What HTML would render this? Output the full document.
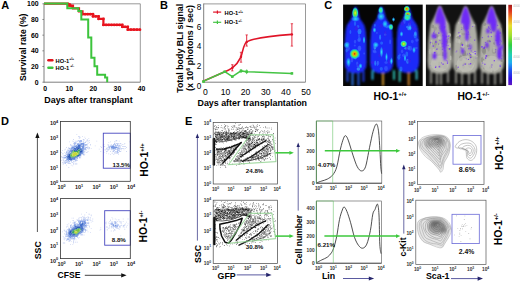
<!DOCTYPE html>
<html><head><meta charset="utf-8"><style>
html,body{margin:0;padding:0;background:#fff;width:520px;height:282px;overflow:hidden}
svg{display:block}
text{font-family:"Liberation Sans", sans-serif}
</style></head><body>
<svg width="520" height="282" viewBox="0 0 520 282" font-family="Liberation Sans, sans-serif">
<rect width="520" height="282" fill="#fff"/>
<text x="1.2" y="9.1" font-size="11" font-weight="bold" text-anchor="start" fill="#000">A</text>
<text x="160.0" y="8.8" font-size="11" font-weight="bold" text-anchor="start" fill="#000">B</text>
<text x="324.3" y="9.0" font-size="11" font-weight="bold" text-anchor="start" fill="#000">C</text>
<text x="1.0" y="125.2" font-size="11" font-weight="bold" text-anchor="start" fill="#000">D</text>
<text x="185.0" y="125.2" font-size="11" font-weight="bold" text-anchor="start" fill="#000">E</text>
<line x1="44.0" y1="3.8" x2="140.3" y2="3.8" stroke="#808080" stroke-width="0.8"/>
<line x1="140.3" y1="3.8" x2="140.3" y2="82.2" stroke="#808080" stroke-width="0.8"/>
<line x1="44.0" y1="3.4" x2="44.0" y2="82.60000000000001" stroke="#707070" stroke-width="0.9"/>
<line x1="44.0" y1="82.2" x2="140.3" y2="82.2" stroke="#707070" stroke-width="0.9"/>
<line x1="42.4" y1="82.2" x2="44.0" y2="82.2" stroke="#707070" stroke-width="0.8"/>
<text x="38.6" y="84.60000000000001" font-size="6.9" font-weight="bold" text-anchor="end" fill="#000">0</text>
<line x1="42.4" y1="66.52000000000001" x2="44.0" y2="66.52000000000001" stroke="#707070" stroke-width="0.8"/>
<text x="38.6" y="68.92000000000002" font-size="6.9" font-weight="bold" text-anchor="end" fill="#000">20</text>
<line x1="42.4" y1="50.84" x2="44.0" y2="50.84" stroke="#707070" stroke-width="0.8"/>
<text x="38.6" y="53.24" font-size="6.9" font-weight="bold" text-anchor="end" fill="#000">40</text>
<line x1="42.4" y1="35.160000000000004" x2="44.0" y2="35.160000000000004" stroke="#707070" stroke-width="0.8"/>
<text x="38.6" y="37.56" font-size="6.9" font-weight="bold" text-anchor="end" fill="#000">60</text>
<line x1="42.4" y1="19.480000000000004" x2="44.0" y2="19.480000000000004" stroke="#707070" stroke-width="0.8"/>
<text x="38.6" y="21.880000000000003" font-size="6.9" font-weight="bold" text-anchor="end" fill="#000">80</text>
<line x1="42.4" y1="3.799999999999997" x2="44.0" y2="3.799999999999997" stroke="#707070" stroke-width="0.8"/>
<text x="38.6" y="6.1999999999999975" font-size="6.9" font-weight="bold" text-anchor="end" fill="#000">100</text>
<text x="45.2" y="90.8" font-size="6.9" font-weight="bold" text-anchor="middle" fill="#000">0</text>
<text x="69.275" y="90.8" font-size="6.9" font-weight="bold" text-anchor="middle" fill="#000">10</text>
<text x="93.35000000000001" y="90.8" font-size="6.9" font-weight="bold" text-anchor="middle" fill="#000">20</text>
<text x="117.42500000000001" y="90.8" font-size="6.9" font-weight="bold" text-anchor="middle" fill="#000">30</text>
<text x="141.5" y="90.8" font-size="6.9" font-weight="bold" text-anchor="middle" fill="#000">40</text>
<text x="44.3" y="102.9" font-size="8.9" font-weight="bold" text-anchor="start" fill="#000">Days after transplant</text>
<text x="25.8" y="47.2" font-size="8.6" font-weight="bold" text-anchor="middle" fill="#000" transform="rotate(-90 25.8 47.2)">Survival rate (%)</text>
<polyline points="44.00,3.70 68.00,3.70 68.00,5.60 73.00,5.60 73.00,8.40 79.00,8.40 79.00,11.40 82.50,11.40 82.50,14.20 93.00,14.20 93.00,16.30 98.60,16.30 98.60,18.90 103.40,18.90 103.40,24.90 122.30,24.90 122.30,26.80 127.80,26.80 127.80,29.70 140.00,29.70" stroke="#e8141e" stroke-width="2.2" fill="none"/>
<circle cx="82.50" cy="14.2" r="1.35" fill="#e8141e"/>
<circle cx="85.12" cy="14.2" r="1.35" fill="#e8141e"/>
<circle cx="87.75" cy="14.2" r="1.35" fill="#e8141e"/>
<circle cx="90.38" cy="14.2" r="1.35" fill="#e8141e"/>
<circle cx="93.00" cy="14.2" r="1.35" fill="#e8141e"/>
<circle cx="93.00" cy="16.3" r="1.35" fill="#e8141e"/>
<circle cx="95.80" cy="16.3" r="1.35" fill="#e8141e"/>
<circle cx="98.60" cy="16.3" r="1.35" fill="#e8141e"/>
<circle cx="98.60" cy="18.9" r="1.35" fill="#e8141e"/>
<circle cx="103.40" cy="18.9" r="1.35" fill="#e8141e"/>
<circle cx="103.40" cy="24.9" r="1.35" fill="#e8141e"/>
<circle cx="106.10" cy="24.9" r="1.35" fill="#e8141e"/>
<circle cx="108.80" cy="24.9" r="1.35" fill="#e8141e"/>
<circle cx="111.50" cy="24.9" r="1.35" fill="#e8141e"/>
<circle cx="114.20" cy="24.9" r="1.35" fill="#e8141e"/>
<circle cx="116.90" cy="24.9" r="1.35" fill="#e8141e"/>
<circle cx="119.60" cy="24.9" r="1.35" fill="#e8141e"/>
<circle cx="122.30" cy="24.9" r="1.35" fill="#e8141e"/>
<circle cx="122.30" cy="26.8" r="1.35" fill="#e8141e"/>
<circle cx="125.05" cy="26.8" r="1.35" fill="#e8141e"/>
<circle cx="127.80" cy="26.8" r="1.35" fill="#e8141e"/>
<circle cx="127.80" cy="29.7" r="1.35" fill="#e8141e"/>
<circle cx="130.85" cy="29.7" r="1.35" fill="#e8141e"/>
<circle cx="133.90" cy="29.7" r="1.35" fill="#e8141e"/>
<circle cx="136.95" cy="29.7" r="1.35" fill="#e8141e"/>
<circle cx="140.00" cy="29.7" r="1.35" fill="#e8141e"/>
<circle cx="69.5" cy="4.8" r="1.9" fill="#e8141e"/><circle cx="71.8" cy="6.2" r="1.5" fill="#e8141e"/>
<polyline points="44.00,3.60 67.30,3.60 67.30,8.20 78.30,8.20 78.30,11.00 81.30,11.00 81.30,19.60 88.20,19.60 88.20,37.60 91.30,37.60 91.30,57.70 94.50,57.70 94.50,66.20 97.20,66.20 97.20,74.70 105.10,74.70 105.10,77.40 107.20,77.40 107.20,82.20" stroke="#3cc43c" stroke-width="2.0" fill="none"/>
<rect x="47.2" y="59.0" width="6.4" height="2.5" rx="1.2" fill="#e0141e"/>
<rect x="47.2" y="66.4" width="6.4" height="2.5" rx="1.2" fill="#3cc43c"/>
<text x="55.6" y="62.6" font-size="5.7" font-weight="bold" text-anchor="start" fill="#000">HO-1<tspan font-size="3.4" dy="-2.2">+/+</tspan></text>
<text x="55.6" y="69.6" font-size="5.7" font-weight="bold" text-anchor="start" fill="#000">HO-1<tspan font-size="3.4" dy="-2.2"> +/-</tspan></text>
<line x1="203.7" y1="3.9" x2="305.5" y2="3.9" stroke="#808080" stroke-width="0.8"/>
<line x1="305.5" y1="3.9" x2="305.5" y2="82.2" stroke="#808080" stroke-width="0.8"/>
<line x1="203.7" y1="3.5" x2="203.7" y2="82.60000000000001" stroke="#707070" stroke-width="0.9"/>
<line x1="203.7" y1="82.2" x2="305.5" y2="82.2" stroke="#707070" stroke-width="0.9"/>
<text x="199.0" y="88.60000000000001" font-size="8.2" font-weight="normal" text-anchor="middle" fill="#000">0</text>
<text x="199.0" y="69.0" font-size="8.2" font-weight="normal" text-anchor="middle" fill="#000">2</text>
<text x="199.0" y="49.4" font-size="8.2" font-weight="normal" text-anchor="middle" fill="#000">4</text>
<text x="199.0" y="29.799999999999997" font-size="8.2" font-weight="normal" text-anchor="middle" fill="#000">6</text>
<text x="199.0" y="10.199999999999998" font-size="8.2" font-weight="normal" text-anchor="middle" fill="#000">8</text>
<text x="205.29999999999998" y="94.9" font-size="8.6" font-weight="normal" text-anchor="middle" fill="#000">0</text>
<text x="225.45" y="94.9" font-size="8.6" font-weight="normal" text-anchor="middle" fill="#000">10</text>
<text x="245.6" y="94.9" font-size="8.6" font-weight="normal" text-anchor="middle" fill="#000">20</text>
<text x="265.75" y="94.9" font-size="8.6" font-weight="normal" text-anchor="middle" fill="#000">30</text>
<text x="285.9" y="94.9" font-size="8.6" font-weight="normal" text-anchor="middle" fill="#000">40</text>
<text x="306.04999999999995" y="94.9" font-size="8.6" font-weight="normal" text-anchor="middle" fill="#000">50</text>
<text x="197.5" y="105.6" font-size="8.9" font-weight="bold" text-anchor="start" fill="#000">Days after transplantation</text>
<text x="183.2" y="48.3" font-size="8.9" font-weight="bold" text-anchor="middle" fill="#000" transform="rotate(-90 183.2 48.3)">Total body BLI signal</text>
<text x="193.3" y="48.0" font-size="8.9" font-weight="bold" text-anchor="middle" fill="#000" transform="rotate(-90 193.3 48.0)">(x 10<tspan font-size="5.5" dy="-3.3">6</tspan><tspan dy="3.3"> photons / sec)</tspan></text>
<path d="M202.5,81.6 L224.8,71.7 C228,70.5 230,69.5 232.3,67.9 C236,65 239,61 241,56.8 C243,51 243.5,44 246.7,41.9 C252,38.5 270,36 291.9,34.4" stroke="#e01428" stroke-width="1.6" fill="none"/>
<line x1="232.3" y1="64.7" x2="232.3" y2="70.9" stroke="#e01428" stroke-width="0.9"/>
<line x1="231.10000000000002" y1="64.7" x2="233.5" y2="64.7" stroke="#e01428" stroke-width="0.7"/>
<line x1="231.10000000000002" y1="70.9" x2="233.5" y2="70.9" stroke="#e01428" stroke-width="0.7"/>
<circle cx="232.3" cy="67.9" r="1.2" fill="#e01428"/>
<line x1="241" y1="52.3" x2="241" y2="62.2" stroke="#e01428" stroke-width="0.9"/>
<line x1="239.8" y1="52.3" x2="242.2" y2="52.3" stroke="#e01428" stroke-width="0.7"/>
<line x1="239.8" y1="62.2" x2="242.2" y2="62.2" stroke="#e01428" stroke-width="0.7"/>
<circle cx="241" cy="56.8" r="1.2" fill="#e01428"/>
<line x1="246.7" y1="34.9" x2="246.7" y2="46.1" stroke="#e01428" stroke-width="0.9"/>
<line x1="245.5" y1="34.9" x2="247.89999999999998" y2="34.9" stroke="#e01428" stroke-width="0.7"/>
<line x1="245.5" y1="46.1" x2="247.89999999999998" y2="46.1" stroke="#e01428" stroke-width="0.7"/>
<circle cx="246.7" cy="41.9" r="1.2" fill="#e01428"/>
<line x1="291.9" y1="23.7" x2="291.9" y2="46.1" stroke="#e01428" stroke-width="0.9"/>
<line x1="290.7" y1="23.7" x2="293.09999999999997" y2="23.7" stroke="#e01428" stroke-width="0.7"/>
<line x1="290.7" y1="46.1" x2="293.09999999999997" y2="46.1" stroke="#e01428" stroke-width="0.7"/>
<circle cx="291.9" cy="34.4" r="1.2" fill="#e01428"/>
<polyline points="202.50,81.60 224.80,71.70 232.30,76.60 241.00,70.90 246.70,71.70 291.90,73.40" stroke="#44c444" stroke-width="1.5" fill="none"/>
<rect x="223.5" y="70.4" width="2.6" height="2.6" fill="#44c444"/>
<rect x="231.0" y="75.3" width="2.6" height="2.6" fill="#44c444"/>
<rect x="239.7" y="69.60000000000001" width="2.6" height="2.6" fill="#44c444"/>
<rect x="245.39999999999998" y="70.4" width="2.6" height="2.6" fill="#44c444"/>
<rect x="290.59999999999997" y="72.10000000000001" width="2.6" height="2.6" fill="#44c444"/>
<rect x="202.2" y="80.3" width="2.6" height="2.6" fill="#44c444"/>
<line x1="241" y1="69" x2="241" y2="73" stroke="#44c444" stroke-width="0.9"/>
<line x1="246.7" y1="69.5" x2="246.7" y2="74.1" stroke="#44c444" stroke-width="0.9"/>
<line x1="213.1" y1="12.1" x2="221.2" y2="12.1" stroke="#e01428" stroke-width="1.2"/>
<line x1="217.4" y1="10.4" x2="217.4" y2="13.8" stroke="#e01428" stroke-width="1.2"/>
<line x1="213.1" y1="22.3" x2="221.2" y2="22.3" stroke="#44c444" stroke-width="1.2"/>
<line x1="217.4" y1="20.6" x2="217.4" y2="24.0" stroke="#44c444" stroke-width="1.2"/>
<text x="224.6" y="15.1" font-size="5.7" font-weight="bold" text-anchor="start" fill="#000">HO-1<tspan font-size="3.4" dy="-2.2">+/+</tspan></text>
<text x="224.6" y="24.2" font-size="5.7" font-weight="bold" text-anchor="start" fill="#000">HO-1<tspan font-size="3.4" dy="-2.2">+/-</tspan></text>
<defs>
<filter id="bl1" x="-20%" y="-20%" width="140%" height="140%"><feGaussianBlur stdDeviation="0.8"/></filter>
<filter id="bl2" x="-50%" y="-50%" width="200%" height="200%"><feGaussianBlur stdDeviation="1.4"/></filter>
<filter id="bl05" x="-30%" y="-30%" width="160%" height="160%"><feGaussianBlur stdDeviation="0.55"/></filter>
<radialGradient id="hotR"><stop offset="0" stop-color="#c01010"/><stop offset="0.22" stop-color="#f0a000"/><stop offset="0.45" stop-color="#a0e020"/><stop offset="0.7" stop-color="#20e0a0"/><stop offset="1" stop-color="#20c0ff" stop-opacity="0"/></radialGradient>
<radialGradient id="hotY"><stop offset="0" stop-color="#f0f020"/><stop offset="0.35" stop-color="#80e030"/><stop offset="0.7" stop-color="#20e0c0"/><stop offset="1" stop-color="#20b0ff" stop-opacity="0"/></radialGradient>
<radialGradient id="hotG"><stop offset="0" stop-color="#60f060"/><stop offset="0.5" stop-color="#20e0d0"/><stop offset="1" stop-color="#20a0ff" stop-opacity="0"/></radialGradient>
<radialGradient id="hotC"><stop offset="0" stop-color="#30e8f0"/><stop offset="0.6" stop-color="#20a0ff" stop-opacity="0.7"/><stop offset="1" stop-color="#2060ff" stop-opacity="0"/></radialGradient>
<radialGradient id="hotO"><stop offset="0" stop-color="#f0a020"/><stop offset="0.5" stop-color="#c0d030"/><stop offset="1" stop-color="#40c0a0" stop-opacity="0"/></radialGradient>
<linearGradient id="cbar" x1="0" y1="0" x2="0" y2="1">
<stop offset="0" stop-color="#a01818"/><stop offset="0.08" stop-color="#e03820"/><stop offset="0.17" stop-color="#f09020"/><stop offset="0.26" stop-color="#e8e030"/><stop offset="0.38" stop-color="#a0e030"/><stop offset="0.5" stop-color="#30d040"/><stop offset="0.62" stop-color="#20d0b0"/><stop offset="0.72" stop-color="#20b0f0"/><stop offset="0.82" stop-color="#2050f0"/><stop offset="0.92" stop-color="#3010e0"/><stop offset="1" stop-color="#6018c0"/></linearGradient>
<clipPath id="clipL"><rect x="343.1" y="4.6" width="79.6" height="81.4"/></clipPath>
<clipPath id="clipR"><rect x="425.9" y="4.6" width="80.2" height="81.4"/></clipPath>
</defs>
<rect x="343.1" y="4.6" width="79.6" height="81.4" fill="#050505"/>
<g clip-path="url(#clipL)">
<g filter="url(#bl1)">
<rect x="346.6" y="70" width="1.8" height="12" rx="0.9" fill="#2050f0"/>
<rect x="351.6" y="72" width="1.8" height="14" rx="0.9" fill="#3080ff"/>
<rect x="357.6" y="72" width="1.8" height="14" rx="0.9" fill="#2060f0"/>
<rect x="362.6" y="70" width="1.8" height="12" rx="0.9" fill="#2040f0"/>
<rect x="371.6" y="70" width="1.8" height="10" rx="0.9" fill="#30c0f0"/>
<rect x="382.1" y="72" width="1.8" height="14" rx="0.9" fill="#e0a030"/>
<rect x="393.1" y="70" width="1.8" height="10" rx="0.9" fill="#30d0c0"/>
<rect x="398.8" y="70" width="1.8" height="12" rx="0.9" fill="#40d0c0"/>
<rect x="407.8" y="70" width="1.8" height="16" rx="0.9" fill="#e09030"/>
<rect x="415.70000000000005" y="70" width="1.8" height="10" rx="0.9" fill="#40d0e0"/>
<path d="M355.6,6.2 L356.4,7.3 L357.0,8.4 L357.5,9.6 L357.9,10.7 L358.3,11.8 L358.5,12.9 L358.8,14.0 L359.0,15.1 L359.3,16.2 L359.7,17.4 L360.0,18.5 L360.5,19.6 L361.3,20.7 L362.1,21.8 L362.9,22.9 L363.6,24.1 L364.3,25.2 L364.7,26.3 L364.9,27.4 L365.2,28.5 L365.4,29.6 L365.6,30.8 L365.8,31.9 L365.8,33.0 L365.9,34.1 L366.0,35.2 L366.1,36.4 L366.2,37.5 L366.3,38.6 L366.3,39.7 L366.4,40.8 L366.5,41.9 L366.5,43.1 L366.5,44.2 L366.5,45.3 L366.5,46.4 L366.5,47.5 L366.5,48.6 L366.5,49.8 L366.6,50.9 L366.6,52.0 L366.6,53.1 L366.6,54.2 L366.6,55.3 L366.6,56.5 L366.6,57.6 L366.6,58.7 L366.6,59.8 L366.6,60.9 L366.7,62.0 L366.5,63.2 L366.4,64.3 L366.3,65.4 L366.2,66.5 L365.9,67.6 L365.3,68.7 L364.7,69.8 L363.5,71.0 L362.1,72.1 L358.5,73.2 L352.7,73.2 L349.1,72.1 L347.7,71.0 L346.5,69.8 L345.9,68.7 L345.3,67.6 L345.0,66.5 L344.9,65.4 L344.8,64.3 L344.7,63.2 L344.5,62.0 L344.6,60.9 L344.6,59.8 L344.6,58.7 L344.6,57.6 L344.6,56.5 L344.6,55.3 L344.6,54.2 L344.6,53.1 L344.6,52.0 L344.6,50.9 L344.7,49.8 L344.7,48.6 L344.7,47.5 L344.7,46.4 L344.7,45.3 L344.7,44.2 L344.7,43.1 L344.7,41.9 L344.8,40.8 L344.9,39.7 L344.9,38.6 L345.0,37.5 L345.1,36.4 L345.2,35.2 L345.3,34.1 L345.4,33.0 L345.4,31.9 L345.6,30.8 L345.8,29.6 L346.0,28.5 L346.3,27.4 L346.5,26.3 L346.9,25.2 L347.6,24.1 L348.3,22.9 L349.1,21.8 L349.9,20.7 L350.7,19.6 L351.2,18.5 L351.5,17.4 L351.9,16.2 L352.2,15.1 L352.4,14.0 L352.7,12.9 L352.9,11.8 L353.3,10.7 L353.7,9.6 L354.2,8.4 L354.8,7.3 L355.6,6.2 Z" fill="#1a2cf8"/>
<path d="M381.6,6.2 L382.4,7.3 L383.1,8.4 L383.6,9.6 L384.0,10.7 L384.4,11.8 L384.7,12.9 L385.0,14.0 L385.2,15.1 L385.5,16.2 L385.9,17.4 L386.3,18.5 L386.8,19.6 L387.6,20.7 L388.5,21.8 L389.2,22.9 L390.0,24.1 L390.7,25.2 L391.1,26.3 L391.4,27.4 L391.6,28.5 L391.9,29.6 L392.2,30.8 L392.3,31.9 L392.4,33.0 L392.5,34.1 L392.5,35.2 L392.6,36.4 L392.7,37.5 L392.8,38.6 L392.9,39.7 L393.0,40.8 L393.0,41.9 L393.0,43.1 L393.1,44.2 L393.1,45.3 L393.1,46.4 L393.1,47.5 L393.1,48.6 L393.1,49.8 L393.1,50.9 L393.1,52.0 L393.1,53.1 L393.2,54.2 L393.2,55.3 L393.2,56.5 L393.2,57.6 L393.2,58.7 L393.2,59.8 L393.2,60.9 L393.2,62.0 L393.1,63.2 L393.0,64.3 L392.8,65.4 L392.7,66.5 L392.4,67.6 L391.8,68.7 L391.2,69.8 L389.9,71.0 L388.4,72.1 L384.7,73.2 L378.5,73.2 L374.8,72.1 L373.3,71.0 L372.0,69.8 L371.4,68.7 L370.8,67.6 L370.5,66.5 L370.4,65.4 L370.2,64.3 L370.1,63.2 L370.0,62.0 L370.0,60.9 L370.0,59.8 L370.0,58.7 L370.0,57.6 L370.0,56.5 L370.0,55.3 L370.0,54.2 L370.1,53.1 L370.1,52.0 L370.1,50.9 L370.1,49.8 L370.1,48.6 L370.1,47.5 L370.1,46.4 L370.1,45.3 L370.1,44.2 L370.2,43.1 L370.2,41.9 L370.2,40.8 L370.3,39.7 L370.4,38.6 L370.5,37.5 L370.6,36.4 L370.7,35.2 L370.7,34.1 L370.8,33.0 L370.9,31.9 L371.0,30.8 L371.3,29.6 L371.6,28.5 L371.8,27.4 L372.1,26.3 L372.5,25.2 L373.2,24.1 L374.0,22.9 L374.7,21.8 L375.6,20.7 L376.4,19.6 L376.9,18.5 L377.3,17.4 L377.7,16.2 L378.0,15.1 L378.2,14.0 L378.5,12.9 L378.8,11.8 L379.2,10.7 L379.6,9.6 L380.1,8.4 L380.8,7.3 L381.6,6.2 Z" fill="#1a2cf8"/>
<path d="M407.8,5.7 L408.6,6.8 L409.3,7.9 L409.7,9.1 L410.2,10.2 L410.6,11.3 L410.8,12.4 L411.1,13.5 L411.4,14.6 L411.6,15.8 L412.0,16.9 L412.4,18.0 L412.9,19.1 L413.7,20.2 L414.5,21.3 L415.3,22.4 L416.0,23.6 L416.7,24.7 L417.2,25.8 L417.4,26.9 L417.7,28.0 L417.9,29.1 L418.1,30.3 L418.3,31.4 L418.4,32.5 L418.4,33.6 L418.5,34.7 L418.6,35.9 L418.7,37.0 L418.8,38.1 L418.9,39.2 L419.0,40.3 L419.0,41.4 L419.0,42.6 L419.0,43.7 L419.0,44.8 L419.0,45.9 L419.1,47.0 L419.1,48.1 L419.1,49.2 L419.1,50.4 L419.1,51.5 L419.1,52.6 L419.1,53.7 L419.1,54.8 L419.1,56.0 L419.2,57.1 L419.2,58.2 L419.2,59.3 L419.2,60.4 L419.2,61.5 L419.1,62.7 L419.0,63.8 L418.8,64.9 L418.7,66.0 L418.4,67.1 L417.8,68.2 L417.2,69.3 L416.0,70.5 L414.5,71.6 L410.8,72.7 L404.8,72.7 L401.1,71.6 L399.6,70.5 L398.4,69.3 L397.8,68.2 L397.2,67.1 L396.9,66.0 L396.8,64.9 L396.6,63.8 L396.5,62.7 L396.4,61.5 L396.4,60.4 L396.4,59.3 L396.4,58.2 L396.4,57.1 L396.5,56.0 L396.5,54.8 L396.5,53.7 L396.5,52.6 L396.5,51.5 L396.5,50.4 L396.5,49.2 L396.5,48.1 L396.5,47.0 L396.6,45.9 L396.6,44.8 L396.6,43.7 L396.6,42.6 L396.6,41.4 L396.6,40.3 L396.7,39.2 L396.8,38.1 L396.9,37.0 L397.0,35.9 L397.1,34.7 L397.2,33.6 L397.2,32.5 L397.3,31.4 L397.5,30.3 L397.7,29.1 L397.9,28.0 L398.2,26.9 L398.4,25.8 L398.9,24.7 L399.6,23.6 L400.3,22.4 L401.1,21.3 L401.9,20.2 L402.7,19.1 L403.2,18.0 L403.6,16.9 L404.0,15.8 L404.2,14.6 L404.5,13.5 L404.8,12.4 L405.0,11.3 L405.4,10.2 L405.9,9.1 L406.3,7.9 L407.0,6.8 L407.8,5.7 Z" fill="#1a2cf8"/>
</g>
<g filter="url(#bl05)">
<ellipse cx="359.5" cy="48.6" rx="1.4" ry="2.8" fill="#3a60ff" opacity="0.6"/>
<ellipse cx="348.8" cy="65.2" rx="0.9" ry="1.9" fill="#3a60ff" opacity="0.6"/>
<ellipse cx="355.0" cy="23.6" rx="1.1" ry="2.4" fill="#2880ff" opacity="0.6"/>
<ellipse cx="346.7" cy="50.6" rx="1.1" ry="1.8" fill="#2880ff" opacity="0.6"/>
<ellipse cx="359.0" cy="35.8" rx="1.0" ry="2.1" fill="#3a60ff" opacity="0.6"/>
<ellipse cx="352.0" cy="59.7" rx="1.3" ry="2.9" fill="#3a60ff" opacity="0.6"/>
<ellipse cx="358.4" cy="69.0" rx="1.8" ry="1.8" fill="#40c8f0" opacity="0.6"/>
<ellipse cx="358.0" cy="26.6" rx="1.2" ry="1.5" fill="#2880ff" opacity="0.6"/>
<ellipse cx="355.0" cy="41.7" rx="1.2" ry="1.9" fill="#3a60ff" opacity="0.6"/>
<ellipse cx="357.2" cy="63.5" rx="1.1" ry="1.9" fill="#3a60ff" opacity="0.6"/>
<ellipse cx="350.4" cy="32.1" rx="0.9" ry="2.0" fill="#2880ff" opacity="0.6"/>
<ellipse cx="359.4" cy="39.6" rx="1.6" ry="2.4" fill="#2880ff" opacity="0.6"/>
<ellipse cx="358.7" cy="40.1" rx="1.5" ry="1.7" fill="#3a60ff" opacity="0.6"/>
<ellipse cx="347.5" cy="43.6" rx="2.0" ry="1.5" fill="#3a60ff" opacity="0.6"/>
<ellipse cx="358.4" cy="55.4" rx="1.4" ry="2.2" fill="#2880ff" opacity="0.6"/>
<ellipse cx="349.2" cy="25.4" rx="1.0" ry="1.2" fill="#3a20e8" opacity="0.6"/>
<ellipse cx="356.5" cy="28.4" rx="1.9" ry="2.4" fill="#3a20e8" opacity="0.6"/>
<ellipse cx="359.4" cy="48.2" rx="1.9" ry="2.7" fill="#3a60ff" opacity="0.6"/>
<ellipse cx="355.2" cy="57.1" rx="1.7" ry="2.3" fill="#30a8ff" opacity="0.6"/>
<ellipse cx="358.0" cy="66.1" rx="1.5" ry="1.4" fill="#3a60ff" opacity="0.6"/>
<ellipse cx="359.5" cy="31.4" rx="2.0" ry="2.7" fill="#30a8ff" opacity="0.6"/>
<ellipse cx="348.0" cy="48.3" rx="1.9" ry="2.6" fill="#3a60ff" opacity="0.6"/>
<ellipse cx="354.8" cy="45.5" rx="1.0" ry="1.1" fill="#3a60ff" opacity="0.6"/>
<ellipse cx="358.2" cy="65.0" rx="1.3" ry="1.1" fill="#3a20e8" opacity="0.6"/>
<ellipse cx="359.6" cy="32.2" rx="1.4" ry="1.5" fill="#2880ff" opacity="0.6"/>
<ellipse cx="364.1" cy="53.5" rx="0.9" ry="1.1" fill="#3a60ff" opacity="0.6"/>
<ellipse cx="389.0" cy="26.2" rx="1.8" ry="1.3" fill="#2880ff" opacity="0.6"/>
<ellipse cx="385.2" cy="34.7" rx="1.2" ry="1.1" fill="#30a8ff" opacity="0.6"/>
<ellipse cx="377.5" cy="63.7" rx="1.0" ry="2.4" fill="#2880ff" opacity="0.6"/>
<ellipse cx="386.1" cy="62.6" rx="1.7" ry="1.3" fill="#3a60ff" opacity="0.6"/>
<ellipse cx="380.1" cy="37.3" rx="1.0" ry="2.8" fill="#30a8ff" opacity="0.6"/>
<ellipse cx="390.9" cy="60.6" rx="1.0" ry="1.5" fill="#3a60ff" opacity="0.6"/>
<ellipse cx="390.8" cy="61.9" rx="1.4" ry="1.6" fill="#2880ff" opacity="0.6"/>
<ellipse cx="389.0" cy="62.2" rx="1.1" ry="2.7" fill="#3a20e8" opacity="0.6"/>
<ellipse cx="378.0" cy="62.9" rx="1.3" ry="2.1" fill="#3a60ff" opacity="0.6"/>
<ellipse cx="387.1" cy="26.8" rx="1.7" ry="1.5" fill="#2880ff" opacity="0.6"/>
<ellipse cx="386.0" cy="68.5" rx="1.9" ry="2.4" fill="#3a60ff" opacity="0.6"/>
<ellipse cx="372.6" cy="62.5" rx="1.7" ry="1.6" fill="#3a20e8" opacity="0.6"/>
<ellipse cx="374.9" cy="47.0" rx="1.4" ry="2.7" fill="#40c8f0" opacity="0.6"/>
<ellipse cx="381.3" cy="25.8" rx="1.9" ry="1.9" fill="#3a20e8" opacity="0.6"/>
<ellipse cx="374.9" cy="25.5" rx="0.9" ry="1.4" fill="#2880ff" opacity="0.6"/>
<ellipse cx="381.6" cy="43.1" rx="1.5" ry="1.7" fill="#2880ff" opacity="0.6"/>
<ellipse cx="374.9" cy="51.9" rx="1.8" ry="1.3" fill="#3a60ff" opacity="0.6"/>
<ellipse cx="376.9" cy="32.9" rx="0.8" ry="1.1" fill="#3a60ff" opacity="0.6"/>
<ellipse cx="375.0" cy="44.4" rx="1.8" ry="2.2" fill="#2880ff" opacity="0.6"/>
<ellipse cx="379.5" cy="55.5" rx="1.3" ry="1.7" fill="#3a20e8" opacity="0.6"/>
<ellipse cx="374.4" cy="50.9" rx="1.8" ry="1.5" fill="#3a60ff" opacity="0.6"/>
<ellipse cx="390.1" cy="41.9" rx="1.0" ry="2.4" fill="#3a60ff" opacity="0.6"/>
<ellipse cx="383.8" cy="49.4" rx="1.3" ry="1.0" fill="#3a20e8" opacity="0.6"/>
<ellipse cx="385.4" cy="34.0" rx="1.2" ry="3.0" fill="#3a20e8" opacity="0.6"/>
<ellipse cx="381.3" cy="68.8" rx="1.6" ry="1.9" fill="#2880ff" opacity="0.6"/>
<ellipse cx="375.2" cy="63.3" rx="0.9" ry="2.7" fill="#30a8ff" opacity="0.6"/>
<ellipse cx="406.8" cy="54.1" rx="1.4" ry="2.6" fill="#2880ff" opacity="0.6"/>
<ellipse cx="407.9" cy="27.1" rx="1.9" ry="1.4" fill="#30a8ff" opacity="0.6"/>
<ellipse cx="415.1" cy="33.8" rx="0.9" ry="2.4" fill="#3a60ff" opacity="0.6"/>
<ellipse cx="412.3" cy="41.6" rx="1.4" ry="1.8" fill="#3a60ff" opacity="0.6"/>
<ellipse cx="415.2" cy="35.6" rx="1.7" ry="2.8" fill="#2880ff" opacity="0.6"/>
<ellipse cx="415.4" cy="33.7" rx="1.4" ry="2.1" fill="#30a8ff" opacity="0.6"/>
<ellipse cx="412.1" cy="27.2" rx="1.4" ry="1.3" fill="#3a20e8" opacity="0.6"/>
<ellipse cx="409.5" cy="25.2" rx="1.6" ry="2.6" fill="#3a60ff" opacity="0.6"/>
<ellipse cx="401.0" cy="68.9" rx="1.5" ry="2.3" fill="#2880ff" opacity="0.6"/>
<ellipse cx="408.9" cy="47.8" rx="1.3" ry="2.1" fill="#30a8ff" opacity="0.6"/>
<ellipse cx="399.9" cy="54.9" rx="0.9" ry="1.3" fill="#3a60ff" opacity="0.6"/>
<ellipse cx="404.3" cy="21.8" rx="1.4" ry="2.1" fill="#3a60ff" opacity="0.6"/>
<ellipse cx="407.5" cy="61.3" rx="1.3" ry="2.5" fill="#30a8ff" opacity="0.6"/>
<ellipse cx="410.2" cy="48.2" rx="1.9" ry="2.5" fill="#3a60ff" opacity="0.6"/>
<ellipse cx="408.4" cy="28.7" rx="0.9" ry="1.6" fill="#40c8f0" opacity="0.6"/>
<ellipse cx="398.9" cy="57.3" rx="1.5" ry="2.5" fill="#2880ff" opacity="0.6"/>
<ellipse cx="416.2" cy="48.1" rx="1.5" ry="1.1" fill="#3a60ff" opacity="0.6"/>
<ellipse cx="406.3" cy="48.3" rx="1.9" ry="1.3" fill="#40c8f0" opacity="0.6"/>
<ellipse cx="402.5" cy="23.7" rx="1.7" ry="2.1" fill="#3a20e8" opacity="0.6"/>
<ellipse cx="407.1" cy="47.4" rx="1.3" ry="3.0" fill="#3a20e8" opacity="0.6"/>
<ellipse cx="409.2" cy="61.1" rx="1.9" ry="1.8" fill="#3a20e8" opacity="0.6"/>
<ellipse cx="402.1" cy="51.4" rx="1.2" ry="1.8" fill="#3a60ff" opacity="0.6"/>
<ellipse cx="409.9" cy="22.8" rx="1.5" ry="2.2" fill="#3a20e8" opacity="0.6"/>
<ellipse cx="403.8" cy="55.2" rx="1.7" ry="1.8" fill="#3a60ff" opacity="0.6"/>
<ellipse cx="414.7" cy="29.0" rx="1.9" ry="1.6" fill="#3a20e8" opacity="0.6"/>
<ellipse cx="416.9" cy="40.0" rx="1.7" ry="1.8" fill="#3a60ff" opacity="0.6"/>
</g>
<g filter="url(#bl05)">
<ellipse cx="355.2" cy="13.0" rx="3.3" ry="6.0" fill="url(#hotY)"/>
<ellipse cx="355.5" cy="19.0" rx="4.5" ry="3.0" fill="url(#hotC)"/>
<ellipse cx="354.6" cy="53.9" rx="5.4" ry="5.4" fill="url(#hotR)"/>
<ellipse cx="346.8" cy="45.1" rx="3.2" ry="3.6" fill="url(#hotC)"/>
<ellipse cx="348.5" cy="62.0" rx="2.6" ry="5.0" fill="url(#hotC)"/>
<ellipse cx="364.0" cy="40.0" rx="1.5" ry="4.0" fill="url(#hotC)"/>
<ellipse cx="360.5" cy="66.0" rx="2.0" ry="3.0" fill="url(#hotC)"/>
<ellipse cx="380.8" cy="10.3" rx="2.8" ry="4.2" fill="url(#hotG)"/>
<ellipse cx="381.0" cy="16.5" rx="4.2" ry="4.5" fill="url(#hotC)"/>
<ellipse cx="385.0" cy="24.0" rx="3.0" ry="4.0" fill="url(#hotC)"/>
<ellipse cx="390.9" cy="27.0" rx="2.8" ry="3.6" fill="url(#hotG)"/>
<ellipse cx="393.5" cy="19.5" rx="1.6" ry="2.5" fill="url(#hotC)"/>
<ellipse cx="375.9" cy="44.9" rx="3.2" ry="3.2" fill="url(#hotC)"/>
<ellipse cx="381.5" cy="52.0" rx="1.8" ry="6.0" fill="url(#hotC)"/>
<ellipse cx="386.5" cy="57.0" rx="1.5" ry="5.0" fill="url(#hotC)"/>
<ellipse cx="391.5" cy="61.0" rx="1.5" ry="4.0" fill="url(#hotC)"/>
<ellipse cx="374.5" cy="30.0" rx="1.8" ry="3.0" fill="url(#hotC)"/>
<ellipse cx="406.8" cy="8.9" rx="3.2" ry="3.2" fill="url(#hotR)"/>
<ellipse cx="407.8" cy="14.5" rx="3.6" ry="3.4" fill="url(#hotR)"/>
<ellipse cx="407.3" cy="17.5" rx="4.2" ry="4.0" fill="url(#hotG)"/>
<ellipse cx="403.7" cy="43.9" rx="3.6" ry="3.6" fill="url(#hotY)"/>
<ellipse cx="401.5" cy="34.0" rx="1.8" ry="3.0" fill="url(#hotC)"/>
<ellipse cx="414.0" cy="50.0" rx="2.0" ry="3.5" fill="url(#hotC)"/>
<ellipse cx="405.0" cy="58.0" rx="1.5" ry="4.0" fill="url(#hotC)"/>
<ellipse cx="410.0" cy="28.0" rx="2.0" ry="3.0" fill="url(#hotC)"/>
</g>
</g>
<rect x="425.9" y="4.6" width="80.2" height="81.4" fill="#121212"/>
<g clip-path="url(#clipR)">
<g filter="url(#bl1)">
<rect x="430.1" y="70" width="1.8" height="14" rx="0.9" fill="#9a9a94"/>
<rect x="436.1" y="72" width="1.8" height="13" rx="0.9" fill="#9a9a94"/>
<rect x="440.1" y="72" width="1.8" height="13" rx="0.9" fill="#9a9a94"/>
<rect x="447.1" y="70" width="1.8" height="13" rx="0.9" fill="#9a9a94"/>
<rect x="455.1" y="70" width="1.8" height="14" rx="0.9" fill="#9a9a94"/>
<rect x="461.1" y="72" width="1.8" height="13" rx="0.9" fill="#9a9a94"/>
<rect x="468.1" y="72" width="1.8" height="13" rx="0.9" fill="#9a9a94"/>
<rect x="474.1" y="70" width="1.8" height="14" rx="0.9" fill="#9a9a94"/>
<rect x="481.1" y="70" width="1.8" height="14" rx="0.9" fill="#9a9a94"/>
<rect x="487.1" y="72" width="1.8" height="13" rx="0.9" fill="#9a9a94"/>
<rect x="494.1" y="72" width="1.8" height="13" rx="0.9" fill="#9a9a94"/>
<rect x="500.1" y="70" width="1.8" height="14" rx="0.9" fill="#9a9a94"/>
<path d="M439.8,5.5 L440.8,6.6 L441.7,7.8 L442.0,8.9 L442.4,10.0 L442.7,11.2 L443.2,12.3 L443.7,13.4 L444.2,14.6 L444.8,15.7 L445.3,16.8 L445.8,18.0 L446.4,19.1 L447.0,20.2 L447.6,21.4 L448.2,22.5 L448.8,23.6 L449.2,24.8 L449.4,25.9 L449.5,27.0 L449.7,28.2 L449.8,29.3 L450.0,30.4 L450.1,31.6 L450.3,32.7 L450.4,33.8 L450.5,35.0 L450.7,36.1 L450.8,37.2 L450.9,38.4 L451.0,39.5 L451.1,40.6 L451.2,41.8 L451.3,42.9 L451.4,44.0 L451.4,45.2 L451.4,46.3 L451.5,47.4 L451.5,48.6 L451.6,49.7 L451.6,50.8 L451.7,52.0 L451.7,53.1 L451.8,54.2 L451.8,55.4 L451.8,56.5 L451.9,57.6 L451.9,58.8 L452.0,59.9 L452.0,61.0 L451.9,62.2 L451.8,63.3 L451.7,64.4 L451.6,65.6 L451.5,66.7 L451.2,67.8 L450.6,69.0 L450.0,70.1 L448.7,71.2 L447.0,72.4 L442.8,73.5 L436.8,73.5 L432.6,72.4 L430.9,71.2 L429.6,70.1 L429.0,69.0 L428.4,67.8 L428.1,66.7 L428.0,65.6 L427.9,64.4 L427.8,63.3 L427.7,62.2 L427.6,61.0 L427.6,59.9 L427.7,58.8 L427.7,57.6 L427.8,56.5 L427.8,55.4 L427.8,54.2 L427.9,53.1 L427.9,52.0 L428.0,50.8 L428.0,49.7 L428.1,48.6 L428.1,47.4 L428.2,46.3 L428.2,45.2 L428.2,44.0 L428.3,42.9 L428.4,41.8 L428.5,40.6 L428.6,39.5 L428.7,38.4 L428.8,37.2 L428.9,36.1 L429.1,35.0 L429.2,33.8 L429.3,32.7 L429.5,31.6 L429.6,30.4 L429.8,29.3 L429.9,28.2 L430.1,27.0 L430.2,25.9 L430.4,24.8 L430.8,23.6 L431.4,22.5 L432.0,21.4 L432.6,20.2 L433.2,19.1 L433.8,18.0 L434.3,16.8 L434.8,15.7 L435.4,14.6 L435.9,13.4 L436.4,12.3 L436.9,11.2 L437.2,10.0 L437.6,8.9 L437.9,7.8 L438.8,6.6 L439.8,5.5 Z" fill="#aeaea6"/>
<path d="M465.6,5.8 L466.7,6.9 L467.6,8.1 L468.0,9.2 L468.3,10.3 L468.7,11.5 L469.2,12.6 L469.7,13.7 L470.3,14.9 L470.9,16.0 L471.4,17.1 L472.0,18.3 L472.6,19.4 L473.2,20.5 L473.8,21.7 L474.5,22.8 L475.1,23.9 L475.6,25.1 L475.8,26.2 L475.9,27.3 L476.1,28.5 L476.2,29.6 L476.4,30.7 L476.6,31.9 L476.7,33.0 L476.9,34.1 L477.0,35.3 L477.1,36.4 L477.2,37.5 L477.4,38.7 L477.5,39.8 L477.6,40.9 L477.7,42.1 L477.8,43.2 L477.9,44.3 L477.9,45.5 L477.9,46.6 L478.0,47.7 L478.0,48.9 L478.1,50.0 L478.1,51.1 L478.2,52.3 L478.2,53.4 L478.3,54.5 L478.3,55.7 L478.4,56.8 L478.4,57.9 L478.5,59.1 L478.5,60.2 L478.5,61.3 L478.4,62.5 L478.3,63.6 L478.2,64.7 L478.1,65.9 L478.0,67.0 L477.7,68.1 L477.1,69.3 L476.4,70.4 L475.0,71.5 L473.2,72.7 L468.8,73.8 L462.4,73.8 L458.0,72.7 L456.2,71.5 L454.8,70.4 L454.1,69.3 L453.5,68.1 L453.2,67.0 L453.1,65.9 L453.0,64.7 L452.9,63.6 L452.8,62.5 L452.7,61.3 L452.7,60.2 L452.7,59.1 L452.8,57.9 L452.8,56.8 L452.9,55.7 L452.9,54.5 L453.0,53.4 L453.0,52.3 L453.1,51.1 L453.1,50.0 L453.2,48.9 L453.2,47.7 L453.3,46.6 L453.3,45.5 L453.3,44.3 L453.4,43.2 L453.5,42.1 L453.6,40.9 L453.7,39.8 L453.8,38.7 L454.0,37.5 L454.1,36.4 L454.2,35.3 L454.3,34.1 L454.5,33.0 L454.6,31.9 L454.8,30.7 L455.0,29.6 L455.1,28.5 L455.3,27.3 L455.4,26.2 L455.6,25.1 L456.1,23.9 L456.7,22.8 L457.4,21.7 L458.0,20.5 L458.6,19.4 L459.2,18.3 L459.8,17.1 L460.3,16.0 L460.9,14.9 L461.5,13.7 L462.0,12.6 L462.5,11.5 L462.9,10.3 L463.2,9.2 L463.6,8.1 L464.5,6.9 L465.6,5.8 Z" fill="#aeaea6"/>
<path d="M491.5,5.8 L492.5,6.9 L493.4,8.1 L493.8,9.2 L494.1,10.3 L494.5,11.5 L494.9,12.6 L495.5,13.7 L496.0,14.9 L496.6,16.0 L497.1,17.1 L497.7,18.3 L498.2,19.4 L498.8,20.5 L499.4,21.7 L500.0,22.8 L500.6,23.9 L501.1,25.1 L501.3,26.2 L501.4,27.3 L501.6,28.5 L501.7,29.6 L501.9,30.7 L502.0,31.9 L502.2,33.0 L502.3,34.1 L502.5,35.3 L502.6,36.4 L502.7,37.5 L502.8,38.7 L502.9,39.8 L503.0,40.9 L503.2,42.1 L503.2,43.2 L503.3,44.3 L503.3,45.5 L503.4,46.6 L503.4,47.7 L503.5,48.9 L503.5,50.0 L503.6,51.1 L503.6,52.3 L503.7,53.4 L503.7,54.5 L503.7,55.7 L503.8,56.8 L503.8,57.9 L503.9,59.1 L503.9,60.2 L503.9,61.3 L503.8,62.5 L503.7,63.6 L503.6,64.7 L503.5,65.9 L503.4,67.0 L503.2,68.1 L502.5,69.3 L501.9,70.4 L500.6,71.5 L498.8,72.7 L494.6,73.8 L488.4,73.8 L484.2,72.7 L482.4,71.5 L481.1,70.4 L480.5,69.3 L479.8,68.1 L479.6,67.0 L479.5,65.9 L479.4,64.7 L479.3,63.6 L479.2,62.5 L479.1,61.3 L479.1,60.2 L479.1,59.1 L479.2,57.9 L479.2,56.8 L479.3,55.7 L479.3,54.5 L479.3,53.4 L479.4,52.3 L479.4,51.1 L479.5,50.0 L479.5,48.9 L479.6,47.7 L479.6,46.6 L479.7,45.5 L479.7,44.3 L479.8,43.2 L479.8,42.1 L480.0,40.9 L480.1,39.8 L480.2,38.7 L480.3,37.5 L480.4,36.4 L480.5,35.3 L480.7,34.1 L480.8,33.0 L481.0,31.9 L481.1,30.7 L481.3,29.6 L481.4,28.5 L481.6,27.3 L481.7,26.2 L481.9,25.1 L482.4,23.9 L483.0,22.8 L483.6,21.7 L484.2,20.5 L484.8,19.4 L485.3,18.3 L485.9,17.1 L486.4,16.0 L487.0,14.9 L487.5,13.7 L488.1,12.6 L488.5,11.5 L488.9,10.3 L489.2,9.2 L489.6,8.1 L490.5,6.9 L491.5,5.8 Z" fill="#aeaea6"/>
</g>
<g filter="url(#bl05)">
<ellipse cx="444.4" cy="67.0" rx="1.8" ry="1.9" fill="#9a9890" opacity="0.7"/>
<ellipse cx="448.9" cy="48.8" rx="1.5" ry="1.5" fill="#9a9890" opacity="0.7"/>
<ellipse cx="440.4" cy="45.2" rx="0.9" ry="1.6" fill="#c4c4bc" opacity="0.7"/>
<ellipse cx="440.6" cy="27.5" rx="2.0" ry="1.9" fill="#9a9890" opacity="0.7"/>
<ellipse cx="450.6" cy="57.9" rx="0.9" ry="2.3" fill="#c4c4bc" opacity="0.7"/>
<ellipse cx="432.7" cy="26.4" rx="1.5" ry="1.9" fill="#8a8a84" opacity="0.7"/>
<ellipse cx="431.1" cy="43.2" rx="1.9" ry="1.6" fill="#8a8a84" opacity="0.7"/>
<ellipse cx="431.5" cy="42.7" rx="0.8" ry="2.9" fill="#c4c4bc" opacity="0.7"/>
<ellipse cx="439.9" cy="37.9" rx="2.1" ry="1.7" fill="#c4c4bc" opacity="0.7"/>
<ellipse cx="436.4" cy="35.8" rx="2.1" ry="1.9" fill="#8a8a84" opacity="0.7"/>
<ellipse cx="438.7" cy="51.8" rx="1.7" ry="2.4" fill="#b8b8b0" opacity="0.7"/>
<ellipse cx="449.3" cy="45.6" rx="1.8" ry="3.4" fill="#9a9890" opacity="0.7"/>
<ellipse cx="441.0" cy="66.0" rx="2.0" ry="2.1" fill="#9a9890" opacity="0.7"/>
<ellipse cx="439.4" cy="64.5" rx="1.3" ry="2.9" fill="#9a9890" opacity="0.7"/>
<ellipse cx="444.7" cy="25.1" rx="1.0" ry="2.6" fill="#c4c4bc" opacity="0.7"/>
<ellipse cx="443.0" cy="54.9" rx="1.0" ry="3.1" fill="#8a8a84" opacity="0.7"/>
<ellipse cx="444.9" cy="28.5" rx="0.8" ry="3.3" fill="#b8b8b0" opacity="0.7"/>
<ellipse cx="449.2" cy="35.0" rx="2.0" ry="1.9" fill="#c4c4bc" opacity="0.7"/>
<ellipse cx="433.7" cy="52.2" rx="1.2" ry="3.4" fill="#c4c4bc" opacity="0.7"/>
<ellipse cx="434.3" cy="61.6" rx="1.6" ry="1.3" fill="#b8b8b0" opacity="0.7"/>
<ellipse cx="435.5" cy="46.0" rx="1.7" ry="1.3" fill="#b8b8b0" opacity="0.7"/>
<ellipse cx="438.8" cy="56.7" rx="1.0" ry="1.0" fill="#b8b8b0" opacity="0.7"/>
<ellipse cx="446.9" cy="41.6" rx="1.2" ry="3.1" fill="#8a8a84" opacity="0.7"/>
<ellipse cx="435.0" cy="45.1" rx="1.6" ry="2.6" fill="#9a9890" opacity="0.7"/>
<ellipse cx="445.3" cy="23.6" rx="2.0" ry="2.4" fill="#b8b8b0" opacity="0.7"/>
<ellipse cx="445.6" cy="65.8" rx="1.8" ry="3.3" fill="#9a9890" opacity="0.7"/>
<ellipse cx="430.3" cy="51.5" rx="1.4" ry="2.7" fill="#b8b8b0" opacity="0.7"/>
<ellipse cx="436.0" cy="42.3" rx="1.5" ry="2.8" fill="#9a9890" opacity="0.7"/>
<ellipse cx="435.2" cy="28.6" rx="1.7" ry="2.1" fill="#9a9890" opacity="0.7"/>
<ellipse cx="449.0" cy="45.3" rx="1.8" ry="2.9" fill="#c4c4bc" opacity="0.7"/>
<ellipse cx="439.8" cy="63.5" rx="9" ry="8" fill="#c4c4bc" opacity="0.6"/>
<ellipse cx="472.3" cy="54.1" rx="1.9" ry="1.4" fill="#c4c4bc" opacity="0.7"/>
<ellipse cx="460.0" cy="34.4" rx="1.5" ry="1.7" fill="#c4c4bc" opacity="0.7"/>
<ellipse cx="463.4" cy="34.1" rx="2.0" ry="1.3" fill="#9a9890" opacity="0.7"/>
<ellipse cx="463.5" cy="66.6" rx="1.2" ry="2.1" fill="#9a9890" opacity="0.7"/>
<ellipse cx="470.4" cy="57.4" rx="1.5" ry="2.7" fill="#8a8a84" opacity="0.7"/>
<ellipse cx="473.1" cy="25.2" rx="2.2" ry="1.3" fill="#b8b8b0" opacity="0.7"/>
<ellipse cx="463.2" cy="70.8" rx="1.5" ry="1.3" fill="#b8b8b0" opacity="0.7"/>
<ellipse cx="458.1" cy="36.4" rx="1.7" ry="2.2" fill="#c4c4bc" opacity="0.7"/>
<ellipse cx="476.6" cy="56.5" rx="1.1" ry="1.0" fill="#b8b8b0" opacity="0.7"/>
<ellipse cx="458.5" cy="37.6" rx="2.0" ry="1.6" fill="#8a8a84" opacity="0.7"/>
<ellipse cx="464.9" cy="63.7" rx="2.2" ry="1.3" fill="#8a8a84" opacity="0.7"/>
<ellipse cx="472.1" cy="62.6" rx="2.0" ry="3.0" fill="#8a8a84" opacity="0.7"/>
<ellipse cx="457.7" cy="40.7" rx="2.1" ry="2.4" fill="#b8b8b0" opacity="0.7"/>
<ellipse cx="459.4" cy="41.5" rx="1.1" ry="2.0" fill="#c4c4bc" opacity="0.7"/>
<ellipse cx="464.3" cy="55.5" rx="1.9" ry="3.0" fill="#8a8a84" opacity="0.7"/>
<ellipse cx="466.2" cy="42.5" rx="0.8" ry="2.5" fill="#c4c4bc" opacity="0.7"/>
<ellipse cx="465.7" cy="56.1" rx="0.9" ry="3.1" fill="#9a9890" opacity="0.7"/>
<ellipse cx="474.0" cy="53.4" rx="2.2" ry="3.0" fill="#c4c4bc" opacity="0.7"/>
<ellipse cx="470.4" cy="66.1" rx="2.1" ry="2.1" fill="#9a9890" opacity="0.7"/>
<ellipse cx="461.6" cy="45.3" rx="1.2" ry="3.1" fill="#8a8a84" opacity="0.7"/>
<ellipse cx="460.8" cy="58.3" rx="1.8" ry="3.0" fill="#8a8a84" opacity="0.7"/>
<ellipse cx="456.2" cy="67.4" rx="1.3" ry="2.7" fill="#8a8a84" opacity="0.7"/>
<ellipse cx="470.4" cy="43.6" rx="2.1" ry="1.4" fill="#b8b8b0" opacity="0.7"/>
<ellipse cx="468.3" cy="45.9" rx="1.6" ry="1.3" fill="#8a8a84" opacity="0.7"/>
<ellipse cx="464.2" cy="27.4" rx="1.4" ry="2.1" fill="#9a9890" opacity="0.7"/>
<ellipse cx="462.6" cy="46.4" rx="1.8" ry="1.6" fill="#c4c4bc" opacity="0.7"/>
<ellipse cx="462.5" cy="25.0" rx="0.8" ry="2.3" fill="#c4c4bc" opacity="0.7"/>
<ellipse cx="459.2" cy="23.1" rx="1.4" ry="1.4" fill="#b8b8b0" opacity="0.7"/>
<ellipse cx="464.2" cy="53.2" rx="1.9" ry="3.0" fill="#8a8a84" opacity="0.7"/>
<ellipse cx="466.4" cy="24.6" rx="2.1" ry="1.5" fill="#b8b8b0" opacity="0.7"/>
<ellipse cx="465.6" cy="63.8" rx="9" ry="8" fill="#c4c4bc" opacity="0.6"/>
<ellipse cx="488.9" cy="41.0" rx="2.0" ry="1.3" fill="#8a8a84" opacity="0.7"/>
<ellipse cx="485.3" cy="56.6" rx="1.7" ry="3.0" fill="#b8b8b0" opacity="0.7"/>
<ellipse cx="482.1" cy="59.7" rx="1.3" ry="2.6" fill="#8a8a84" opacity="0.7"/>
<ellipse cx="486.3" cy="46.2" rx="1.8" ry="2.4" fill="#9a9890" opacity="0.7"/>
<ellipse cx="494.4" cy="43.3" rx="1.2" ry="1.5" fill="#8a8a84" opacity="0.7"/>
<ellipse cx="492.9" cy="70.0" rx="0.9" ry="2.8" fill="#8a8a84" opacity="0.7"/>
<ellipse cx="490.7" cy="67.1" rx="2.1" ry="1.8" fill="#9a9890" opacity="0.7"/>
<ellipse cx="500.0" cy="62.4" rx="1.6" ry="1.8" fill="#b8b8b0" opacity="0.7"/>
<ellipse cx="494.5" cy="23.2" rx="1.6" ry="2.6" fill="#b8b8b0" opacity="0.7"/>
<ellipse cx="488.5" cy="64.6" rx="1.4" ry="3.3" fill="#b8b8b0" opacity="0.7"/>
<ellipse cx="495.9" cy="20.8" rx="1.0" ry="2.2" fill="#9a9890" opacity="0.7"/>
<ellipse cx="488.6" cy="48.0" rx="1.2" ry="3.4" fill="#9a9890" opacity="0.7"/>
<ellipse cx="500.7" cy="49.9" rx="1.7" ry="2.8" fill="#c4c4bc" opacity="0.7"/>
<ellipse cx="490.8" cy="35.3" rx="1.8" ry="2.4" fill="#b8b8b0" opacity="0.7"/>
<ellipse cx="484.5" cy="24.2" rx="1.7" ry="1.7" fill="#8a8a84" opacity="0.7"/>
<ellipse cx="502.0" cy="60.7" rx="1.6" ry="1.4" fill="#8a8a84" opacity="0.7"/>
<ellipse cx="493.7" cy="28.4" rx="1.6" ry="3.4" fill="#9a9890" opacity="0.7"/>
<ellipse cx="492.6" cy="68.6" rx="1.7" ry="2.0" fill="#b8b8b0" opacity="0.7"/>
<ellipse cx="491.7" cy="21.4" rx="0.8" ry="1.1" fill="#b8b8b0" opacity="0.7"/>
<ellipse cx="484.0" cy="66.8" rx="1.2" ry="2.6" fill="#9a9890" opacity="0.7"/>
<ellipse cx="494.0" cy="51.1" rx="2.2" ry="3.0" fill="#9a9890" opacity="0.7"/>
<ellipse cx="500.1" cy="30.7" rx="1.8" ry="3.4" fill="#9a9890" opacity="0.7"/>
<ellipse cx="483.7" cy="50.3" rx="2.1" ry="2.8" fill="#8a8a84" opacity="0.7"/>
<ellipse cx="499.6" cy="48.6" rx="1.0" ry="2.4" fill="#c4c4bc" opacity="0.7"/>
<ellipse cx="500.8" cy="52.7" rx="2.0" ry="2.8" fill="#b8b8b0" opacity="0.7"/>
<ellipse cx="496.4" cy="42.5" rx="1.7" ry="2.6" fill="#c4c4bc" opacity="0.7"/>
<ellipse cx="484.2" cy="51.5" rx="1.8" ry="3.1" fill="#8a8a84" opacity="0.7"/>
<ellipse cx="484.4" cy="59.8" rx="1.7" ry="1.1" fill="#8a8a84" opacity="0.7"/>
<ellipse cx="487.9" cy="56.5" rx="1.9" ry="1.8" fill="#9a9890" opacity="0.7"/>
<ellipse cx="494.0" cy="49.4" rx="1.3" ry="2.7" fill="#b8b8b0" opacity="0.7"/>
<ellipse cx="491.5" cy="63.8" rx="9" ry="8" fill="#c4c4bc" opacity="0.6"/>
</g>
<g filter="url(#bl1)" opacity="1">
<path d="M439.8,6.0 C442.8,9.5 444.8,17.5 444.3,23.5 L435.3,23.5 C434.8,17.5 436.8,9.5 439.8,6.0 Z" fill="#6e2cf6"/>
<path d="M465.6,6.3 C468.6,9.8 470.6,17.8 470.1,23.8 L461.1,23.8 C460.6,17.8 462.6,9.8 465.6,6.3 Z" fill="#6e2cf6"/>
<path d="M491.5,6.3 C494.5,9.8 496.5,17.8 496.0,23.8 L487.0,23.8 C486.5,17.8 488.5,9.8 491.5,6.3 Z" fill="#6e2cf6"/>
<ellipse cx="442.5" cy="24" rx="3.2" ry="10" fill="#6e2cf6"/>
<ellipse cx="444.5" cy="40" rx="2.6" ry="12" fill="#6e2cf6"/>
<ellipse cx="445" cy="55" rx="1.8" ry="6" fill="#6e2cf6"/>
<ellipse cx="434" cy="36" rx="2.4" ry="2.8" fill="#6e2cf6"/>
<ellipse cx="434.5" cy="56" rx="2.0" ry="3.2" fill="#6e2cf6"/>
<ellipse cx="466.5" cy="24" rx="3.2" ry="8" fill="#6e2cf6"/>
<ellipse cx="467" cy="36" rx="1.8" ry="5" fill="#6e2cf6"/>
<ellipse cx="462.5" cy="51" rx="1.5" ry="3" fill="#6e2cf6"/>
<ellipse cx="470.5" cy="47" rx="1.0" ry="3" fill="#6e2cf6"/>
<ellipse cx="493.5" cy="24" rx="3.4" ry="8" fill="#6e2cf6"/>
<ellipse cx="498" cy="38" rx="2.8" ry="9" fill="#6e2cf6"/>
<ellipse cx="499.5" cy="53" rx="2.4" ry="7" fill="#6e2cf6"/>
<ellipse cx="488" cy="31" rx="1.8" ry="2.6" fill="#6e2cf6"/>
<ellipse cx="487" cy="45" rx="1.5" ry="3" fill="#6e2cf6"/>
<ellipse cx="502" cy="47" rx="1.0" ry="3" fill="#6e2cf6"/>
</g>
<g filter="url(#bl05)">
<circle cx="435.9" cy="42.0" r="0.9" fill="#6e2cf6" opacity="0.79"/>
<circle cx="435.9" cy="66.3" r="0.5" fill="#6e2cf6" opacity="0.89"/>
<circle cx="444.5" cy="27.0" r="0.9" fill="#6e2cf6" opacity="0.79"/>
<circle cx="437.2" cy="48.8" r="0.5" fill="#6e2cf6" opacity="0.53"/>
<circle cx="439.9" cy="40.2" r="0.5" fill="#6e2cf6" opacity="0.89"/>
<circle cx="435.6" cy="67.4" r="0.7" fill="#6e2cf6" opacity="0.85"/>
<circle cx="436.8" cy="49.2" r="0.8" fill="#6e2cf6" opacity="0.71"/>
<circle cx="445.0" cy="50.7" r="0.5" fill="#6e2cf6" opacity="0.77"/>
<circle cx="442.6" cy="35.2" r="0.5" fill="#6e2cf6" opacity="0.82"/>
<circle cx="448.5" cy="38.8" r="0.5" fill="#6e2cf6" opacity="0.79"/>
<circle cx="447.5" cy="61.1" r="0.7" fill="#6e2cf6" opacity="0.72"/>
<circle cx="446.4" cy="36.4" r="0.8" fill="#6e2cf6" opacity="0.71"/>
<circle cx="448.1" cy="45.6" r="0.7" fill="#6e2cf6" opacity="0.54"/>
<circle cx="444.3" cy="28.3" r="0.7" fill="#6e2cf6" opacity="0.72"/>
<circle cx="430.5" cy="42.5" r="0.8" fill="#6e2cf6" opacity="0.65"/>
<circle cx="438.6" cy="43.9" r="0.5" fill="#6e2cf6" opacity="0.89"/>
<circle cx="430.0" cy="65.7" r="0.4" fill="#6e2cf6" opacity="0.65"/>
<circle cx="439.4" cy="66.7" r="0.9" fill="#6e2cf6" opacity="0.64"/>
<circle cx="446.3" cy="45.3" r="0.7" fill="#6e2cf6" opacity="0.62"/>
<circle cx="442.2" cy="43.6" r="0.6" fill="#6e2cf6" opacity="0.58"/>
<circle cx="444.1" cy="33.4" r="0.5" fill="#6e2cf6" opacity="0.57"/>
<circle cx="448.8" cy="36.1" r="0.9" fill="#6e2cf6" opacity="0.69"/>
<circle cx="438.8" cy="33.1" r="0.8" fill="#6e2cf6" opacity="0.73"/>
<circle cx="447.5" cy="63.1" r="0.8" fill="#6e2cf6" opacity="0.85"/>
<circle cx="433.2" cy="46.1" r="0.8" fill="#6e2cf6" opacity="0.90"/>
<circle cx="434.7" cy="52.6" r="0.9" fill="#6e2cf6" opacity="0.87"/>
<circle cx="443.1" cy="64.2" r="0.9" fill="#6e2cf6" opacity="0.59"/>
<circle cx="449.7" cy="48.8" r="0.9" fill="#6e2cf6" opacity="0.82"/>
<circle cx="442.4" cy="49.3" r="0.6" fill="#6e2cf6" opacity="0.59"/>
<circle cx="441.5" cy="62.9" r="0.6" fill="#6e2cf6" opacity="0.63"/>
<circle cx="434.3" cy="31.1" r="0.7" fill="#6e2cf6" opacity="0.61"/>
<circle cx="446.2" cy="37.4" r="0.4" fill="#6e2cf6" opacity="0.88"/>
<circle cx="446.2" cy="41.8" r="0.8" fill="#6e2cf6" opacity="0.77"/>
<circle cx="442.3" cy="25.8" r="0.6" fill="#6e2cf6" opacity="0.62"/>
<circle cx="443.1" cy="46.3" r="0.6" fill="#6e2cf6" opacity="0.66"/>
<circle cx="433.8" cy="33.0" r="0.7" fill="#6e2cf6" opacity="0.89"/>
<circle cx="442.4" cy="27.8" r="0.7" fill="#6e2cf6" opacity="0.80"/>
<circle cx="435.3" cy="37.5" r="0.5" fill="#6e2cf6" opacity="0.84"/>
<circle cx="446.3" cy="60.8" r="0.5" fill="#6e2cf6" opacity="0.65"/>
<circle cx="443.2" cy="36.3" r="0.5" fill="#6e2cf6" opacity="0.80"/>
<circle cx="466.3" cy="58.7" r="0.5" fill="#6e2cf6" opacity="0.61"/>
<circle cx="470.6" cy="48.8" r="0.5" fill="#6e2cf6" opacity="0.76"/>
<circle cx="470.6" cy="63.8" r="0.8" fill="#6e2cf6" opacity="0.88"/>
<circle cx="459.9" cy="35.9" r="0.9" fill="#6e2cf6" opacity="0.66"/>
<circle cx="467.8" cy="28.5" r="0.6" fill="#6e2cf6" opacity="0.58"/>
<circle cx="465.2" cy="64.1" r="0.9" fill="#6e2cf6" opacity="0.61"/>
<circle cx="472.7" cy="26.4" r="0.5" fill="#6e2cf6" opacity="0.87"/>
<circle cx="469.6" cy="45.1" r="0.5" fill="#6e2cf6" opacity="0.61"/>
<circle cx="475.3" cy="53.7" r="0.8" fill="#6e2cf6" opacity="0.86"/>
<circle cx="475.9" cy="57.9" r="0.5" fill="#6e2cf6" opacity="0.55"/>
<circle cx="467.1" cy="34.4" r="0.6" fill="#6e2cf6" opacity="0.51"/>
<circle cx="461.7" cy="29.3" r="0.6" fill="#6e2cf6" opacity="0.63"/>
<circle cx="468.9" cy="48.7" r="0.8" fill="#6e2cf6" opacity="0.65"/>
<circle cx="463.1" cy="65.1" r="0.6" fill="#6e2cf6" opacity="0.67"/>
<circle cx="470.8" cy="57.4" r="0.6" fill="#6e2cf6" opacity="0.64"/>
<circle cx="461.3" cy="27.4" r="0.4" fill="#6e2cf6" opacity="0.63"/>
<circle cx="468.3" cy="32.1" r="0.8" fill="#6e2cf6" opacity="0.70"/>
<circle cx="462.4" cy="45.0" r="0.9" fill="#6e2cf6" opacity="0.90"/>
<circle cx="473.0" cy="52.1" r="0.6" fill="#6e2cf6" opacity="0.74"/>
<circle cx="474.7" cy="40.1" r="0.7" fill="#6e2cf6" opacity="0.86"/>
<circle cx="456.8" cy="51.0" r="0.6" fill="#6e2cf6" opacity="0.74"/>
<circle cx="469.0" cy="64.1" r="0.6" fill="#6e2cf6" opacity="0.76"/>
<circle cx="475.7" cy="51.6" r="0.7" fill="#6e2cf6" opacity="0.50"/>
<circle cx="458.2" cy="67.2" r="0.6" fill="#6e2cf6" opacity="0.89"/>
<circle cx="469.5" cy="53.4" r="0.6" fill="#6e2cf6" opacity="0.66"/>
<circle cx="470.7" cy="37.1" r="0.6" fill="#6e2cf6" opacity="0.55"/>
<circle cx="458.9" cy="32.7" r="0.8" fill="#6e2cf6" opacity="0.61"/>
<circle cx="468.6" cy="34.0" r="0.6" fill="#6e2cf6" opacity="0.82"/>
<circle cx="467.5" cy="54.0" r="0.6" fill="#6e2cf6" opacity="0.65"/>
<circle cx="469.9" cy="43.2" r="0.4" fill="#6e2cf6" opacity="0.59"/>
<circle cx="470.1" cy="54.6" r="0.7" fill="#6e2cf6" opacity="0.60"/>
<circle cx="466.2" cy="33.7" r="0.5" fill="#6e2cf6" opacity="0.80"/>
<circle cx="470.4" cy="57.6" r="0.7" fill="#6e2cf6" opacity="0.86"/>
<circle cx="461.0" cy="48.1" r="0.5" fill="#6e2cf6" opacity="0.54"/>
<circle cx="471.2" cy="51.0" r="0.7" fill="#6e2cf6" opacity="0.55"/>
<circle cx="470.8" cy="54.7" r="0.6" fill="#6e2cf6" opacity="0.72"/>
<circle cx="467.3" cy="27.2" r="0.4" fill="#6e2cf6" opacity="0.64"/>
<circle cx="468.4" cy="59.4" r="0.6" fill="#6e2cf6" opacity="0.87"/>
<circle cx="474.8" cy="51.4" r="0.6" fill="#6e2cf6" opacity="0.76"/>
<circle cx="456.0" cy="52.1" r="0.5" fill="#6e2cf6" opacity="0.55"/>
<circle cx="500.4" cy="33.0" r="0.7" fill="#6e2cf6" opacity="0.79"/>
<circle cx="484.9" cy="64.3" r="0.8" fill="#6e2cf6" opacity="0.71"/>
<circle cx="496.3" cy="40.5" r="0.8" fill="#6e2cf6" opacity="0.74"/>
<circle cx="498.8" cy="54.0" r="0.6" fill="#6e2cf6" opacity="0.83"/>
<circle cx="499.8" cy="44.8" r="0.8" fill="#6e2cf6" opacity="0.75"/>
<circle cx="491.7" cy="66.9" r="0.5" fill="#6e2cf6" opacity="0.71"/>
<circle cx="500.7" cy="40.2" r="0.5" fill="#6e2cf6" opacity="0.75"/>
<circle cx="483.9" cy="48.4" r="0.7" fill="#6e2cf6" opacity="0.73"/>
<circle cx="500.5" cy="42.9" r="0.5" fill="#6e2cf6" opacity="0.75"/>
<circle cx="491.4" cy="36.6" r="0.6" fill="#6e2cf6" opacity="0.77"/>
<circle cx="482.7" cy="63.0" r="0.6" fill="#6e2cf6" opacity="0.79"/>
<circle cx="488.4" cy="36.5" r="0.9" fill="#6e2cf6" opacity="0.54"/>
<circle cx="495.6" cy="49.6" r="0.7" fill="#6e2cf6" opacity="0.53"/>
<circle cx="481.8" cy="66.0" r="0.4" fill="#6e2cf6" opacity="0.72"/>
<circle cx="488.5" cy="27.1" r="0.8" fill="#6e2cf6" opacity="0.72"/>
<circle cx="500.0" cy="49.3" r="0.5" fill="#6e2cf6" opacity="0.90"/>
<circle cx="495.4" cy="52.0" r="0.4" fill="#6e2cf6" opacity="0.85"/>
<circle cx="489.5" cy="41.1" r="0.7" fill="#6e2cf6" opacity="0.66"/>
<circle cx="500.0" cy="65.2" r="0.6" fill="#6e2cf6" opacity="0.59"/>
<circle cx="501.2" cy="41.7" r="0.6" fill="#6e2cf6" opacity="0.70"/>
<circle cx="491.2" cy="32.5" r="0.9" fill="#6e2cf6" opacity="0.66"/>
<circle cx="493.4" cy="24.4" r="0.8" fill="#6e2cf6" opacity="0.64"/>
<circle cx="489.1" cy="28.3" r="0.8" fill="#6e2cf6" opacity="0.69"/>
<circle cx="494.7" cy="24.7" r="0.5" fill="#6e2cf6" opacity="0.72"/>
<circle cx="485.5" cy="42.5" r="0.6" fill="#6e2cf6" opacity="0.61"/>
<circle cx="484.4" cy="47.5" r="0.9" fill="#6e2cf6" opacity="0.83"/>
<circle cx="486.3" cy="55.9" r="0.9" fill="#6e2cf6" opacity="0.89"/>
<circle cx="487.2" cy="29.0" r="0.5" fill="#6e2cf6" opacity="0.62"/>
<circle cx="501.7" cy="58.6" r="0.7" fill="#6e2cf6" opacity="0.67"/>
<circle cx="499.1" cy="56.5" r="0.7" fill="#6e2cf6" opacity="0.70"/>
<circle cx="490.3" cy="41.6" r="0.6" fill="#6e2cf6" opacity="0.55"/>
<circle cx="491.9" cy="64.9" r="0.7" fill="#6e2cf6" opacity="0.68"/>
<circle cx="485.7" cy="58.1" r="0.8" fill="#6e2cf6" opacity="0.88"/>
<circle cx="490.4" cy="29.5" r="0.4" fill="#6e2cf6" opacity="0.81"/>
<circle cx="482.0" cy="46.8" r="0.9" fill="#6e2cf6" opacity="0.87"/>
<circle cx="496.0" cy="36.1" r="0.4" fill="#6e2cf6" opacity="0.76"/>
<circle cx="482.4" cy="37.6" r="0.6" fill="#6e2cf6" opacity="0.71"/>
<circle cx="497.7" cy="25.3" r="0.6" fill="#6e2cf6" opacity="0.70"/>
<circle cx="500.2" cy="66.3" r="0.8" fill="#6e2cf6" opacity="0.79"/>
<circle cx="494.3" cy="60.7" r="0.7" fill="#6e2cf6" opacity="0.85"/>
</g>
</g>
<rect x="508.3" y="4.8" width="3.7" height="80.3" fill="url(#cbar)"/>
<text x="513.3" y="6.6" font-size="3" fill="#b8b8b8" font-weight="normal">4000</text>
<text x="513.3" y="22.900000000000002" font-size="3" fill="#b8b8b8" font-weight="normal">4000</text>
<text x="513.3" y="39.7" font-size="3" fill="#b8b8b8" font-weight="normal">4000</text>
<text x="513.3" y="57.9" font-size="3" fill="#b8b8b8" font-weight="normal">4000</text>
<text x="513.3" y="73.8" font-size="3" fill="#b8b8b8" font-weight="normal">4000</text>
<text x="373.6" y="99.6" font-size="10.3" font-weight="bold">HO-1<tspan font-size="6" dy="-3.6">+/+</tspan></text>
<text x="457.4" y="99.6" font-size="10.3" font-weight="bold">HO-1<tspan font-size="6" dy="-3.6">+/-</tspan></text>
<path d="M61.2,151.9h0.8v0.8h-0.8zM61.2,155.9h0.8v0.8h-0.8zM61.2,156.7h0.8v0.8h-0.8zM61.2,159.9h0.8v0.8h-0.8zM62.0,150.3h0.8v0.8h-0.8zM62.0,153.5h0.8v0.8h-0.8zM62.0,156.7h0.8v0.8h-0.8zM62.0,157.5h0.8v0.8h-0.8zM62.0,162.3h0.8v0.8h-0.8zM62.8,153.5h0.8v0.8h-0.8zM62.8,159.1h0.8v0.8h-0.8zM62.8,159.9h0.8v0.8h-0.8zM62.8,162.3h0.8v0.8h-0.8zM62.8,163.1h0.8v0.8h-0.8zM62.8,163.9h0.8v0.8h-0.8zM63.6,155.1h0.8v0.8h-0.8zM63.6,159.9h0.8v0.8h-0.8zM63.6,160.7h0.8v0.8h-0.8zM63.6,161.5h0.8v0.8h-0.8zM64.4,149.5h0.8v0.8h-0.8zM64.4,151.9h0.8v0.8h-0.8zM64.4,163.1h0.8v0.8h-0.8zM65.2,148.7h0.8v0.8h-0.8zM66.0,147.1h0.8v0.8h-0.8zM66.0,151.1h0.8v0.8h-0.8zM66.0,164.7h0.8v0.8h-0.8zM66.8,150.3h0.8v0.8h-0.8zM67.6,148.7h0.8v0.8h-0.8zM67.6,163.1h0.8v0.8h-0.8zM68.4,147.1h0.8v0.8h-0.8zM68.4,163.1h0.8v0.8h-0.8zM68.4,167.1h0.8v0.8h-0.8zM69.2,141.5h0.8v0.8h-0.8zM69.2,163.1h0.8v0.8h-0.8zM70.0,143.9h0.8v0.8h-0.8zM70.0,144.7h0.8v0.8h-0.8zM70.0,163.1h0.8v0.8h-0.8zM70.8,144.7h0.8v0.8h-0.8zM70.8,164.7h0.8v0.8h-0.8zM71.6,144.7h0.8v0.8h-0.8zM71.6,162.3h0.8v0.8h-0.8zM72.4,140.7h0.8v0.8h-0.8zM72.4,165.5h0.8v0.8h-0.8zM73.2,139.1h0.8v0.8h-0.8zM73.2,141.5h0.8v0.8h-0.8zM73.2,143.1h0.8v0.8h-0.8zM73.2,161.5h0.8v0.8h-0.8zM73.2,163.1h0.8v0.8h-0.8zM73.2,163.9h0.8v0.8h-0.8zM74.0,161.5h0.8v0.8h-0.8zM74.8,140.7h0.8v0.8h-0.8zM74.8,163.1h0.8v0.8h-0.8zM74.8,163.9h0.8v0.8h-0.8zM75.6,141.5h0.8v0.8h-0.8zM75.6,161.5h0.8v0.8h-0.8zM76.4,134.3h0.8v0.8h-0.8zM76.4,140.7h0.8v0.8h-0.8zM76.4,163.1h0.8v0.8h-0.8zM76.4,163.9h0.8v0.8h-0.8zM77.2,159.9h0.8v0.8h-0.8zM78.0,135.9h0.8v0.8h-0.8zM78.8,135.9h0.8v0.8h-0.8zM78.8,136.7h0.8v0.8h-0.8zM78.8,138.3h0.8v0.8h-0.8zM79.6,136.7h0.8v0.8h-0.8zM79.6,137.5h0.8v0.8h-0.8zM80.4,157.5h0.8v0.8h-0.8zM82.0,135.9h0.8v0.8h-0.8zM82.8,139.1h0.8v0.8h-0.8zM82.8,140.7h0.8v0.8h-0.8zM83.6,139.1h0.8v0.8h-0.8zM83.6,139.9h0.8v0.8h-0.8zM83.6,155.1h0.8v0.8h-0.8zM84.4,136.7h0.8v0.8h-0.8zM84.4,151.9h0.8v0.8h-0.8zM84.4,152.7h0.8v0.8h-0.8zM84.4,154.3h0.8v0.8h-0.8zM85.2,138.3h0.8v0.8h-0.8zM85.2,141.5h0.8v0.8h-0.8zM86.0,140.7h0.8v0.8h-0.8zM86.0,151.9h0.8v0.8h-0.8zM86.8,139.1h0.8v0.8h-0.8zM86.8,139.9h0.8v0.8h-0.8zM86.8,141.5h0.8v0.8h-0.8zM86.8,151.9h0.8v0.8h-0.8zM87.6,139.9h0.8v0.8h-0.8zM87.6,143.1h0.8v0.8h-0.8zM87.6,146.3h0.8v0.8h-0.8zM87.6,151.1h0.8v0.8h-0.8zM88.4,138.3h0.8v0.8h-0.8zM88.4,141.5h0.8v0.8h-0.8zM88.4,147.1h0.8v0.8h-0.8zM88.4,147.9h0.8v0.8h-0.8zM88.4,148.7h0.8v0.8h-0.8zM89.2,139.9h0.8v0.8h-0.8zM89.2,142.3h0.8v0.8h-0.8zM89.2,147.1h0.8v0.8h-0.8zM89.2,147.9h0.8v0.8h-0.8zM90.0,143.9h0.8v0.8h-0.8zM90.0,144.7h0.8v0.8h-0.8zM90.8,147.9h0.8v0.8h-0.8zM94.8,145.5h0.8v0.8h-0.8zM96.4,140.7h0.8v0.8h-0.8zM98.8,148.7h0.8v0.8h-0.8zM100.4,146.3h0.8v0.8h-0.8zM100.4,151.1h0.8v0.8h-0.8zM101.2,147.1h0.8v0.8h-0.8zM102.8,144.7h0.8v0.8h-0.8zM103.6,143.9h0.8v0.8h-0.8zM103.6,146.3h0.8v0.8h-0.8zM103.6,151.9h0.8v0.8h-0.8zM104.4,146.3h0.8v0.8h-0.8zM104.4,149.5h0.8v0.8h-0.8zM105.2,149.5h0.8v0.8h-0.8zM106.0,147.9h0.8v0.8h-0.8zM106.0,148.7h0.8v0.8h-0.8zM106.0,151.1h0.8v0.8h-0.8zM106.0,152.7h0.8v0.8h-0.8zM106.8,147.1h0.8v0.8h-0.8zM106.8,147.9h0.8v0.8h-0.8zM106.8,151.1h0.8v0.8h-0.8zM107.6,143.9h0.8v0.8h-0.8zM107.6,144.7h0.8v0.8h-0.8zM107.6,150.3h0.8v0.8h-0.8zM108.4,142.3h0.8v0.8h-0.8zM108.4,144.7h0.8v0.8h-0.8zM108.4,149.5h0.8v0.8h-0.8zM108.4,153.5h0.8v0.8h-0.8zM109.2,148.7h0.8v0.8h-0.8zM110.0,141.5h0.8v0.8h-0.8zM110.0,151.1h0.8v0.8h-0.8zM110.0,154.3h0.8v0.8h-0.8zM110.8,143.9h0.8v0.8h-0.8zM110.8,149.5h0.8v0.8h-0.8zM111.6,152.7h0.8v0.8h-0.8zM112.4,151.1h0.8v0.8h-0.8zM112.4,152.7h0.8v0.8h-0.8zM113.2,154.3h0.8v0.8h-0.8zM114.0,141.5h0.8v0.8h-0.8zM114.0,151.9h0.8v0.8h-0.8zM114.0,153.5h0.8v0.8h-0.8zM114.8,141.5h0.8v0.8h-0.8zM114.8,152.7h0.8v0.8h-0.8zM115.6,139.9h0.8v0.8h-0.8zM115.6,143.1h0.8v0.8h-0.8zM115.6,152.7h0.8v0.8h-0.8zM116.4,139.9h0.8v0.8h-0.8zM116.4,140.7h0.8v0.8h-0.8zM116.4,143.1h0.8v0.8h-0.8zM117.2,143.1h0.8v0.8h-0.8zM118.0,143.1h0.8v0.8h-0.8zM118.0,152.7h0.8v0.8h-0.8zM118.0,154.3h0.8v0.8h-0.8zM118.8,140.7h0.8v0.8h-0.8zM119.6,143.1h0.8v0.8h-0.8zM119.6,151.1h0.8v0.8h-0.8zM120.4,143.1h0.8v0.8h-0.8zM120.4,144.7h0.8v0.8h-0.8zM120.4,151.1h0.8v0.8h-0.8zM121.2,144.7h0.8v0.8h-0.8zM121.2,149.5h0.8v0.8h-0.8zM122.0,143.9h0.8v0.8h-0.8zM122.0,146.3h0.8v0.8h-0.8zM122.0,147.9h0.8v0.8h-0.8zM122.8,146.3h0.8v0.8h-0.8zM122.8,147.9h0.8v0.8h-0.8zM123.6,143.9h0.8v0.8h-0.8zM123.6,146.3h0.8v0.8h-0.8zM123.6,147.9h0.8v0.8h-0.8zM123.6,149.5h0.8v0.8h-0.8zM124.4,143.1h0.8v0.8h-0.8zM124.4,146.3h0.8v0.8h-0.8zM125.2,146.3h0.8v0.8h-0.8zM125.2,147.9h0.8v0.8h-0.8zM126.0,147.1h0.8v0.8h-0.8zM126.0,151.1h0.8v0.8h-0.8zM129.2,141.5h0.8v0.8h-0.8z" fill="#c8d2f2"/>
<path d="M62.8,156.7h0.8v0.8h-0.8zM63.6,156.7h0.8v0.8h-0.8zM63.6,157.5h0.8v0.8h-0.8zM63.6,158.3h0.8v0.8h-0.8zM64.4,155.1h0.8v0.8h-0.8zM64.4,156.7h0.8v0.8h-0.8zM64.4,157.5h0.8v0.8h-0.8zM64.4,161.5h0.8v0.8h-0.8zM64.4,162.3h0.8v0.8h-0.8zM65.2,153.5h0.8v0.8h-0.8zM65.2,155.1h0.8v0.8h-0.8zM65.2,159.9h0.8v0.8h-0.8zM65.2,160.7h0.8v0.8h-0.8zM65.2,162.3h0.8v0.8h-0.8zM65.2,163.1h0.8v0.8h-0.8zM66.0,151.9h0.8v0.8h-0.8zM66.0,152.7h0.8v0.8h-0.8zM66.0,154.3h0.8v0.8h-0.8zM66.0,158.3h0.8v0.8h-0.8zM66.0,159.1h0.8v0.8h-0.8zM66.0,159.9h0.8v0.8h-0.8zM66.0,160.7h0.8v0.8h-0.8zM66.0,162.3h0.8v0.8h-0.8zM66.8,151.1h0.8v0.8h-0.8zM66.8,151.9h0.8v0.8h-0.8zM66.8,160.7h0.8v0.8h-0.8zM66.8,162.3h0.8v0.8h-0.8zM67.6,149.5h0.8v0.8h-0.8zM67.6,150.3h0.8v0.8h-0.8zM67.6,160.7h0.8v0.8h-0.8zM67.6,161.5h0.8v0.8h-0.8zM68.4,147.9h0.8v0.8h-0.8zM68.4,150.3h0.8v0.8h-0.8zM68.4,151.1h0.8v0.8h-0.8zM68.4,160.7h0.8v0.8h-0.8zM68.4,162.3h0.8v0.8h-0.8zM69.2,147.9h0.8v0.8h-0.8zM69.2,148.7h0.8v0.8h-0.8zM69.2,150.3h0.8v0.8h-0.8zM69.2,160.7h0.8v0.8h-0.8zM69.2,161.5h0.8v0.8h-0.8zM70.0,147.9h0.8v0.8h-0.8zM70.8,145.5h0.8v0.8h-0.8zM70.8,147.1h0.8v0.8h-0.8zM70.8,160.7h0.8v0.8h-0.8zM70.8,161.5h0.8v0.8h-0.8zM71.6,146.3h0.8v0.8h-0.8zM72.4,145.5h0.8v0.8h-0.8zM72.4,146.3h0.8v0.8h-0.8zM72.4,162.3h0.8v0.8h-0.8zM73.2,144.7h0.8v0.8h-0.8zM73.2,160.7h0.8v0.8h-0.8zM74.0,142.3h0.8v0.8h-0.8zM74.0,143.1h0.8v0.8h-0.8zM74.0,143.9h0.8v0.8h-0.8zM74.0,144.7h0.8v0.8h-0.8zM74.0,145.5h0.8v0.8h-0.8zM74.8,142.3h0.8v0.8h-0.8zM74.8,143.1h0.8v0.8h-0.8zM74.8,143.9h0.8v0.8h-0.8zM74.8,159.9h0.8v0.8h-0.8zM74.8,160.7h0.8v0.8h-0.8zM75.6,142.3h0.8v0.8h-0.8zM75.6,143.1h0.8v0.8h-0.8zM75.6,159.9h0.8v0.8h-0.8zM76.4,158.3h0.8v0.8h-0.8zM76.4,159.1h0.8v0.8h-0.8zM76.4,159.9h0.8v0.8h-0.8zM77.2,140.7h0.8v0.8h-0.8zM77.2,143.1h0.8v0.8h-0.8zM77.2,157.5h0.8v0.8h-0.8zM77.2,158.3h0.8v0.8h-0.8zM78.0,139.9h0.8v0.8h-0.8zM78.0,143.1h0.8v0.8h-0.8zM78.8,140.7h0.8v0.8h-0.8zM78.8,141.5h0.8v0.8h-0.8zM78.8,143.1h0.8v0.8h-0.8zM78.8,156.7h0.8v0.8h-0.8zM78.8,157.5h0.8v0.8h-0.8zM79.6,139.9h0.8v0.8h-0.8zM79.6,140.7h0.8v0.8h-0.8zM79.6,141.5h0.8v0.8h-0.8zM79.6,142.3h0.8v0.8h-0.8zM79.6,156.7h0.8v0.8h-0.8zM79.6,157.5h0.8v0.8h-0.8zM80.4,139.9h0.8v0.8h-0.8zM80.4,140.7h0.8v0.8h-0.8zM80.4,141.5h0.8v0.8h-0.8zM80.4,155.9h0.8v0.8h-0.8zM81.2,139.9h0.8v0.8h-0.8zM81.2,140.7h0.8v0.8h-0.8zM81.2,141.5h0.8v0.8h-0.8zM82.8,141.5h0.8v0.8h-0.8zM82.8,142.3h0.8v0.8h-0.8zM82.8,153.5h0.8v0.8h-0.8zM82.8,154.3h0.8v0.8h-0.8zM83.6,154.3h0.8v0.8h-0.8zM84.4,142.3h0.8v0.8h-0.8zM84.4,143.9h0.8v0.8h-0.8zM84.4,145.5h0.8v0.8h-0.8zM84.4,147.9h0.8v0.8h-0.8zM84.4,149.5h0.8v0.8h-0.8zM84.4,151.1h0.8v0.8h-0.8zM85.2,142.3h0.8v0.8h-0.8zM85.2,143.9h0.8v0.8h-0.8zM85.2,144.7h0.8v0.8h-0.8zM85.2,145.5h0.8v0.8h-0.8zM85.2,147.1h0.8v0.8h-0.8zM85.2,147.9h0.8v0.8h-0.8zM85.2,148.7h0.8v0.8h-0.8zM85.2,149.5h0.8v0.8h-0.8zM86.0,143.9h0.8v0.8h-0.8zM86.0,144.7h0.8v0.8h-0.8zM86.0,147.1h0.8v0.8h-0.8zM86.0,149.5h0.8v0.8h-0.8zM86.8,143.9h0.8v0.8h-0.8zM86.8,145.5h0.8v0.8h-0.8zM86.8,147.1h0.8v0.8h-0.8zM86.8,147.9h0.8v0.8h-0.8zM106.8,149.5h0.8v0.8h-0.8zM107.6,148.7h0.8v0.8h-0.8zM108.4,145.5h0.8v0.8h-0.8zM108.4,146.3h0.8v0.8h-0.8zM108.4,147.1h0.8v0.8h-0.8zM108.4,148.7h0.8v0.8h-0.8zM109.2,146.3h0.8v0.8h-0.8zM109.2,147.1h0.8v0.8h-0.8zM109.2,147.9h0.8v0.8h-0.8zM110.0,145.5h0.8v0.8h-0.8zM110.0,146.3h0.8v0.8h-0.8zM110.8,144.7h0.8v0.8h-0.8zM110.8,147.9h0.8v0.8h-0.8zM110.8,148.7h0.8v0.8h-0.8zM111.6,148.7h0.8v0.8h-0.8zM112.4,149.5h0.8v0.8h-0.8zM113.2,143.9h0.8v0.8h-0.8zM113.2,144.7h0.8v0.8h-0.8zM113.2,150.3h0.8v0.8h-0.8zM113.2,151.1h0.8v0.8h-0.8zM114.0,143.1h0.8v0.8h-0.8zM114.0,143.9h0.8v0.8h-0.8zM114.0,149.5h0.8v0.8h-0.8zM114.0,150.3h0.8v0.8h-0.8zM114.8,143.9h0.8v0.8h-0.8zM114.8,144.7h0.8v0.8h-0.8zM114.8,151.1h0.8v0.8h-0.8zM115.6,144.7h0.8v0.8h-0.8zM115.6,151.9h0.8v0.8h-0.8zM116.4,145.5h0.8v0.8h-0.8zM116.4,148.7h0.8v0.8h-0.8zM116.4,151.1h0.8v0.8h-0.8zM116.4,152.7h0.8v0.8h-0.8zM117.2,143.9h0.8v0.8h-0.8zM117.2,144.7h0.8v0.8h-0.8zM117.2,145.5h0.8v0.8h-0.8zM117.2,147.1h0.8v0.8h-0.8zM117.2,147.9h0.8v0.8h-0.8zM117.2,148.7h0.8v0.8h-0.8zM117.2,149.5h0.8v0.8h-0.8zM117.2,150.3h0.8v0.8h-0.8zM117.2,151.1h0.8v0.8h-0.8zM117.2,151.9h0.8v0.8h-0.8zM117.2,152.7h0.8v0.8h-0.8zM118.0,144.7h0.8v0.8h-0.8zM118.0,146.3h0.8v0.8h-0.8zM118.0,147.1h0.8v0.8h-0.8zM118.0,147.9h0.8v0.8h-0.8zM118.0,148.7h0.8v0.8h-0.8zM118.0,150.3h0.8v0.8h-0.8zM118.0,151.9h0.8v0.8h-0.8zM118.8,144.7h0.8v0.8h-0.8zM118.8,145.5h0.8v0.8h-0.8zM118.8,147.9h0.8v0.8h-0.8zM118.8,148.7h0.8v0.8h-0.8zM118.8,149.5h0.8v0.8h-0.8zM118.8,150.3h0.8v0.8h-0.8zM118.8,151.1h0.8v0.8h-0.8zM119.6,145.5h0.8v0.8h-0.8zM119.6,146.3h0.8v0.8h-0.8zM119.6,147.1h0.8v0.8h-0.8zM119.6,147.9h0.8v0.8h-0.8zM120.4,148.7h0.8v0.8h-0.8zM121.2,147.9h0.8v0.8h-0.8z" fill="#a8bcee"/>
<path d="M65.2,156.7h0.8v0.8h-0.8zM65.2,157.5h0.8v0.8h-0.8zM66.0,155.9h0.8v0.8h-0.8zM66.0,156.7h0.8v0.8h-0.8zM66.8,152.7h0.8v0.8h-0.8zM66.8,154.3h0.8v0.8h-0.8zM66.8,155.1h0.8v0.8h-0.8zM66.8,158.3h0.8v0.8h-0.8zM66.8,159.1h0.8v0.8h-0.8zM67.6,153.5h0.8v0.8h-0.8zM67.6,159.1h0.8v0.8h-0.8zM67.6,159.9h0.8v0.8h-0.8zM68.4,151.9h0.8v0.8h-0.8zM68.4,152.7h0.8v0.8h-0.8zM68.4,159.9h0.8v0.8h-0.8zM69.2,151.1h0.8v0.8h-0.8zM69.2,151.9h0.8v0.8h-0.8zM70.0,149.5h0.8v0.8h-0.8zM70.0,150.3h0.8v0.8h-0.8zM70.0,151.1h0.8v0.8h-0.8zM70.0,159.9h0.8v0.8h-0.8zM70.8,147.9h0.8v0.8h-0.8zM70.8,148.7h0.8v0.8h-0.8zM70.8,149.5h0.8v0.8h-0.8zM70.8,159.9h0.8v0.8h-0.8zM71.6,147.1h0.8v0.8h-0.8zM71.6,147.9h0.8v0.8h-0.8zM71.6,159.9h0.8v0.8h-0.8zM72.4,147.1h0.8v0.8h-0.8zM72.4,147.9h0.8v0.8h-0.8zM72.4,159.1h0.8v0.8h-0.8zM73.2,146.3h0.8v0.8h-0.8zM73.2,147.1h0.8v0.8h-0.8zM73.2,147.9h0.8v0.8h-0.8zM73.2,159.1h0.8v0.8h-0.8zM74.0,146.3h0.8v0.8h-0.8zM74.0,147.1h0.8v0.8h-0.8zM74.0,159.1h0.8v0.8h-0.8zM74.8,145.5h0.8v0.8h-0.8zM74.8,146.3h0.8v0.8h-0.8zM74.8,158.3h0.8v0.8h-0.8zM74.8,159.1h0.8v0.8h-0.8zM75.6,145.5h0.8v0.8h-0.8zM75.6,146.3h0.8v0.8h-0.8zM75.6,157.5h0.8v0.8h-0.8zM76.4,144.7h0.8v0.8h-0.8zM76.4,145.5h0.8v0.8h-0.8zM76.4,157.5h0.8v0.8h-0.8zM77.2,143.9h0.8v0.8h-0.8zM77.2,144.7h0.8v0.8h-0.8zM77.2,156.7h0.8v0.8h-0.8zM78.0,143.9h0.8v0.8h-0.8zM78.8,143.9h0.8v0.8h-0.8zM78.8,155.9h0.8v0.8h-0.8zM79.6,143.9h0.8v0.8h-0.8zM80.4,143.1h0.8v0.8h-0.8zM80.4,143.9h0.8v0.8h-0.8zM80.4,145.5h0.8v0.8h-0.8zM80.4,146.3h0.8v0.8h-0.8zM80.4,147.1h0.8v0.8h-0.8zM80.4,155.1h0.8v0.8h-0.8zM81.2,143.1h0.8v0.8h-0.8zM81.2,143.9h0.8v0.8h-0.8zM81.2,144.7h0.8v0.8h-0.8zM81.2,146.3h0.8v0.8h-0.8zM81.2,147.9h0.8v0.8h-0.8zM81.2,153.5h0.8v0.8h-0.8zM82.0,143.1h0.8v0.8h-0.8zM82.0,143.9h0.8v0.8h-0.8zM82.0,145.5h0.8v0.8h-0.8zM82.0,146.3h0.8v0.8h-0.8zM82.0,147.1h0.8v0.8h-0.8zM82.0,147.9h0.8v0.8h-0.8zM82.0,148.7h0.8v0.8h-0.8zM82.0,152.7h0.8v0.8h-0.8zM82.0,153.5h0.8v0.8h-0.8zM82.8,143.1h0.8v0.8h-0.8zM82.8,143.9h0.8v0.8h-0.8zM82.8,144.7h0.8v0.8h-0.8zM82.8,145.5h0.8v0.8h-0.8zM82.8,146.3h0.8v0.8h-0.8zM82.8,147.1h0.8v0.8h-0.8zM82.8,147.9h0.8v0.8h-0.8zM82.8,148.7h0.8v0.8h-0.8zM82.8,149.5h0.8v0.8h-0.8zM82.8,150.3h0.8v0.8h-0.8zM82.8,151.1h0.8v0.8h-0.8zM82.8,151.9h0.8v0.8h-0.8zM82.8,152.7h0.8v0.8h-0.8zM83.6,143.1h0.8v0.8h-0.8zM83.6,143.9h0.8v0.8h-0.8zM83.6,144.7h0.8v0.8h-0.8zM83.6,145.5h0.8v0.8h-0.8zM83.6,146.3h0.8v0.8h-0.8zM83.6,147.1h0.8v0.8h-0.8zM83.6,147.9h0.8v0.8h-0.8zM83.6,149.5h0.8v0.8h-0.8zM84.4,148.7h0.8v0.8h-0.8zM110.8,146.3h0.8v0.8h-0.8zM110.8,147.1h0.8v0.8h-0.8zM111.6,145.5h0.8v0.8h-0.8zM111.6,146.3h0.8v0.8h-0.8zM111.6,147.1h0.8v0.8h-0.8zM111.6,147.9h0.8v0.8h-0.8zM112.4,145.5h0.8v0.8h-0.8zM112.4,146.3h0.8v0.8h-0.8zM112.4,147.1h0.8v0.8h-0.8zM112.4,147.9h0.8v0.8h-0.8zM113.2,145.5h0.8v0.8h-0.8zM113.2,146.3h0.8v0.8h-0.8zM113.2,147.1h0.8v0.8h-0.8zM113.2,147.9h0.8v0.8h-0.8zM113.2,148.7h0.8v0.8h-0.8zM114.0,146.3h0.8v0.8h-0.8zM114.0,147.1h0.8v0.8h-0.8zM114.0,147.9h0.8v0.8h-0.8zM114.8,145.5h0.8v0.8h-0.8zM114.8,147.1h0.8v0.8h-0.8zM114.8,147.9h0.8v0.8h-0.8zM114.8,148.7h0.8v0.8h-0.8zM115.6,145.5h0.8v0.8h-0.8zM115.6,146.3h0.8v0.8h-0.8zM115.6,147.1h0.8v0.8h-0.8zM115.6,148.7h0.8v0.8h-0.8zM116.4,147.1h0.8v0.8h-0.8z" fill="#7898e2"/>
<path d="M66.8,155.9h0.8v0.8h-0.8zM66.8,156.7h0.8v0.8h-0.8zM66.8,157.5h0.8v0.8h-0.8zM67.6,154.3h0.8v0.8h-0.8zM67.6,155.1h0.8v0.8h-0.8zM67.6,157.5h0.8v0.8h-0.8zM67.6,158.3h0.8v0.8h-0.8zM68.4,153.5h0.8v0.8h-0.8zM68.4,158.3h0.8v0.8h-0.8zM68.4,159.1h0.8v0.8h-0.8zM69.2,159.1h0.8v0.8h-0.8zM70.0,152.7h0.8v0.8h-0.8zM70.0,159.1h0.8v0.8h-0.8zM70.8,150.3h0.8v0.8h-0.8zM70.8,151.1h0.8v0.8h-0.8zM70.8,151.9h0.8v0.8h-0.8zM70.8,158.3h0.8v0.8h-0.8zM70.8,159.1h0.8v0.8h-0.8zM71.6,149.5h0.8v0.8h-0.8zM71.6,158.3h0.8v0.8h-0.8zM71.6,159.1h0.8v0.8h-0.8zM72.4,148.7h0.8v0.8h-0.8zM72.4,158.3h0.8v0.8h-0.8zM73.2,148.7h0.8v0.8h-0.8zM73.2,158.3h0.8v0.8h-0.8zM74.0,147.9h0.8v0.8h-0.8zM74.0,148.7h0.8v0.8h-0.8zM74.0,157.5h0.8v0.8h-0.8zM74.0,158.3h0.8v0.8h-0.8zM74.8,147.9h0.8v0.8h-0.8zM74.8,148.7h0.8v0.8h-0.8zM74.8,149.5h0.8v0.8h-0.8zM74.8,157.5h0.8v0.8h-0.8zM75.6,147.1h0.8v0.8h-0.8zM75.6,147.9h0.8v0.8h-0.8zM75.6,148.7h0.8v0.8h-0.8zM75.6,149.5h0.8v0.8h-0.8zM75.6,156.7h0.8v0.8h-0.8zM76.4,146.3h0.8v0.8h-0.8zM76.4,147.1h0.8v0.8h-0.8zM76.4,147.9h0.8v0.8h-0.8zM76.4,156.7h0.8v0.8h-0.8zM77.2,146.3h0.8v0.8h-0.8zM78.0,144.7h0.8v0.8h-0.8zM78.0,145.5h0.8v0.8h-0.8zM78.0,146.3h0.8v0.8h-0.8zM78.0,155.9h0.8v0.8h-0.8zM78.8,144.7h0.8v0.8h-0.8zM78.8,145.5h0.8v0.8h-0.8zM78.8,146.3h0.8v0.8h-0.8zM78.8,147.1h0.8v0.8h-0.8zM79.6,144.7h0.8v0.8h-0.8zM79.6,145.5h0.8v0.8h-0.8zM79.6,146.3h0.8v0.8h-0.8zM79.6,147.1h0.8v0.8h-0.8zM79.6,147.9h0.8v0.8h-0.8zM79.6,155.1h0.8v0.8h-0.8zM80.4,144.7h0.8v0.8h-0.8zM80.4,147.9h0.8v0.8h-0.8zM80.4,152.7h0.8v0.8h-0.8zM80.4,153.5h0.8v0.8h-0.8zM80.4,154.3h0.8v0.8h-0.8zM81.2,148.7h0.8v0.8h-0.8zM81.2,149.5h0.8v0.8h-0.8zM81.2,151.9h0.8v0.8h-0.8zM81.2,152.7h0.8v0.8h-0.8zM82.0,149.5h0.8v0.8h-0.8zM82.0,150.3h0.8v0.8h-0.8zM82.0,151.1h0.8v0.8h-0.8zM82.0,151.9h0.8v0.8h-0.8z" fill="#4470cc"/>
<path d="M67.6,155.9h0.8v0.8h-0.8zM67.6,156.7h0.8v0.8h-0.8zM68.4,154.3h0.8v0.8h-0.8zM68.4,155.1h0.8v0.8h-0.8zM68.4,155.9h0.8v0.8h-0.8zM68.4,156.7h0.8v0.8h-0.8zM68.4,157.5h0.8v0.8h-0.8zM69.2,153.5h0.8v0.8h-0.8zM69.2,154.3h0.8v0.8h-0.8zM69.2,155.1h0.8v0.8h-0.8zM69.2,155.9h0.8v0.8h-0.8zM69.2,156.7h0.8v0.8h-0.8zM69.2,157.5h0.8v0.8h-0.8zM69.2,158.3h0.8v0.8h-0.8zM70.0,153.5h0.8v0.8h-0.8zM70.0,156.7h0.8v0.8h-0.8zM70.0,157.5h0.8v0.8h-0.8zM70.0,158.3h0.8v0.8h-0.8zM70.8,152.7h0.8v0.8h-0.8zM70.8,157.5h0.8v0.8h-0.8zM71.6,150.3h0.8v0.8h-0.8zM71.6,151.1h0.8v0.8h-0.8zM71.6,157.5h0.8v0.8h-0.8zM72.4,150.3h0.8v0.8h-0.8zM72.4,157.5h0.8v0.8h-0.8zM73.2,149.5h0.8v0.8h-0.8zM73.2,157.5h0.8v0.8h-0.8zM74.0,149.5h0.8v0.8h-0.8zM74.0,150.3h0.8v0.8h-0.8zM74.0,156.7h0.8v0.8h-0.8zM74.8,150.3h0.8v0.8h-0.8zM74.8,156.7h0.8v0.8h-0.8zM75.6,150.3h0.8v0.8h-0.8zM76.4,148.7h0.8v0.8h-0.8zM76.4,149.5h0.8v0.8h-0.8zM76.4,150.3h0.8v0.8h-0.8zM76.4,155.9h0.8v0.8h-0.8zM77.2,147.1h0.8v0.8h-0.8zM77.2,147.9h0.8v0.8h-0.8zM77.2,148.7h0.8v0.8h-0.8zM77.2,149.5h0.8v0.8h-0.8zM77.2,155.9h0.8v0.8h-0.8zM78.0,147.1h0.8v0.8h-0.8zM78.0,147.9h0.8v0.8h-0.8zM78.0,148.7h0.8v0.8h-0.8zM78.0,155.1h0.8v0.8h-0.8zM78.8,147.9h0.8v0.8h-0.8zM78.8,148.7h0.8v0.8h-0.8zM78.8,154.3h0.8v0.8h-0.8zM78.8,155.1h0.8v0.8h-0.8zM79.6,148.7h0.8v0.8h-0.8zM79.6,151.1h0.8v0.8h-0.8zM79.6,151.9h0.8v0.8h-0.8zM79.6,152.7h0.8v0.8h-0.8zM79.6,153.5h0.8v0.8h-0.8zM79.6,154.3h0.8v0.8h-0.8zM80.4,148.7h0.8v0.8h-0.8zM80.4,149.5h0.8v0.8h-0.8zM80.4,150.3h0.8v0.8h-0.8zM80.4,151.1h0.8v0.8h-0.8zM80.4,151.9h0.8v0.8h-0.8zM81.2,150.3h0.8v0.8h-0.8zM81.2,151.1h0.8v0.8h-0.8z" fill="#2c58b8"/>
<path d="M70.0,154.3h0.8v0.8h-0.8zM70.0,155.1h0.8v0.8h-0.8zM70.0,155.9h0.8v0.8h-0.8zM70.8,153.5h0.8v0.8h-0.8zM70.8,155.9h0.8v0.8h-0.8zM70.8,156.7h0.8v0.8h-0.8zM71.6,151.9h0.8v0.8h-0.8zM71.6,152.7h0.8v0.8h-0.8zM71.6,156.7h0.8v0.8h-0.8zM72.4,151.1h0.8v0.8h-0.8zM72.4,156.7h0.8v0.8h-0.8zM73.2,150.3h0.8v0.8h-0.8zM73.2,156.7h0.8v0.8h-0.8zM74.0,151.1h0.8v0.8h-0.8zM74.8,151.1h0.8v0.8h-0.8zM74.8,155.9h0.8v0.8h-0.8zM75.6,151.1h0.8v0.8h-0.8zM75.6,155.9h0.8v0.8h-0.8zM76.4,151.1h0.8v0.8h-0.8zM76.4,155.1h0.8v0.8h-0.8zM77.2,150.3h0.8v0.8h-0.8zM77.2,151.1h0.8v0.8h-0.8zM77.2,155.1h0.8v0.8h-0.8zM78.0,149.5h0.8v0.8h-0.8zM78.0,150.3h0.8v0.8h-0.8zM78.0,154.3h0.8v0.8h-0.8zM78.8,149.5h0.8v0.8h-0.8zM78.8,150.3h0.8v0.8h-0.8zM78.8,151.1h0.8v0.8h-0.8zM78.8,151.9h0.8v0.8h-0.8zM78.8,152.7h0.8v0.8h-0.8zM78.8,153.5h0.8v0.8h-0.8zM79.6,149.5h0.8v0.8h-0.8zM79.6,150.3h0.8v0.8h-0.8z" fill="#3aa070"/>
<path d="M70.8,154.3h0.8v0.8h-0.8zM70.8,155.1h0.8v0.8h-0.8zM71.6,153.5h0.8v0.8h-0.8zM71.6,154.3h0.8v0.8h-0.8zM71.6,155.1h0.8v0.8h-0.8zM71.6,155.9h0.8v0.8h-0.8zM72.4,151.9h0.8v0.8h-0.8zM72.4,152.7h0.8v0.8h-0.8zM72.4,155.9h0.8v0.8h-0.8zM73.2,151.1h0.8v0.8h-0.8zM73.2,151.9h0.8v0.8h-0.8zM73.2,155.9h0.8v0.8h-0.8zM74.0,151.9h0.8v0.8h-0.8zM74.0,155.9h0.8v0.8h-0.8zM75.6,155.1h0.8v0.8h-0.8zM76.4,151.9h0.8v0.8h-0.8zM77.2,151.9h0.8v0.8h-0.8zM77.2,152.7h0.8v0.8h-0.8zM77.2,154.3h0.8v0.8h-0.8zM78.0,151.1h0.8v0.8h-0.8zM78.0,151.9h0.8v0.8h-0.8zM78.0,152.7h0.8v0.8h-0.8zM78.0,153.5h0.8v0.8h-0.8z" fill="#7cc040"/>
<path d="M72.4,153.5h0.8v0.8h-0.8zM72.4,154.3h0.8v0.8h-0.8zM72.4,155.1h0.8v0.8h-0.8zM73.2,152.7h0.8v0.8h-0.8zM73.2,153.5h0.8v0.8h-0.8zM73.2,154.3h0.8v0.8h-0.8zM73.2,155.1h0.8v0.8h-0.8zM74.0,152.7h0.8v0.8h-0.8zM74.0,153.5h0.8v0.8h-0.8zM74.0,154.3h0.8v0.8h-0.8zM74.0,155.1h0.8v0.8h-0.8zM74.8,151.9h0.8v0.8h-0.8zM74.8,152.7h0.8v0.8h-0.8zM74.8,153.5h0.8v0.8h-0.8zM74.8,154.3h0.8v0.8h-0.8zM74.8,155.1h0.8v0.8h-0.8zM75.6,151.9h0.8v0.8h-0.8zM75.6,152.7h0.8v0.8h-0.8zM75.6,153.5h0.8v0.8h-0.8zM75.6,154.3h0.8v0.8h-0.8zM76.4,152.7h0.8v0.8h-0.8zM76.4,153.5h0.8v0.8h-0.8zM76.4,154.3h0.8v0.8h-0.8zM77.2,153.5h0.8v0.8h-0.8z" fill="#c8d838"/>
<rect x="103.3" y="133.2" width="27.000000000000014" height="35.0" fill="none" stroke="#4848c0" stroke-width="0.9"/>
<text x="121.3" y="167.2" font-size="6.2" font-weight="bold" text-anchor="middle" fill="#111">13.5%</text>
<rect x="60.4" y="121.5" width="69.9" height="59.80000000000001" fill="none" stroke="#333" stroke-width="0.8"/>
<text x="58.2" y="185.3" font-size="5.5" font-weight="bold" text-anchor="end" fill="#1a1a1a">10<tspan font-size="3.8" dy="-2.48">0</tspan></text>
<text x="58.2" y="170.25" font-size="5.5" font-weight="bold" text-anchor="end" fill="#1a1a1a">10<tspan font-size="3.8" dy="-2.48">1</tspan></text>
<text x="58.2" y="155.20000000000002" font-size="5.5" font-weight="bold" text-anchor="end" fill="#1a1a1a">10<tspan font-size="3.8" dy="-2.48">2</tspan></text>
<text x="58.2" y="140.15" font-size="5.5" font-weight="bold" text-anchor="end" fill="#1a1a1a">10<tspan font-size="3.8" dy="-2.48">3</tspan></text>
<text x="58.2" y="125.1" font-size="5.5" font-weight="bold" text-anchor="end" fill="#1a1a1a">10<tspan font-size="3.8" dy="-2.48">4</tspan></text>
<text x="61.6" y="189.00000000000003" font-size="5.5" font-weight="bold" text-anchor="middle" fill="#1a1a1a">10<tspan font-size="3.8" dy="-2.48">0</tspan></text>
<text x="79.0" y="189.00000000000003" font-size="5.5" font-weight="bold" text-anchor="middle" fill="#1a1a1a">10<tspan font-size="3.8" dy="-2.48">1</tspan></text>
<text x="96.5" y="189.00000000000003" font-size="5.5" font-weight="bold" text-anchor="middle" fill="#1a1a1a">10<tspan font-size="3.8" dy="-2.48">2</tspan></text>
<text x="113.8" y="189.00000000000003" font-size="5.5" font-weight="bold" text-anchor="middle" fill="#1a1a1a">10<tspan font-size="3.8" dy="-2.48">3</tspan></text>
<text x="131.0" y="189.00000000000003" font-size="5.5" font-weight="bold" text-anchor="middle" fill="#1a1a1a">10<tspan font-size="3.8" dy="-2.48">4</tspan></text>
<path d="M62.0,231.4h0.8v0.8h-0.8zM62.8,236.2h0.8v0.8h-0.8zM62.8,242.6h0.8v0.8h-0.8zM63.6,229.8h0.8v0.8h-0.8zM63.6,237.0h0.8v0.8h-0.8zM63.6,238.6h0.8v0.8h-0.8zM63.6,242.6h0.8v0.8h-0.8zM64.4,229.8h0.8v0.8h-0.8zM64.4,230.6h0.8v0.8h-0.8zM64.4,233.0h0.8v0.8h-0.8zM64.4,233.8h0.8v0.8h-0.8zM64.4,237.8h0.8v0.8h-0.8zM64.4,239.4h0.8v0.8h-0.8zM64.4,242.6h0.8v0.8h-0.8zM65.2,237.8h0.8v0.8h-0.8zM66.0,226.6h0.8v0.8h-0.8zM66.0,239.4h0.8v0.8h-0.8zM66.0,240.2h0.8v0.8h-0.8zM66.8,224.2h0.8v0.8h-0.8zM66.8,225.8h0.8v0.8h-0.8zM66.8,229.0h0.8v0.8h-0.8zM67.6,225.8h0.8v0.8h-0.8zM68.4,223.4h0.8v0.8h-0.8zM68.4,227.4h0.8v0.8h-0.8zM68.4,241.0h0.8v0.8h-0.8zM69.2,241.0h0.8v0.8h-0.8zM70.0,221.8h0.8v0.8h-0.8zM70.0,240.2h0.8v0.8h-0.8zM70.0,244.2h0.8v0.8h-0.8zM70.8,241.0h0.8v0.8h-0.8zM71.6,217.8h0.8v0.8h-0.8zM72.4,220.2h0.8v0.8h-0.8zM72.4,222.6h0.8v0.8h-0.8zM72.4,244.2h0.8v0.8h-0.8zM73.2,217.8h0.8v0.8h-0.8zM73.2,220.2h0.8v0.8h-0.8zM73.2,240.2h0.8v0.8h-0.8zM73.2,241.0h0.8v0.8h-0.8zM73.2,241.8h0.8v0.8h-0.8zM73.2,242.6h0.8v0.8h-0.8zM74.0,239.4h0.8v0.8h-0.8zM74.8,241.8h0.8v0.8h-0.8zM75.6,221.0h0.8v0.8h-0.8zM75.6,239.4h0.8v0.8h-0.8zM75.6,241.8h0.8v0.8h-0.8zM76.4,219.4h0.8v0.8h-0.8zM77.2,219.4h0.8v0.8h-0.8zM77.2,241.8h0.8v0.8h-0.8zM78.0,218.6h0.8v0.8h-0.8zM78.0,237.8h0.8v0.8h-0.8zM78.8,217.0h0.8v0.8h-0.8zM78.8,218.6h0.8v0.8h-0.8zM78.8,237.0h0.8v0.8h-0.8zM80.4,217.0h0.8v0.8h-0.8zM80.4,234.6h0.8v0.8h-0.8zM81.2,213.8h0.8v0.8h-0.8zM81.2,217.0h0.8v0.8h-0.8zM81.2,218.6h0.8v0.8h-0.8zM81.2,234.6h0.8v0.8h-0.8zM82.0,216.2h0.8v0.8h-0.8zM82.0,233.8h0.8v0.8h-0.8zM82.0,234.6h0.8v0.8h-0.8zM82.8,217.0h0.8v0.8h-0.8zM83.6,216.2h0.8v0.8h-0.8zM83.6,217.0h0.8v0.8h-0.8zM83.6,234.6h0.8v0.8h-0.8zM84.4,214.6h0.8v0.8h-0.8zM84.4,217.0h0.8v0.8h-0.8zM84.4,232.2h0.8v0.8h-0.8zM85.2,231.4h0.8v0.8h-0.8zM86.0,212.2h0.8v0.8h-0.8zM86.0,217.0h0.8v0.8h-0.8zM86.8,227.4h0.8v0.8h-0.8zM86.8,229.8h0.8v0.8h-0.8zM87.6,216.2h0.8v0.8h-0.8zM87.6,217.0h0.8v0.8h-0.8zM87.6,231.4h0.8v0.8h-0.8zM88.4,213.8h0.8v0.8h-0.8zM88.4,217.0h0.8v0.8h-0.8zM88.4,217.8h0.8v0.8h-0.8zM88.4,221.8h0.8v0.8h-0.8zM88.4,223.4h0.8v0.8h-0.8zM88.4,225.0h0.8v0.8h-0.8zM89.2,213.8h0.8v0.8h-0.8zM89.2,219.4h0.8v0.8h-0.8zM89.2,225.8h0.8v0.8h-0.8zM89.2,226.6h0.8v0.8h-0.8zM90.0,217.0h0.8v0.8h-0.8zM90.0,218.6h0.8v0.8h-0.8zM90.0,220.2h0.8v0.8h-0.8zM90.0,232.2h0.8v0.8h-0.8zM90.8,214.6h0.8v0.8h-0.8zM90.8,215.4h0.8v0.8h-0.8zM90.8,221.8h0.8v0.8h-0.8zM90.8,228.2h0.8v0.8h-0.8zM91.6,220.2h0.8v0.8h-0.8zM92.4,218.6h0.8v0.8h-0.8zM92.4,221.0h0.8v0.8h-0.8zM99.6,229.8h0.8v0.8h-0.8zM100.4,227.4h0.8v0.8h-0.8zM100.4,229.0h0.8v0.8h-0.8zM105.2,222.6h0.8v0.8h-0.8zM106.0,221.8h0.8v0.8h-0.8zM106.0,223.4h0.8v0.8h-0.8zM106.0,226.6h0.8v0.8h-0.8zM106.8,226.6h0.8v0.8h-0.8zM106.8,229.0h0.8v0.8h-0.8zM106.8,229.8h0.8v0.8h-0.8zM107.6,227.4h0.8v0.8h-0.8zM108.4,222.6h0.8v0.8h-0.8zM108.4,228.2h0.8v0.8h-0.8zM109.2,221.0h0.8v0.8h-0.8zM109.2,223.4h0.8v0.8h-0.8zM109.2,225.0h0.8v0.8h-0.8zM109.2,225.8h0.8v0.8h-0.8zM109.2,227.4h0.8v0.8h-0.8zM110.0,219.4h0.8v0.8h-0.8zM110.0,220.2h0.8v0.8h-0.8zM110.8,221.0h0.8v0.8h-0.8zM110.8,227.4h0.8v0.8h-0.8zM110.8,230.6h0.8v0.8h-0.8zM111.6,217.0h0.8v0.8h-0.8zM111.6,227.4h0.8v0.8h-0.8zM112.4,218.6h0.8v0.8h-0.8zM112.4,221.0h0.8v0.8h-0.8zM113.2,228.2h0.8v0.8h-0.8zM113.2,230.6h0.8v0.8h-0.8zM114.0,221.0h0.8v0.8h-0.8zM114.0,229.0h0.8v0.8h-0.8zM114.0,229.8h0.8v0.8h-0.8zM114.8,218.6h0.8v0.8h-0.8zM114.8,229.8h0.8v0.8h-0.8zM116.4,219.4h0.8v0.8h-0.8zM116.4,221.8h0.8v0.8h-0.8zM116.4,228.2h0.8v0.8h-0.8zM117.2,221.0h0.8v0.8h-0.8zM117.2,223.4h0.8v0.8h-0.8zM117.2,228.2h0.8v0.8h-0.8zM118.0,219.4h0.8v0.8h-0.8zM118.0,228.2h0.8v0.8h-0.8zM118.8,219.4h0.8v0.8h-0.8zM118.8,221.0h0.8v0.8h-0.8zM118.8,227.4h0.8v0.8h-0.8zM118.8,229.0h0.8v0.8h-0.8zM119.6,221.8h0.8v0.8h-0.8zM119.6,227.4h0.8v0.8h-0.8zM120.4,221.0h0.8v0.8h-0.8zM120.4,222.6h0.8v0.8h-0.8zM120.4,225.0h0.8v0.8h-0.8zM120.4,235.4h0.8v0.8h-0.8zM121.2,221.8h0.8v0.8h-0.8zM121.2,223.4h0.8v0.8h-0.8zM121.2,225.0h0.8v0.8h-0.8zM122.8,218.6h0.8v0.8h-0.8zM122.8,221.0h0.8v0.8h-0.8zM122.8,225.0h0.8v0.8h-0.8zM122.8,225.8h0.8v0.8h-0.8zM122.8,226.6h0.8v0.8h-0.8zM123.6,225.0h0.8v0.8h-0.8zM123.6,225.8h0.8v0.8h-0.8zM124.4,224.2h0.8v0.8h-0.8zM124.4,225.0h0.8v0.8h-0.8zM124.4,227.4h0.8v0.8h-0.8zM124.4,229.0h0.8v0.8h-0.8zM125.2,223.4h0.8v0.8h-0.8zM126.0,221.8h0.8v0.8h-0.8zM126.0,226.6h0.8v0.8h-0.8zM126.8,225.0h0.8v0.8h-0.8zM127.6,218.6h0.8v0.8h-0.8zM127.6,223.4h0.8v0.8h-0.8z" fill="#c8d2f2"/>
<path d="M65.2,231.4h0.8v0.8h-0.8zM65.2,234.6h0.8v0.8h-0.8zM65.2,236.2h0.8v0.8h-0.8zM66.0,230.6h0.8v0.8h-0.8zM66.0,231.4h0.8v0.8h-0.8zM66.0,232.2h0.8v0.8h-0.8zM66.0,233.0h0.8v0.8h-0.8zM66.0,233.8h0.8v0.8h-0.8zM66.0,234.6h0.8v0.8h-0.8zM66.0,236.2h0.8v0.8h-0.8zM66.8,233.8h0.8v0.8h-0.8zM66.8,234.6h0.8v0.8h-0.8zM66.8,236.2h0.8v0.8h-0.8zM66.8,237.8h0.8v0.8h-0.8zM66.8,238.6h0.8v0.8h-0.8zM66.8,239.4h0.8v0.8h-0.8zM67.6,229.0h0.8v0.8h-0.8zM67.6,229.8h0.8v0.8h-0.8zM67.6,231.4h0.8v0.8h-0.8zM67.6,235.4h0.8v0.8h-0.8zM67.6,236.2h0.8v0.8h-0.8zM67.6,238.6h0.8v0.8h-0.8zM67.6,239.4h0.8v0.8h-0.8zM68.4,228.2h0.8v0.8h-0.8zM68.4,229.0h0.8v0.8h-0.8zM68.4,237.0h0.8v0.8h-0.8zM68.4,237.8h0.8v0.8h-0.8zM68.4,238.6h0.8v0.8h-0.8zM68.4,239.4h0.8v0.8h-0.8zM69.2,228.2h0.8v0.8h-0.8zM69.2,238.6h0.8v0.8h-0.8zM69.2,240.2h0.8v0.8h-0.8zM70.0,225.0h0.8v0.8h-0.8zM70.0,225.8h0.8v0.8h-0.8zM70.0,226.6h0.8v0.8h-0.8zM70.0,227.4h0.8v0.8h-0.8zM70.0,239.4h0.8v0.8h-0.8zM70.8,224.2h0.8v0.8h-0.8zM70.8,225.0h0.8v0.8h-0.8zM70.8,237.8h0.8v0.8h-0.8zM70.8,238.6h0.8v0.8h-0.8zM71.6,225.8h0.8v0.8h-0.8zM71.6,226.6h0.8v0.8h-0.8zM71.6,237.8h0.8v0.8h-0.8zM72.4,225.8h0.8v0.8h-0.8zM72.4,237.8h0.8v0.8h-0.8zM72.4,238.6h0.8v0.8h-0.8zM73.2,221.8h0.8v0.8h-0.8zM73.2,223.4h0.8v0.8h-0.8zM73.2,225.0h0.8v0.8h-0.8zM73.2,237.8h0.8v0.8h-0.8zM73.2,238.6h0.8v0.8h-0.8zM74.0,221.8h0.8v0.8h-0.8zM74.0,222.6h0.8v0.8h-0.8zM74.0,223.4h0.8v0.8h-0.8zM74.0,237.8h0.8v0.8h-0.8zM74.0,238.6h0.8v0.8h-0.8zM74.8,221.8h0.8v0.8h-0.8zM74.8,222.6h0.8v0.8h-0.8zM74.8,237.8h0.8v0.8h-0.8zM75.6,223.4h0.8v0.8h-0.8zM76.4,223.4h0.8v0.8h-0.8zM77.2,220.2h0.8v0.8h-0.8zM77.2,223.4h0.8v0.8h-0.8zM77.2,236.2h0.8v0.8h-0.8zM77.2,237.0h0.8v0.8h-0.8zM78.0,220.2h0.8v0.8h-0.8zM78.0,221.0h0.8v0.8h-0.8zM78.0,221.8h0.8v0.8h-0.8zM78.8,220.2h0.8v0.8h-0.8zM78.8,221.0h0.8v0.8h-0.8zM78.8,221.8h0.8v0.8h-0.8zM79.6,220.2h0.8v0.8h-0.8zM80.4,220.2h0.8v0.8h-0.8zM80.4,233.8h0.8v0.8h-0.8zM81.2,219.4h0.8v0.8h-0.8zM81.2,220.2h0.8v0.8h-0.8zM81.2,233.8h0.8v0.8h-0.8zM82.0,220.2h0.8v0.8h-0.8zM82.0,232.2h0.8v0.8h-0.8zM82.8,218.6h0.8v0.8h-0.8zM82.8,219.4h0.8v0.8h-0.8zM82.8,220.2h0.8v0.8h-0.8zM82.8,231.4h0.8v0.8h-0.8zM83.6,217.8h0.8v0.8h-0.8zM83.6,219.4h0.8v0.8h-0.8zM83.6,232.2h0.8v0.8h-0.8zM84.4,218.6h0.8v0.8h-0.8zM84.4,219.4h0.8v0.8h-0.8zM84.4,220.2h0.8v0.8h-0.8zM84.4,227.4h0.8v0.8h-0.8zM84.4,228.2h0.8v0.8h-0.8zM84.4,229.0h0.8v0.8h-0.8zM84.4,229.8h0.8v0.8h-0.8zM85.2,217.8h0.8v0.8h-0.8zM85.2,219.4h0.8v0.8h-0.8zM85.2,220.2h0.8v0.8h-0.8zM85.2,221.0h0.8v0.8h-0.8zM85.2,226.6h0.8v0.8h-0.8zM85.2,229.0h0.8v0.8h-0.8zM85.2,229.8h0.8v0.8h-0.8zM85.2,230.6h0.8v0.8h-0.8zM86.0,219.4h0.8v0.8h-0.8zM86.0,222.6h0.8v0.8h-0.8zM86.0,224.2h0.8v0.8h-0.8zM86.0,225.0h0.8v0.8h-0.8zM86.0,225.8h0.8v0.8h-0.8zM86.0,226.6h0.8v0.8h-0.8zM86.0,229.8h0.8v0.8h-0.8zM86.8,219.4h0.8v0.8h-0.8zM86.8,220.2h0.8v0.8h-0.8zM86.8,222.6h0.8v0.8h-0.8zM86.8,225.0h0.8v0.8h-0.8zM87.6,218.6h0.8v0.8h-0.8zM87.6,219.4h0.8v0.8h-0.8zM87.6,220.2h0.8v0.8h-0.8zM87.6,222.6h0.8v0.8h-0.8zM87.6,223.4h0.8v0.8h-0.8zM88.4,222.6h0.8v0.8h-0.8zM110.0,223.4h0.8v0.8h-0.8zM110.8,222.6h0.8v0.8h-0.8zM110.8,223.4h0.8v0.8h-0.8zM110.8,224.2h0.8v0.8h-0.8zM110.8,225.8h0.8v0.8h-0.8zM111.6,222.6h0.8v0.8h-0.8zM111.6,223.4h0.8v0.8h-0.8zM111.6,224.2h0.8v0.8h-0.8zM111.6,225.8h0.8v0.8h-0.8zM111.6,226.6h0.8v0.8h-0.8zM112.4,222.6h0.8v0.8h-0.8zM112.4,223.4h0.8v0.8h-0.8zM113.2,226.6h0.8v0.8h-0.8zM114.0,221.8h0.8v0.8h-0.8zM114.0,223.4h0.8v0.8h-0.8zM114.8,221.0h0.8v0.8h-0.8zM114.8,221.8h0.8v0.8h-0.8zM114.8,222.6h0.8v0.8h-0.8zM114.8,223.4h0.8v0.8h-0.8zM114.8,226.6h0.8v0.8h-0.8zM115.6,221.8h0.8v0.8h-0.8zM115.6,222.6h0.8v0.8h-0.8zM115.6,223.4h0.8v0.8h-0.8zM115.6,224.2h0.8v0.8h-0.8zM115.6,226.6h0.8v0.8h-0.8zM115.6,227.4h0.8v0.8h-0.8zM116.4,225.0h0.8v0.8h-0.8zM116.4,225.8h0.8v0.8h-0.8zM116.4,226.6h0.8v0.8h-0.8zM117.2,224.2h0.8v0.8h-0.8zM117.2,225.0h0.8v0.8h-0.8zM117.2,225.8h0.8v0.8h-0.8zM117.2,226.6h0.8v0.8h-0.8zM118.0,224.2h0.8v0.8h-0.8zM118.0,225.0h0.8v0.8h-0.8zM118.8,225.8h0.8v0.8h-0.8zM119.6,225.8h0.8v0.8h-0.8zM119.6,226.6h0.8v0.8h-0.8z" fill="#a8bcee"/>
<path d="M67.6,232.2h0.8v0.8h-0.8zM67.6,233.0h0.8v0.8h-0.8zM67.6,234.6h0.8v0.8h-0.8zM68.4,229.8h0.8v0.8h-0.8zM68.4,230.6h0.8v0.8h-0.8zM68.4,231.4h0.8v0.8h-0.8zM68.4,234.6h0.8v0.8h-0.8zM68.4,235.4h0.8v0.8h-0.8zM68.4,236.2h0.8v0.8h-0.8zM69.2,229.0h0.8v0.8h-0.8zM69.2,229.8h0.8v0.8h-0.8zM69.2,235.4h0.8v0.8h-0.8zM69.2,236.2h0.8v0.8h-0.8zM69.2,237.0h0.8v0.8h-0.8zM70.0,236.2h0.8v0.8h-0.8zM70.0,237.0h0.8v0.8h-0.8zM70.0,237.8h0.8v0.8h-0.8zM70.8,227.4h0.8v0.8h-0.8zM70.8,229.0h0.8v0.8h-0.8zM70.8,235.4h0.8v0.8h-0.8zM70.8,236.2h0.8v0.8h-0.8zM70.8,237.0h0.8v0.8h-0.8zM71.6,227.4h0.8v0.8h-0.8zM71.6,228.2h0.8v0.8h-0.8zM71.6,235.4h0.8v0.8h-0.8zM71.6,236.2h0.8v0.8h-0.8zM72.4,227.4h0.8v0.8h-0.8zM72.4,236.2h0.8v0.8h-0.8zM72.4,237.0h0.8v0.8h-0.8zM73.2,226.6h0.8v0.8h-0.8zM73.2,227.4h0.8v0.8h-0.8zM73.2,236.2h0.8v0.8h-0.8zM74.0,224.2h0.8v0.8h-0.8zM74.0,225.0h0.8v0.8h-0.8zM74.0,225.8h0.8v0.8h-0.8zM74.0,226.6h0.8v0.8h-0.8zM74.0,236.2h0.8v0.8h-0.8zM74.0,237.0h0.8v0.8h-0.8zM74.8,224.2h0.8v0.8h-0.8zM74.8,225.0h0.8v0.8h-0.8zM74.8,236.2h0.8v0.8h-0.8zM75.6,224.2h0.8v0.8h-0.8zM75.6,225.0h0.8v0.8h-0.8zM75.6,236.2h0.8v0.8h-0.8zM76.4,235.4h0.8v0.8h-0.8zM76.4,236.2h0.8v0.8h-0.8zM77.2,224.2h0.8v0.8h-0.8zM77.2,225.0h0.8v0.8h-0.8zM77.2,235.4h0.8v0.8h-0.8zM78.0,224.2h0.8v0.8h-0.8zM78.0,225.0h0.8v0.8h-0.8zM78.0,234.6h0.8v0.8h-0.8zM78.8,222.6h0.8v0.8h-0.8zM78.8,223.4h0.8v0.8h-0.8zM78.8,224.2h0.8v0.8h-0.8zM78.8,233.8h0.8v0.8h-0.8zM79.6,221.0h0.8v0.8h-0.8zM79.6,221.8h0.8v0.8h-0.8zM79.6,222.6h0.8v0.8h-0.8zM79.6,223.4h0.8v0.8h-0.8zM79.6,233.0h0.8v0.8h-0.8zM80.4,221.0h0.8v0.8h-0.8zM80.4,221.8h0.8v0.8h-0.8zM80.4,222.6h0.8v0.8h-0.8zM80.4,232.2h0.8v0.8h-0.8zM80.4,233.0h0.8v0.8h-0.8zM81.2,221.0h0.8v0.8h-0.8zM81.2,231.4h0.8v0.8h-0.8zM81.2,232.2h0.8v0.8h-0.8zM82.0,221.0h0.8v0.8h-0.8zM82.0,221.8h0.8v0.8h-0.8zM82.0,231.4h0.8v0.8h-0.8zM82.8,221.0h0.8v0.8h-0.8zM82.8,225.0h0.8v0.8h-0.8zM82.8,225.8h0.8v0.8h-0.8zM82.8,230.6h0.8v0.8h-0.8zM83.6,220.2h0.8v0.8h-0.8zM83.6,221.0h0.8v0.8h-0.8zM83.6,221.8h0.8v0.8h-0.8zM83.6,222.6h0.8v0.8h-0.8zM83.6,223.4h0.8v0.8h-0.8zM83.6,224.2h0.8v0.8h-0.8zM83.6,225.0h0.8v0.8h-0.8zM83.6,225.8h0.8v0.8h-0.8zM83.6,226.6h0.8v0.8h-0.8zM83.6,228.2h0.8v0.8h-0.8zM83.6,229.0h0.8v0.8h-0.8zM84.4,221.0h0.8v0.8h-0.8zM84.4,221.8h0.8v0.8h-0.8zM84.4,222.6h0.8v0.8h-0.8zM84.4,223.4h0.8v0.8h-0.8zM84.4,224.2h0.8v0.8h-0.8zM84.4,225.0h0.8v0.8h-0.8zM84.4,226.6h0.8v0.8h-0.8zM85.2,221.8h0.8v0.8h-0.8zM85.2,222.6h0.8v0.8h-0.8zM85.2,223.4h0.8v0.8h-0.8zM85.2,225.0h0.8v0.8h-0.8zM85.2,225.8h0.8v0.8h-0.8zM112.4,224.2h0.8v0.8h-0.8zM112.4,225.0h0.8v0.8h-0.8zM113.2,224.2h0.8v0.8h-0.8zM113.2,225.0h0.8v0.8h-0.8zM113.2,225.8h0.8v0.8h-0.8zM114.0,225.8h0.8v0.8h-0.8zM114.8,225.0h0.8v0.8h-0.8zM114.8,225.8h0.8v0.8h-0.8zM115.6,225.0h0.8v0.8h-0.8zM115.6,225.8h0.8v0.8h-0.8z" fill="#7898e2"/>
<path d="M68.4,232.2h0.8v0.8h-0.8zM68.4,233.0h0.8v0.8h-0.8zM68.4,233.8h0.8v0.8h-0.8zM69.2,230.6h0.8v0.8h-0.8zM69.2,231.4h0.8v0.8h-0.8zM69.2,232.2h0.8v0.8h-0.8zM69.2,233.0h0.8v0.8h-0.8zM69.2,233.8h0.8v0.8h-0.8zM69.2,234.6h0.8v0.8h-0.8zM70.0,229.8h0.8v0.8h-0.8zM70.0,233.8h0.8v0.8h-0.8zM70.0,234.6h0.8v0.8h-0.8zM70.0,235.4h0.8v0.8h-0.8zM70.8,229.8h0.8v0.8h-0.8zM70.8,233.8h0.8v0.8h-0.8zM70.8,234.6h0.8v0.8h-0.8zM71.6,229.0h0.8v0.8h-0.8zM71.6,234.6h0.8v0.8h-0.8zM72.4,228.2h0.8v0.8h-0.8zM72.4,234.6h0.8v0.8h-0.8zM72.4,235.4h0.8v0.8h-0.8zM73.2,228.2h0.8v0.8h-0.8zM73.2,235.4h0.8v0.8h-0.8zM74.0,227.4h0.8v0.8h-0.8zM74.0,228.2h0.8v0.8h-0.8zM74.0,235.4h0.8v0.8h-0.8zM74.8,225.8h0.8v0.8h-0.8zM74.8,226.6h0.8v0.8h-0.8zM74.8,227.4h0.8v0.8h-0.8zM75.6,225.8h0.8v0.8h-0.8zM75.6,226.6h0.8v0.8h-0.8zM75.6,235.4h0.8v0.8h-0.8zM76.4,225.8h0.8v0.8h-0.8zM76.4,234.6h0.8v0.8h-0.8zM77.2,225.8h0.8v0.8h-0.8zM77.2,234.6h0.8v0.8h-0.8zM78.0,225.8h0.8v0.8h-0.8zM78.0,233.8h0.8v0.8h-0.8zM78.8,225.8h0.8v0.8h-0.8zM78.8,233.0h0.8v0.8h-0.8zM79.6,224.2h0.8v0.8h-0.8zM79.6,225.0h0.8v0.8h-0.8zM79.6,225.8h0.8v0.8h-0.8zM79.6,232.2h0.8v0.8h-0.8zM80.4,223.4h0.8v0.8h-0.8zM80.4,224.2h0.8v0.8h-0.8zM80.4,225.0h0.8v0.8h-0.8zM80.4,225.8h0.8v0.8h-0.8zM80.4,226.6h0.8v0.8h-0.8zM80.4,231.4h0.8v0.8h-0.8zM81.2,223.4h0.8v0.8h-0.8zM81.2,224.2h0.8v0.8h-0.8zM81.2,225.0h0.8v0.8h-0.8zM81.2,225.8h0.8v0.8h-0.8zM81.2,226.6h0.8v0.8h-0.8zM81.2,227.4h0.8v0.8h-0.8zM81.2,230.6h0.8v0.8h-0.8zM82.0,222.6h0.8v0.8h-0.8zM82.0,223.4h0.8v0.8h-0.8zM82.0,224.2h0.8v0.8h-0.8zM82.0,225.0h0.8v0.8h-0.8zM82.0,225.8h0.8v0.8h-0.8zM82.0,226.6h0.8v0.8h-0.8zM82.0,227.4h0.8v0.8h-0.8zM82.0,228.2h0.8v0.8h-0.8zM82.0,229.8h0.8v0.8h-0.8zM82.0,230.6h0.8v0.8h-0.8zM82.8,222.6h0.8v0.8h-0.8zM82.8,223.4h0.8v0.8h-0.8zM82.8,224.2h0.8v0.8h-0.8zM82.8,227.4h0.8v0.8h-0.8zM82.8,228.2h0.8v0.8h-0.8zM82.8,229.0h0.8v0.8h-0.8zM82.8,229.8h0.8v0.8h-0.8z" fill="#4470cc"/>
<path d="M70.0,230.6h0.8v0.8h-0.8zM70.0,231.4h0.8v0.8h-0.8zM70.0,232.2h0.8v0.8h-0.8zM70.0,233.0h0.8v0.8h-0.8zM70.8,230.6h0.8v0.8h-0.8zM70.8,231.4h0.8v0.8h-0.8zM70.8,232.2h0.8v0.8h-0.8zM70.8,233.0h0.8v0.8h-0.8zM71.6,229.8h0.8v0.8h-0.8zM71.6,230.6h0.8v0.8h-0.8zM71.6,233.0h0.8v0.8h-0.8zM71.6,233.8h0.8v0.8h-0.8zM72.4,229.0h0.8v0.8h-0.8zM72.4,229.8h0.8v0.8h-0.8zM72.4,233.8h0.8v0.8h-0.8zM73.2,229.0h0.8v0.8h-0.8zM73.2,233.8h0.8v0.8h-0.8zM73.2,234.6h0.8v0.8h-0.8zM74.0,229.0h0.8v0.8h-0.8zM74.0,233.8h0.8v0.8h-0.8zM74.0,234.6h0.8v0.8h-0.8zM74.8,228.2h0.8v0.8h-0.8zM74.8,229.0h0.8v0.8h-0.8zM74.8,234.6h0.8v0.8h-0.8zM75.6,227.4h0.8v0.8h-0.8zM75.6,228.2h0.8v0.8h-0.8zM75.6,234.6h0.8v0.8h-0.8zM76.4,226.6h0.8v0.8h-0.8zM76.4,227.4h0.8v0.8h-0.8zM76.4,228.2h0.8v0.8h-0.8zM77.2,226.6h0.8v0.8h-0.8zM77.2,227.4h0.8v0.8h-0.8zM77.2,233.8h0.8v0.8h-0.8zM78.0,226.6h0.8v0.8h-0.8zM78.0,227.4h0.8v0.8h-0.8zM78.0,233.0h0.8v0.8h-0.8zM78.8,226.6h0.8v0.8h-0.8zM78.8,227.4h0.8v0.8h-0.8zM78.8,232.2h0.8v0.8h-0.8zM79.6,226.6h0.8v0.8h-0.8zM79.6,227.4h0.8v0.8h-0.8zM79.6,231.4h0.8v0.8h-0.8zM80.4,227.4h0.8v0.8h-0.8zM80.4,228.2h0.8v0.8h-0.8zM80.4,230.6h0.8v0.8h-0.8zM81.2,228.2h0.8v0.8h-0.8zM81.2,229.0h0.8v0.8h-0.8zM81.2,229.8h0.8v0.8h-0.8zM82.0,229.0h0.8v0.8h-0.8z" fill="#2c58b8"/>
<path d="M71.6,231.4h0.8v0.8h-0.8zM71.6,232.2h0.8v0.8h-0.8zM72.4,230.6h0.8v0.8h-0.8zM72.4,231.4h0.8v0.8h-0.8zM72.4,232.2h0.8v0.8h-0.8zM72.4,233.0h0.8v0.8h-0.8zM73.2,229.8h0.8v0.8h-0.8zM73.2,230.6h0.8v0.8h-0.8zM73.2,231.4h0.8v0.8h-0.8zM73.2,232.2h0.8v0.8h-0.8zM73.2,233.0h0.8v0.8h-0.8zM74.0,229.8h0.8v0.8h-0.8zM74.0,233.0h0.8v0.8h-0.8zM74.8,229.8h0.8v0.8h-0.8zM74.8,233.8h0.8v0.8h-0.8zM75.6,229.0h0.8v0.8h-0.8zM75.6,233.8h0.8v0.8h-0.8zM76.4,229.0h0.8v0.8h-0.8zM76.4,233.8h0.8v0.8h-0.8zM77.2,228.2h0.8v0.8h-0.8zM77.2,229.0h0.8v0.8h-0.8zM77.2,233.0h0.8v0.8h-0.8zM78.0,228.2h0.8v0.8h-0.8zM78.0,232.2h0.8v0.8h-0.8zM78.8,228.2h0.8v0.8h-0.8zM78.8,231.4h0.8v0.8h-0.8zM79.6,228.2h0.8v0.8h-0.8zM79.6,229.0h0.8v0.8h-0.8zM79.6,230.6h0.8v0.8h-0.8zM80.4,229.0h0.8v0.8h-0.8z" fill="#3aa070"/>
<path d="M74.0,230.6h0.8v0.8h-0.8zM74.0,231.4h0.8v0.8h-0.8zM74.0,232.2h0.8v0.8h-0.8zM74.8,230.6h0.8v0.8h-0.8zM74.8,233.0h0.8v0.8h-0.8zM75.6,229.8h0.8v0.8h-0.8zM75.6,230.6h0.8v0.8h-0.8zM75.6,233.0h0.8v0.8h-0.8zM76.4,229.8h0.8v0.8h-0.8zM76.4,230.6h0.8v0.8h-0.8zM76.4,233.0h0.8v0.8h-0.8zM77.2,229.8h0.8v0.8h-0.8zM77.2,230.6h0.8v0.8h-0.8zM77.2,231.4h0.8v0.8h-0.8zM77.2,232.2h0.8v0.8h-0.8zM78.0,229.0h0.8v0.8h-0.8zM78.0,229.8h0.8v0.8h-0.8zM78.0,230.6h0.8v0.8h-0.8zM78.0,231.4h0.8v0.8h-0.8zM78.8,229.0h0.8v0.8h-0.8zM78.8,229.8h0.8v0.8h-0.8zM78.8,230.6h0.8v0.8h-0.8zM79.6,229.8h0.8v0.8h-0.8z" fill="#7cc040"/>
<path d="M74.8,231.4h0.8v0.8h-0.8zM74.8,232.2h0.8v0.8h-0.8zM75.6,231.4h0.8v0.8h-0.8zM75.6,232.2h0.8v0.8h-0.8zM76.4,231.4h0.8v0.8h-0.8zM76.4,232.2h0.8v0.8h-0.8z" fill="#c8d838"/>
<rect x="104.7" y="210.7" width="25.60000000000001" height="34.5" fill="none" stroke="#4848c0" stroke-width="0.9"/>
<text x="118.8" y="241.8" font-size="6.2" font-weight="bold" text-anchor="middle" fill="#111">8.8%</text>
<rect x="60.4" y="198.6" width="69.9" height="60.00000000000003" fill="none" stroke="#333" stroke-width="0.8"/>
<text x="58.2" y="262.6" font-size="5.5" font-weight="bold" text-anchor="end" fill="#1a1a1a">10<tspan font-size="3.8" dy="-2.48">0</tspan></text>
<text x="58.2" y="247.55" font-size="5.5" font-weight="bold" text-anchor="end" fill="#1a1a1a">10<tspan font-size="3.8" dy="-2.48">1</tspan></text>
<text x="58.2" y="232.50000000000003" font-size="5.5" font-weight="bold" text-anchor="end" fill="#1a1a1a">10<tspan font-size="3.8" dy="-2.48">2</tspan></text>
<text x="58.2" y="217.45000000000002" font-size="5.5" font-weight="bold" text-anchor="end" fill="#1a1a1a">10<tspan font-size="3.8" dy="-2.48">3</tspan></text>
<text x="58.2" y="202.40000000000003" font-size="5.5" font-weight="bold" text-anchor="end" fill="#1a1a1a">10<tspan font-size="3.8" dy="-2.48">4</tspan></text>
<text x="61.6" y="266.3" font-size="5.5" font-weight="bold" text-anchor="middle" fill="#1a1a1a">10<tspan font-size="3.8" dy="-2.48">0</tspan></text>
<text x="79.0" y="266.3" font-size="5.5" font-weight="bold" text-anchor="middle" fill="#1a1a1a">10<tspan font-size="3.8" dy="-2.48">1</tspan></text>
<text x="96.5" y="266.3" font-size="5.5" font-weight="bold" text-anchor="middle" fill="#1a1a1a">10<tspan font-size="3.8" dy="-2.48">2</tspan></text>
<text x="113.8" y="266.3" font-size="5.5" font-weight="bold" text-anchor="middle" fill="#1a1a1a">10<tspan font-size="3.8" dy="-2.48">3</tspan></text>
<text x="131.0" y="266.3" font-size="5.5" font-weight="bold" text-anchor="middle" fill="#1a1a1a">10<tspan font-size="3.8" dy="-2.48">4</tspan></text>
<line x1="37.4" y1="137" x2="37.4" y2="232" stroke="#555" stroke-width="1.0"/>
<path d="M37.4,132.6 L35.3,138.0 L39.5,138.0 Z" fill="#111"/>
<text x="41.2" y="250.2" font-size="8.8" font-weight="bold" text-anchor="middle" transform="rotate(-90 41.2 250.2)">SSC</text>
<text x="57.5" y="278.4" font-size="8.6" font-weight="bold">CFSE</text>
<line x1="84.8" y1="275.3" x2="121.5" y2="275.3" stroke="#444" stroke-width="1.0"/>
<path d="M126.6,275.3 L121.2,273.2 L121.2,277.4 Z" fill="#111"/>
<text x="148.0" y="160.0" font-size="10.5" font-weight="bold" text-anchor="middle" transform="rotate(-90 148.0 160.0)">HO-1<tspan font-size="5.8" dy="-3.8">+/+</tspan></text>
<text x="147.0" y="226.6" font-size="10.5" font-weight="bold" text-anchor="middle" transform="rotate(-90 147.0 226.6)">HO-1<tspan font-size="5.8" dy="-3.8">+/-</tspan></text>
<defs><filter id="sb" x="-5%" y="-5%" width="110%" height="110%"><feGaussianBlur stdDeviation="0.5"/></filter></defs>
<g filter="url(#sb)"><path d="M235.2,122.9h0.55v0.55h-0.55zM224.5,123.9h0.55v0.55h-0.55zM240.0,124.1h0.55v0.55h-0.55zM257.4,123.9h0.55v0.55h-0.55zM238.8,124.6h0.55v0.55h-0.55zM252.7,124.7h0.55v0.55h-0.55zM215.4,125.3h0.55v0.55h-0.55zM217.9,125.2h0.55v0.55h-0.55zM221.5,125.2h0.55v0.55h-0.55zM225.6,125.1h0.55v0.55h-0.55zM234.1,125.2h0.55v0.55h-0.55zM238.7,125.3h0.55v0.55h-0.55zM253.3,125.4h0.55v0.55h-0.55zM259.3,125.1h0.55v0.55h-0.55zM214.1,125.8h0.55v0.55h-0.55zM225.1,125.7h0.55v0.55h-0.55zM227.0,125.7h0.55v0.55h-0.55zM232.7,125.8h0.55v0.55h-0.55zM233.4,125.8h0.55v0.55h-0.55zM234.7,125.7h0.55v0.55h-0.55zM249.6,126.0h0.55v0.55h-0.55zM250.8,125.7h0.55v0.55h-0.55zM256.4,125.7h0.55v0.55h-0.55zM256.9,125.8h0.55v0.55h-0.55zM257.4,125.9h0.55v0.55h-0.55zM214.3,126.5h0.55v0.55h-0.55zM216.0,126.5h0.55v0.55h-0.55zM224.4,126.3h0.55v0.55h-0.55zM225.5,126.4h0.55v0.55h-0.55zM227.9,126.5h0.55v0.55h-0.55zM231.0,126.5h0.55v0.55h-0.55zM234.0,126.5h0.55v0.55h-0.55zM242.5,126.4h0.55v0.55h-0.55zM246.5,126.5h0.55v0.55h-0.55zM250.2,126.4h0.55v0.55h-0.55zM253.2,126.3h0.55v0.55h-0.55zM254.6,126.4h0.55v0.55h-0.55zM265.3,126.4h0.55v0.55h-0.55zM217.8,127.0h0.55v0.55h-0.55zM218.4,127.0h0.55v0.55h-0.55zM220.8,127.1h0.55v0.55h-0.55zM232.1,127.1h0.55v0.55h-0.55zM234.7,126.9h0.55v0.55h-0.55zM238.8,127.0h0.55v0.55h-0.55zM241.9,127.1h0.55v0.55h-0.55zM245.5,127.1h0.55v0.55h-0.55zM246.1,127.2h0.55v0.55h-0.55zM247.4,127.1h0.55v0.55h-0.55zM250.3,126.9h0.55v0.55h-0.55zM251.5,126.9h0.55v0.55h-0.55zM252.7,127.1h0.55v0.55h-0.55zM259.9,126.9h0.55v0.55h-0.55zM265.2,126.9h0.55v0.55h-0.55zM215.5,127.7h0.55v0.55h-0.55zM216.1,127.5h0.55v0.55h-0.55zM216.7,127.6h0.55v0.55h-0.55zM218.5,127.7h0.55v0.55h-0.55zM222.5,127.7h0.55v0.55h-0.55zM223.9,127.6h0.55v0.55h-0.55zM224.3,127.5h0.55v0.55h-0.55zM227.4,127.7h0.55v0.55h-0.55zM233.5,127.7h0.55v0.55h-0.55zM236.3,127.6h0.55v0.55h-0.55zM237.8,127.5h0.55v0.55h-0.55zM241.3,127.7h0.55v0.55h-0.55zM244.7,127.7h0.55v0.55h-0.55zM247.9,127.6h0.55v0.55h-0.55zM253.9,127.6h0.55v0.55h-0.55zM254.5,127.7h0.55v0.55h-0.55zM255.6,127.6h0.55v0.55h-0.55zM256.2,127.8h0.55v0.55h-0.55zM263.5,127.5h0.55v0.55h-0.55zM265.8,127.7h0.55v0.55h-0.55zM267.6,127.7h0.55v0.55h-0.55zM268.9,127.7h0.55v0.55h-0.55zM271.2,127.7h0.55v0.55h-0.55zM213.7,128.3h0.55v0.55h-0.55zM225.1,128.2h0.55v0.55h-0.55zM228.6,128.2h0.55v0.55h-0.55zM237.0,128.2h0.55v0.55h-0.55zM238.8,128.1h0.55v0.55h-0.55zM240.0,128.1h0.55v0.55h-0.55zM241.3,128.4h0.55v0.55h-0.55zM243.1,128.2h0.55v0.55h-0.55zM214.7,128.8h0.55v0.55h-0.55zM215.5,128.9h0.55v0.55h-0.55zM223.8,128.8h0.55v0.55h-0.55zM228.0,128.9h0.55v0.55h-0.55zM231.0,128.8h0.55v0.55h-0.55zM231.7,128.9h0.55v0.55h-0.55zM233.4,128.9h0.55v0.55h-0.55zM237.1,128.9h0.55v0.55h-0.55zM239.4,128.7h0.55v0.55h-0.55zM240.7,128.8h0.55v0.55h-0.55zM242.3,128.8h0.55v0.55h-0.55zM243.1,128.7h0.55v0.55h-0.55zM247.4,128.7h0.55v0.55h-0.55zM250.2,128.9h0.55v0.55h-0.55zM250.9,128.9h0.55v0.55h-0.55zM251.5,128.9h0.55v0.55h-0.55zM255.6,129.0h0.55v0.55h-0.55zM257.4,128.9h0.55v0.55h-0.55zM215.5,129.4h0.55v0.55h-0.55zM216.0,129.5h0.55v0.55h-0.55zM217.2,129.3h0.55v0.55h-0.55zM224.9,129.4h0.55v0.55h-0.55zM228.7,129.5h0.55v0.55h-0.55zM235.8,129.6h0.55v0.55h-0.55zM237.0,129.5h0.55v0.55h-0.55zM238.2,129.3h0.55v0.55h-0.55zM247.1,129.3h0.55v0.55h-0.55zM247.8,129.4h0.55v0.55h-0.55zM255.6,129.5h0.55v0.55h-0.55zM256.1,129.6h0.55v0.55h-0.55zM258.0,129.4h0.55v0.55h-0.55zM271.3,129.4h0.55v0.55h-0.55zM221.5,130.2h0.55v0.55h-0.55zM222.1,130.1h0.55v0.55h-0.55zM228.5,129.9h0.55v0.55h-0.55zM229.3,130.0h0.55v0.55h-0.55zM235.9,129.9h0.55v0.55h-0.55zM239.5,130.1h0.55v0.55h-0.55zM242.9,129.9h0.55v0.55h-0.55zM244.9,130.1h0.55v0.55h-0.55zM245.3,130.2h0.55v0.55h-0.55zM252.6,130.1h0.55v0.55h-0.55zM257.5,129.9h0.55v0.55h-0.55zM215.3,130.7h0.55v0.55h-0.55zM225.8,130.6h0.55v0.55h-0.55zM228.5,130.8h0.55v0.55h-0.55zM241.2,130.7h0.55v0.55h-0.55zM242.3,130.5h0.55v0.55h-0.55zM244.3,130.6h0.55v0.55h-0.55zM245.4,130.7h0.55v0.55h-0.55zM246.0,130.6h0.55v0.55h-0.55zM249.0,130.6h0.55v0.55h-0.55zM249.7,130.6h0.55v0.55h-0.55zM255.5,130.7h0.55v0.55h-0.55zM256.9,130.6h0.55v0.55h-0.55zM261.6,130.5h0.55v0.55h-0.55zM264.0,130.5h0.55v0.55h-0.55zM267.6,130.6h0.55v0.55h-0.55zM218.4,131.2h0.55v0.55h-0.55zM224.5,131.4h0.55v0.55h-0.55zM226.3,131.1h0.55v0.55h-0.55zM234.1,131.3h0.55v0.55h-0.55zM236.9,131.3h0.55v0.55h-0.55zM237.5,131.3h0.55v0.55h-0.55zM238.8,131.4h0.55v0.55h-0.55zM241.3,131.2h0.55v0.55h-0.55zM244.2,131.3h0.55v0.55h-0.55zM244.8,131.4h0.55v0.55h-0.55zM245.5,131.2h0.55v0.55h-0.55zM246.0,131.1h0.55v0.55h-0.55zM248.6,131.3h0.55v0.55h-0.55zM249.6,131.3h0.55v0.55h-0.55zM250.9,131.3h0.55v0.55h-0.55zM251.9,131.4h0.55v0.55h-0.55zM252.6,131.2h0.55v0.55h-0.55zM254.9,131.1h0.55v0.55h-0.55zM255.5,131.1h0.55v0.55h-0.55zM260.5,131.4h0.55v0.55h-0.55zM262.1,131.4h0.55v0.55h-0.55zM266.5,131.2h0.55v0.55h-0.55zM214.7,131.9h0.55v0.55h-0.55zM215.4,131.8h0.55v0.55h-0.55zM215.9,131.7h0.55v0.55h-0.55zM216.7,131.7h0.55v0.55h-0.55zM217.1,131.9h0.55v0.55h-0.55zM217.8,131.7h0.55v0.55h-0.55zM218.3,132.0h0.55v0.55h-0.55zM218.9,131.9h0.55v0.55h-0.55zM219.6,131.8h0.55v0.55h-0.55zM220.2,131.8h0.55v0.55h-0.55zM220.8,131.9h0.55v0.55h-0.55zM222.5,131.7h0.55v0.55h-0.55zM223.2,131.9h0.55v0.55h-0.55zM224.0,131.8h0.55v0.55h-0.55zM224.4,131.7h0.55v0.55h-0.55zM225.0,131.7h0.55v0.55h-0.55zM226.3,131.9h0.55v0.55h-0.55zM228.1,131.8h0.55v0.55h-0.55zM228.7,131.8h0.55v0.55h-0.55zM229.1,131.8h0.55v0.55h-0.55zM232.9,132.0h0.55v0.55h-0.55zM233.3,131.9h0.55v0.55h-0.55zM236.3,131.9h0.55v0.55h-0.55zM238.2,131.7h0.55v0.55h-0.55zM240.1,131.8h0.55v0.55h-0.55zM240.6,131.9h0.55v0.55h-0.55zM241.3,131.9h0.55v0.55h-0.55zM241.7,131.8h0.55v0.55h-0.55zM242.6,131.8h0.55v0.55h-0.55zM243.1,132.0h0.55v0.55h-0.55zM243.6,131.8h0.55v0.55h-0.55zM244.1,131.7h0.55v0.55h-0.55zM244.8,131.7h0.55v0.55h-0.55zM245.3,131.7h0.55v0.55h-0.55zM246.7,131.9h0.55v0.55h-0.55zM247.7,131.7h0.55v0.55h-0.55zM250.7,132.0h0.55v0.55h-0.55zM251.5,131.9h0.55v0.55h-0.55zM259.8,131.9h0.55v0.55h-0.55zM262.9,131.7h0.55v0.55h-0.55zM263.9,131.8h0.55v0.55h-0.55zM264.7,131.8h0.55v0.55h-0.55zM268.7,131.8h0.55v0.55h-0.55zM269.5,131.7h0.55v0.55h-0.55zM214.7,132.3h0.55v0.55h-0.55zM215.6,132.4h0.55v0.55h-0.55zM216.0,132.3h0.55v0.55h-0.55zM217.3,132.4h0.55v0.55h-0.55zM218.3,132.5h0.55v0.55h-0.55zM218.9,132.6h0.55v0.55h-0.55zM220.8,132.5h0.55v0.55h-0.55zM221.3,132.3h0.55v0.55h-0.55zM222.7,132.4h0.55v0.55h-0.55zM223.3,132.4h0.55v0.55h-0.55zM224.9,132.4h0.55v0.55h-0.55zM225.6,132.5h0.55v0.55h-0.55zM226.2,132.4h0.55v0.55h-0.55zM226.7,132.6h0.55v0.55h-0.55zM227.3,132.4h0.55v0.55h-0.55zM228.0,132.3h0.55v0.55h-0.55zM229.9,132.4h0.55v0.55h-0.55zM230.4,132.3h0.55v0.55h-0.55zM231.0,132.6h0.55v0.55h-0.55zM232.8,132.5h0.55v0.55h-0.55zM233.5,132.4h0.55v0.55h-0.55zM234.0,132.5h0.55v0.55h-0.55zM234.5,132.5h0.55v0.55h-0.55zM235.1,132.3h0.55v0.55h-0.55zM235.9,132.6h0.55v0.55h-0.55zM236.4,132.3h0.55v0.55h-0.55zM237.2,132.5h0.55v0.55h-0.55zM237.5,132.5h0.55v0.55h-0.55zM238.8,132.3h0.55v0.55h-0.55zM239.3,132.5h0.55v0.55h-0.55zM240.0,132.4h0.55v0.55h-0.55zM240.5,132.5h0.55v0.55h-0.55zM241.8,132.3h0.55v0.55h-0.55zM242.3,132.3h0.55v0.55h-0.55zM243.2,132.5h0.55v0.55h-0.55zM244.9,132.3h0.55v0.55h-0.55zM246.0,132.4h0.55v0.55h-0.55zM246.7,132.5h0.55v0.55h-0.55zM247.3,132.4h0.55v0.55h-0.55zM248.5,132.3h0.55v0.55h-0.55zM249.0,132.4h0.55v0.55h-0.55zM249.5,132.5h0.55v0.55h-0.55zM251.3,132.3h0.55v0.55h-0.55zM252.0,132.3h0.55v0.55h-0.55zM259.3,132.4h0.55v0.55h-0.55zM267.1,132.3h0.55v0.55h-0.55zM267.7,132.3h0.55v0.55h-0.55zM214.1,133.0h0.55v0.55h-0.55zM215.5,133.0h0.55v0.55h-0.55zM217.8,133.1h0.55v0.55h-0.55zM219.1,133.1h0.55v0.55h-0.55zM219.7,133.0h0.55v0.55h-0.55zM220.3,133.0h0.55v0.55h-0.55zM222.5,133.1h0.55v0.55h-0.55zM223.3,133.1h0.55v0.55h-0.55zM224.5,133.2h0.55v0.55h-0.55zM225.0,133.0h0.55v0.55h-0.55zM226.2,132.9h0.55v0.55h-0.55zM227.5,132.9h0.55v0.55h-0.55zM228.1,133.0h0.55v0.55h-0.55zM230.0,133.2h0.55v0.55h-0.55zM230.4,133.0h0.55v0.55h-0.55zM230.9,133.1h0.55v0.55h-0.55zM231.7,133.1h0.55v0.55h-0.55zM232.3,133.1h0.55v0.55h-0.55zM232.9,133.1h0.55v0.55h-0.55zM233.9,133.1h0.55v0.55h-0.55zM234.5,132.9h0.55v0.55h-0.55zM235.3,133.0h0.55v0.55h-0.55zM235.8,133.2h0.55v0.55h-0.55zM236.5,132.9h0.55v0.55h-0.55zM237.7,132.9h0.55v0.55h-0.55zM238.3,132.9h0.55v0.55h-0.55zM238.8,132.9h0.55v0.55h-0.55zM239.4,133.2h0.55v0.55h-0.55zM239.9,133.0h0.55v0.55h-0.55zM241.8,132.9h0.55v0.55h-0.55zM242.9,133.1h0.55v0.55h-0.55zM243.5,133.1h0.55v0.55h-0.55zM244.2,133.1h0.55v0.55h-0.55zM244.8,132.9h0.55v0.55h-0.55zM246.1,133.2h0.55v0.55h-0.55zM246.7,132.9h0.55v0.55h-0.55zM247.2,133.0h0.55v0.55h-0.55zM248.3,132.9h0.55v0.55h-0.55zM249.6,132.9h0.55v0.55h-0.55zM250.1,133.2h0.55v0.55h-0.55zM250.8,132.9h0.55v0.55h-0.55zM251.3,133.0h0.55v0.55h-0.55zM252.0,133.1h0.55v0.55h-0.55zM253.9,133.0h0.55v0.55h-0.55zM259.1,133.0h0.55v0.55h-0.55zM262.7,133.0h0.55v0.55h-0.55zM267.1,133.0h0.55v0.55h-0.55zM273.1,133.1h0.55v0.55h-0.55zM214.4,133.5h0.55v0.55h-0.55zM215.3,133.7h0.55v0.55h-0.55zM216.1,133.7h0.55v0.55h-0.55zM217.1,133.5h0.55v0.55h-0.55zM217.9,133.7h0.55v0.55h-0.55zM218.5,133.7h0.55v0.55h-0.55zM218.9,133.6h0.55v0.55h-0.55zM220.8,133.7h0.55v0.55h-0.55zM221.4,133.6h0.55v0.55h-0.55zM222.6,133.6h0.55v0.55h-0.55zM223.3,133.7h0.55v0.55h-0.55zM223.7,133.5h0.55v0.55h-0.55zM225.0,133.7h0.55v0.55h-0.55zM225.6,133.6h0.55v0.55h-0.55zM226.1,133.5h0.55v0.55h-0.55zM227.5,133.5h0.55v0.55h-0.55zM227.9,133.7h0.55v0.55h-0.55zM228.6,133.6h0.55v0.55h-0.55zM229.2,133.6h0.55v0.55h-0.55zM230.4,133.6h0.55v0.55h-0.55zM231.1,133.6h0.55v0.55h-0.55zM231.6,133.7h0.55v0.55h-0.55zM232.8,133.6h0.55v0.55h-0.55zM233.3,133.6h0.55v0.55h-0.55zM234.7,133.6h0.55v0.55h-0.55zM235.2,133.5h0.55v0.55h-0.55zM235.7,133.6h0.55v0.55h-0.55zM236.9,133.6h0.55v0.55h-0.55zM238.4,133.7h0.55v0.55h-0.55zM238.8,133.7h0.55v0.55h-0.55zM239.4,133.8h0.55v0.55h-0.55zM239.9,133.5h0.55v0.55h-0.55zM240.7,133.7h0.55v0.55h-0.55zM241.2,133.7h0.55v0.55h-0.55zM242.0,133.6h0.55v0.55h-0.55zM242.3,133.6h0.55v0.55h-0.55zM243.1,133.7h0.55v0.55h-0.55zM243.7,133.6h0.55v0.55h-0.55zM244.2,133.8h0.55v0.55h-0.55zM244.9,133.5h0.55v0.55h-0.55zM245.5,133.5h0.55v0.55h-0.55zM245.9,133.7h0.55v0.55h-0.55zM247.2,133.7h0.55v0.55h-0.55zM247.8,133.7h0.55v0.55h-0.55zM248.5,133.8h0.55v0.55h-0.55zM249.1,133.7h0.55v0.55h-0.55zM250.3,133.8h0.55v0.55h-0.55zM250.7,133.8h0.55v0.55h-0.55zM251.4,133.6h0.55v0.55h-0.55zM265.1,133.7h0.55v0.55h-0.55zM272.9,133.7h0.55v0.55h-0.55zM213.6,134.2h0.55v0.55h-0.55zM215.0,134.3h0.55v0.55h-0.55zM215.3,134.3h0.55v0.55h-0.55zM216.1,134.1h0.55v0.55h-0.55zM216.6,134.3h0.55v0.55h-0.55zM217.2,134.1h0.55v0.55h-0.55zM217.8,134.1h0.55v0.55h-0.55zM218.4,134.1h0.55v0.55h-0.55zM219.0,134.1h0.55v0.55h-0.55zM219.7,134.1h0.55v0.55h-0.55zM220.9,134.3h0.55v0.55h-0.55zM221.3,134.4h0.55v0.55h-0.55zM222.1,134.2h0.55v0.55h-0.55zM222.5,134.1h0.55v0.55h-0.55zM225.1,134.2h0.55v0.55h-0.55zM226.1,134.1h0.55v0.55h-0.55zM226.7,134.1h0.55v0.55h-0.55zM229.3,134.3h0.55v0.55h-0.55zM229.7,134.3h0.55v0.55h-0.55zM230.4,134.3h0.55v0.55h-0.55zM230.9,134.3h0.55v0.55h-0.55zM231.6,134.4h0.55v0.55h-0.55zM232.3,134.3h0.55v0.55h-0.55zM233.5,134.2h0.55v0.55h-0.55zM234.0,134.3h0.55v0.55h-0.55zM234.7,134.3h0.55v0.55h-0.55zM235.7,134.3h0.55v0.55h-0.55zM236.3,134.2h0.55v0.55h-0.55zM237.1,134.3h0.55v0.55h-0.55zM237.5,134.2h0.55v0.55h-0.55zM238.3,134.2h0.55v0.55h-0.55zM238.8,134.1h0.55v0.55h-0.55zM239.6,134.1h0.55v0.55h-0.55zM240.6,134.2h0.55v0.55h-0.55zM241.3,134.3h0.55v0.55h-0.55zM242.4,134.3h0.55v0.55h-0.55zM242.9,134.2h0.55v0.55h-0.55zM243.5,134.3h0.55v0.55h-0.55zM244.3,134.1h0.55v0.55h-0.55zM245.4,134.2h0.55v0.55h-0.55zM246.2,134.3h0.55v0.55h-0.55zM246.5,134.3h0.55v0.55h-0.55zM247.1,134.2h0.55v0.55h-0.55zM247.8,134.3h0.55v0.55h-0.55zM248.3,134.1h0.55v0.55h-0.55zM249.1,134.1h0.55v0.55h-0.55zM249.6,134.4h0.55v0.55h-0.55zM250.1,134.3h0.55v0.55h-0.55zM255.7,134.2h0.55v0.55h-0.55zM259.1,134.2h0.55v0.55h-0.55zM262.8,134.1h0.55v0.55h-0.55zM266.5,134.4h0.55v0.55h-0.55zM214.7,134.8h0.55v0.55h-0.55zM215.4,134.8h0.55v0.55h-0.55zM216.1,134.9h0.55v0.55h-0.55zM216.5,134.7h0.55v0.55h-0.55zM217.2,134.8h0.55v0.55h-0.55zM217.8,134.9h0.55v0.55h-0.55zM219.0,134.7h0.55v0.55h-0.55zM219.5,134.8h0.55v0.55h-0.55zM220.2,134.8h0.55v0.55h-0.55zM221.5,134.8h0.55v0.55h-0.55zM222.0,134.9h0.55v0.55h-0.55zM222.7,134.7h0.55v0.55h-0.55zM223.3,134.9h0.55v0.55h-0.55zM223.8,134.7h0.55v0.55h-0.55zM225.6,134.7h0.55v0.55h-0.55zM226.2,134.8h0.55v0.55h-0.55zM226.8,134.9h0.55v0.55h-0.55zM227.4,134.8h0.55v0.55h-0.55zM228.0,134.9h0.55v0.55h-0.55zM229.8,134.7h0.55v0.55h-0.55zM230.4,134.9h0.55v0.55h-0.55zM230.9,134.9h0.55v0.55h-0.55zM231.5,134.7h0.55v0.55h-0.55zM232.1,134.7h0.55v0.55h-0.55zM232.7,134.9h0.55v0.55h-0.55zM233.4,134.8h0.55v0.55h-0.55zM234.0,134.7h0.55v0.55h-0.55zM234.5,134.7h0.55v0.55h-0.55zM235.9,134.9h0.55v0.55h-0.55zM236.9,134.9h0.55v0.55h-0.55zM237.6,134.9h0.55v0.55h-0.55zM238.2,134.7h0.55v0.55h-0.55zM239.4,134.8h0.55v0.55h-0.55zM240.0,135.0h0.55v0.55h-0.55zM240.6,134.9h0.55v0.55h-0.55zM241.9,134.8h0.55v0.55h-0.55zM242.5,134.8h0.55v0.55h-0.55zM243.6,134.9h0.55v0.55h-0.55zM244.3,134.9h0.55v0.55h-0.55zM245.5,134.8h0.55v0.55h-0.55zM246.0,134.7h0.55v0.55h-0.55zM246.5,134.9h0.55v0.55h-0.55zM247.2,134.8h0.55v0.55h-0.55zM247.9,134.8h0.55v0.55h-0.55zM249.7,134.9h0.55v0.55h-0.55zM252.1,134.9h0.55v0.55h-0.55zM252.7,134.7h0.55v0.55h-0.55zM256.7,134.8h0.55v0.55h-0.55zM263.5,135.0h0.55v0.55h-0.55zM265.9,134.9h0.55v0.55h-0.55zM266.4,134.9h0.55v0.55h-0.55zM271.2,134.8h0.55v0.55h-0.55zM215.5,135.5h0.55v0.55h-0.55zM216.7,135.3h0.55v0.55h-0.55zM217.2,135.3h0.55v0.55h-0.55zM218.9,135.4h0.55v0.55h-0.55zM219.7,135.5h0.55v0.55h-0.55zM220.3,135.4h0.55v0.55h-0.55zM220.9,135.5h0.55v0.55h-0.55zM221.4,135.5h0.55v0.55h-0.55zM222.0,135.4h0.55v0.55h-0.55zM223.8,135.4h0.55v0.55h-0.55zM224.4,135.5h0.55v0.55h-0.55zM224.9,135.4h0.55v0.55h-0.55zM225.6,135.3h0.55v0.55h-0.55zM226.4,135.5h0.55v0.55h-0.55zM228.1,135.5h0.55v0.55h-0.55zM228.7,135.6h0.55v0.55h-0.55zM229.4,135.6h0.55v0.55h-0.55zM231.2,135.5h0.55v0.55h-0.55zM231.7,135.4h0.55v0.55h-0.55zM233.4,135.3h0.55v0.55h-0.55zM234.2,135.5h0.55v0.55h-0.55zM234.8,135.6h0.55v0.55h-0.55zM235.1,135.3h0.55v0.55h-0.55zM236.4,135.5h0.55v0.55h-0.55zM237.2,135.3h0.55v0.55h-0.55zM238.3,135.5h0.55v0.55h-0.55zM238.8,135.4h0.55v0.55h-0.55zM239.3,135.5h0.55v0.55h-0.55zM240.1,135.5h0.55v0.55h-0.55zM240.6,135.4h0.55v0.55h-0.55zM241.2,135.5h0.55v0.55h-0.55zM242.6,135.4h0.55v0.55h-0.55zM243.5,135.4h0.55v0.55h-0.55zM244.2,135.5h0.55v0.55h-0.55zM244.9,135.5h0.55v0.55h-0.55zM245.4,135.4h0.55v0.55h-0.55zM246.0,135.4h0.55v0.55h-0.55zM247.7,135.4h0.55v0.55h-0.55zM248.4,135.5h0.55v0.55h-0.55zM249.8,135.5h0.55v0.55h-0.55zM250.3,135.4h0.55v0.55h-0.55zM250.8,135.5h0.55v0.55h-0.55zM253.1,135.4h0.55v0.55h-0.55zM255.1,135.3h0.55v0.55h-0.55zM255.5,135.4h0.55v0.55h-0.55zM257.9,135.3h0.55v0.55h-0.55zM259.3,135.5h0.55v0.55h-0.55zM261.1,135.4h0.55v0.55h-0.55zM267.5,135.4h0.55v0.55h-0.55zM268.2,135.4h0.55v0.55h-0.55zM215.0,136.0h0.55v0.55h-0.55zM215.4,136.0h0.55v0.55h-0.55zM216.1,136.1h0.55v0.55h-0.55zM217.9,135.9h0.55v0.55h-0.55zM219.6,135.9h0.55v0.55h-0.55zM220.3,135.9h0.55v0.55h-0.55zM220.8,136.0h0.55v0.55h-0.55zM221.5,136.1h0.55v0.55h-0.55zM222.5,136.1h0.55v0.55h-0.55zM223.3,136.2h0.55v0.55h-0.55zM223.8,136.0h0.55v0.55h-0.55zM224.5,136.1h0.55v0.55h-0.55zM225.6,136.1h0.55v0.55h-0.55zM226.2,136.0h0.55v0.55h-0.55zM227.3,136.1h0.55v0.55h-0.55zM227.9,136.0h0.55v0.55h-0.55zM229.2,136.1h0.55v0.55h-0.55zM230.4,135.9h0.55v0.55h-0.55zM231.0,136.1h0.55v0.55h-0.55zM231.7,136.0h0.55v0.55h-0.55zM232.1,136.1h0.55v0.55h-0.55zM232.8,135.9h0.55v0.55h-0.55zM233.5,136.1h0.55v0.55h-0.55zM234.0,136.1h0.55v0.55h-0.55zM236.3,136.0h0.55v0.55h-0.55zM237.6,136.0h0.55v0.55h-0.55zM238.3,136.0h0.55v0.55h-0.55zM238.8,136.0h0.55v0.55h-0.55zM239.5,136.1h0.55v0.55h-0.55zM240.0,135.9h0.55v0.55h-0.55zM240.6,136.0h0.55v0.55h-0.55zM241.1,136.0h0.55v0.55h-0.55zM241.8,135.9h0.55v0.55h-0.55zM242.5,136.1h0.55v0.55h-0.55zM243.1,136.1h0.55v0.55h-0.55zM243.5,136.0h0.55v0.55h-0.55zM244.7,136.0h0.55v0.55h-0.55zM245.6,136.0h0.55v0.55h-0.55zM246.2,136.0h0.55v0.55h-0.55zM246.7,136.0h0.55v0.55h-0.55zM247.3,136.1h0.55v0.55h-0.55zM248.6,136.1h0.55v0.55h-0.55zM249.0,136.2h0.55v0.55h-0.55zM249.5,136.0h0.55v0.55h-0.55zM258.1,136.1h0.55v0.55h-0.55zM262.2,136.1h0.55v0.55h-0.55zM263.5,136.1h0.55v0.55h-0.55zM264.0,135.9h0.55v0.55h-0.55zM269.9,136.1h0.55v0.55h-0.55zM215.4,136.6h0.55v0.55h-0.55zM216.0,136.7h0.55v0.55h-0.55zM217.2,136.6h0.55v0.55h-0.55zM217.8,136.6h0.55v0.55h-0.55zM219.0,136.7h0.55v0.55h-0.55zM219.7,136.5h0.55v0.55h-0.55zM220.2,136.7h0.55v0.55h-0.55zM221.0,136.7h0.55v0.55h-0.55zM221.5,136.5h0.55v0.55h-0.55zM222.1,136.5h0.55v0.55h-0.55zM222.7,136.7h0.55v0.55h-0.55zM223.1,136.5h0.55v0.55h-0.55zM224.3,136.5h0.55v0.55h-0.55zM225.0,136.7h0.55v0.55h-0.55zM226.1,136.8h0.55v0.55h-0.55zM226.8,136.6h0.55v0.55h-0.55zM228.0,136.5h0.55v0.55h-0.55zM228.6,136.6h0.55v0.55h-0.55zM229.3,136.7h0.55v0.55h-0.55zM229.7,136.7h0.55v0.55h-0.55zM231.1,136.5h0.55v0.55h-0.55zM232.3,136.8h0.55v0.55h-0.55zM233.4,136.6h0.55v0.55h-0.55zM234.1,136.6h0.55v0.55h-0.55zM234.5,136.6h0.55v0.55h-0.55zM235.3,136.5h0.55v0.55h-0.55zM235.8,136.5h0.55v0.55h-0.55zM238.3,136.7h0.55v0.55h-0.55zM239.4,136.5h0.55v0.55h-0.55zM240.1,136.7h0.55v0.55h-0.55zM240.8,136.5h0.55v0.55h-0.55zM241.1,136.5h0.55v0.55h-0.55zM241.9,136.7h0.55v0.55h-0.55zM243.1,136.5h0.55v0.55h-0.55zM243.6,136.6h0.55v0.55h-0.55zM244.1,136.8h0.55v0.55h-0.55zM245.4,136.5h0.55v0.55h-0.55zM246.0,136.5h0.55v0.55h-0.55zM246.5,136.8h0.55v0.55h-0.55zM248.0,136.7h0.55v0.55h-0.55zM249.7,136.5h0.55v0.55h-0.55zM253.7,136.5h0.55v0.55h-0.55zM254.5,136.6h0.55v0.55h-0.55zM255.6,136.7h0.55v0.55h-0.55zM257.5,136.5h0.55v0.55h-0.55zM262.1,136.7h0.55v0.55h-0.55zM268.4,136.6h0.55v0.55h-0.55zM268.8,136.5h0.55v0.55h-0.55zM270.0,136.7h0.55v0.55h-0.55zM273.1,136.5h0.55v0.55h-0.55zM215.6,137.3h0.55v0.55h-0.55zM216.5,137.1h0.55v0.55h-0.55zM217.3,137.2h0.55v0.55h-0.55zM218.5,137.3h0.55v0.55h-0.55zM219.1,137.3h0.55v0.55h-0.55zM220.3,137.3h0.55v0.55h-0.55zM220.7,137.1h0.55v0.55h-0.55zM221.6,137.3h0.55v0.55h-0.55zM222.1,137.2h0.55v0.55h-0.55zM222.6,137.2h0.55v0.55h-0.55zM223.3,137.4h0.55v0.55h-0.55zM223.7,137.4h0.55v0.55h-0.55zM224.3,137.4h0.55v0.55h-0.55zM225.0,137.3h0.55v0.55h-0.55zM225.5,137.2h0.55v0.55h-0.55zM226.3,137.2h0.55v0.55h-0.55zM227.0,137.2h0.55v0.55h-0.55zM227.3,137.1h0.55v0.55h-0.55zM228.0,137.2h0.55v0.55h-0.55zM228.6,137.1h0.55v0.55h-0.55zM229.3,137.3h0.55v0.55h-0.55zM230.4,137.3h0.55v0.55h-0.55zM230.9,137.3h0.55v0.55h-0.55zM231.6,137.3h0.55v0.55h-0.55zM232.9,137.3h0.55v0.55h-0.55zM233.4,137.2h0.55v0.55h-0.55zM234.6,137.3h0.55v0.55h-0.55zM235.2,137.2h0.55v0.55h-0.55zM235.7,137.1h0.55v0.55h-0.55zM236.3,137.2h0.55v0.55h-0.55zM236.9,137.1h0.55v0.55h-0.55zM238.2,137.3h0.55v0.55h-0.55zM238.8,137.1h0.55v0.55h-0.55zM239.4,137.1h0.55v0.55h-0.55zM240.6,137.3h0.55v0.55h-0.55zM241.3,137.1h0.55v0.55h-0.55zM242.0,137.1h0.55v0.55h-0.55zM242.9,137.3h0.55v0.55h-0.55zM243.5,137.4h0.55v0.55h-0.55zM244.9,137.3h0.55v0.55h-0.55zM247.4,137.1h0.55v0.55h-0.55zM247.8,137.3h0.55v0.55h-0.55zM248.9,137.2h0.55v0.55h-0.55zM249.8,137.2h0.55v0.55h-0.55zM252.6,137.1h0.55v0.55h-0.55zM254.3,137.3h0.55v0.55h-0.55zM254.9,137.2h0.55v0.55h-0.55zM256.9,137.2h0.55v0.55h-0.55zM264.0,137.2h0.55v0.55h-0.55zM214.2,137.9h0.55v0.55h-0.55zM214.7,137.9h0.55v0.55h-0.55zM216.1,137.7h0.55v0.55h-0.55zM216.5,137.8h0.55v0.55h-0.55zM217.3,138.0h0.55v0.55h-0.55zM217.9,137.9h0.55v0.55h-0.55zM218.5,137.8h0.55v0.55h-0.55zM219.6,137.8h0.55v0.55h-0.55zM220.1,137.8h0.55v0.55h-0.55zM220.8,137.8h0.55v0.55h-0.55zM221.6,137.8h0.55v0.55h-0.55zM222.0,137.8h0.55v0.55h-0.55zM223.2,137.8h0.55v0.55h-0.55zM223.7,137.9h0.55v0.55h-0.55zM224.4,137.8h0.55v0.55h-0.55zM225.7,137.8h0.55v0.55h-0.55zM226.3,137.9h0.55v0.55h-0.55zM226.9,137.9h0.55v0.55h-0.55zM227.4,137.9h0.55v0.55h-0.55zM228.0,137.7h0.55v0.55h-0.55zM228.5,137.8h0.55v0.55h-0.55zM229.7,137.9h0.55v0.55h-0.55zM230.6,137.8h0.55v0.55h-0.55zM231.0,137.8h0.55v0.55h-0.55zM231.6,137.9h0.55v0.55h-0.55zM232.1,137.9h0.55v0.55h-0.55zM233.0,137.7h0.55v0.55h-0.55zM233.6,137.8h0.55v0.55h-0.55zM234.1,138.0h0.55v0.55h-0.55zM234.7,137.8h0.55v0.55h-0.55zM235.8,137.9h0.55v0.55h-0.55zM236.5,137.7h0.55v0.55h-0.55zM237.0,137.9h0.55v0.55h-0.55zM237.6,137.9h0.55v0.55h-0.55zM238.3,137.8h0.55v0.55h-0.55zM238.8,138.0h0.55v0.55h-0.55zM239.4,138.0h0.55v0.55h-0.55zM240.1,137.7h0.55v0.55h-0.55zM241.9,137.8h0.55v0.55h-0.55zM246.0,137.8h0.55v0.55h-0.55zM247.1,137.7h0.55v0.55h-0.55zM247.7,138.0h0.55v0.55h-0.55zM248.5,137.7h0.55v0.55h-0.55zM249.0,137.7h0.55v0.55h-0.55zM250.1,137.7h0.55v0.55h-0.55zM252.6,137.8h0.55v0.55h-0.55zM253.3,137.9h0.55v0.55h-0.55zM257.5,137.9h0.55v0.55h-0.55zM259.3,137.9h0.55v0.55h-0.55zM261.1,137.7h0.55v0.55h-0.55zM261.7,138.0h0.55v0.55h-0.55zM262.9,137.8h0.55v0.55h-0.55zM267.7,137.8h0.55v0.55h-0.55zM274.8,137.7h0.55v0.55h-0.55zM214.8,138.6h0.55v0.55h-0.55zM216.1,138.5h0.55v0.55h-0.55zM217.4,138.4h0.55v0.55h-0.55zM217.7,138.3h0.55v0.55h-0.55zM218.3,138.4h0.55v0.55h-0.55zM219.0,138.5h0.55v0.55h-0.55zM219.7,138.5h0.55v0.55h-0.55zM220.3,138.5h0.55v0.55h-0.55zM221.4,138.4h0.55v0.55h-0.55zM223.3,138.4h0.55v0.55h-0.55zM223.7,138.5h0.55v0.55h-0.55zM224.3,138.4h0.55v0.55h-0.55zM225.2,138.4h0.55v0.55h-0.55zM226.1,138.5h0.55v0.55h-0.55zM227.0,138.5h0.55v0.55h-0.55zM227.6,138.3h0.55v0.55h-0.55zM228.1,138.5h0.55v0.55h-0.55zM228.7,138.5h0.55v0.55h-0.55zM229.3,138.6h0.55v0.55h-0.55zM232.7,138.5h0.55v0.55h-0.55zM233.3,138.4h0.55v0.55h-0.55zM233.9,138.4h0.55v0.55h-0.55zM234.7,138.5h0.55v0.55h-0.55zM235.7,138.5h0.55v0.55h-0.55zM238.3,138.3h0.55v0.55h-0.55zM238.9,138.4h0.55v0.55h-0.55zM239.3,138.5h0.55v0.55h-0.55zM241.3,138.4h0.55v0.55h-0.55zM241.8,138.5h0.55v0.55h-0.55zM246.6,138.4h0.55v0.55h-0.55zM247.2,138.5h0.55v0.55h-0.55zM247.7,138.4h0.55v0.55h-0.55zM248.9,138.3h0.55v0.55h-0.55zM250.2,138.3h0.55v0.55h-0.55zM252.1,138.5h0.55v0.55h-0.55zM253.1,138.3h0.55v0.55h-0.55zM253.9,138.3h0.55v0.55h-0.55zM258.7,138.4h0.55v0.55h-0.55zM259.3,138.5h0.55v0.55h-0.55zM262.9,138.6h0.55v0.55h-0.55zM263.5,138.4h0.55v0.55h-0.55zM264.1,138.4h0.55v0.55h-0.55zM266.9,138.4h0.55v0.55h-0.55zM268.2,138.4h0.55v0.55h-0.55zM214.2,139.1h0.55v0.55h-0.55zM214.7,139.1h0.55v0.55h-0.55zM215.9,139.0h0.55v0.55h-0.55zM216.6,139.0h0.55v0.55h-0.55zM217.3,139.1h0.55v0.55h-0.55zM217.8,139.1h0.55v0.55h-0.55zM218.3,138.9h0.55v0.55h-0.55zM219.0,138.9h0.55v0.55h-0.55zM220.3,139.0h0.55v0.55h-0.55zM220.8,138.9h0.55v0.55h-0.55zM221.6,139.1h0.55v0.55h-0.55zM222.1,139.1h0.55v0.55h-0.55zM222.6,139.1h0.55v0.55h-0.55zM223.1,139.0h0.55v0.55h-0.55zM224.0,139.0h0.55v0.55h-0.55zM224.3,139.1h0.55v0.55h-0.55zM224.9,139.0h0.55v0.55h-0.55zM225.7,138.9h0.55v0.55h-0.55zM226.1,139.1h0.55v0.55h-0.55zM226.9,139.0h0.55v0.55h-0.55zM227.6,138.9h0.55v0.55h-0.55zM228.2,139.1h0.55v0.55h-0.55zM229.2,139.1h0.55v0.55h-0.55zM230.0,139.2h0.55v0.55h-0.55zM231.0,139.1h0.55v0.55h-0.55zM232.9,139.0h0.55v0.55h-0.55zM234.1,139.0h0.55v0.55h-0.55zM234.6,138.9h0.55v0.55h-0.55zM235.4,139.1h0.55v0.55h-0.55zM238.7,139.1h0.55v0.55h-0.55zM246.6,139.0h0.55v0.55h-0.55zM247.2,139.0h0.55v0.55h-0.55zM248.5,139.1h0.55v0.55h-0.55zM250.1,138.9h0.55v0.55h-0.55zM252.0,138.9h0.55v0.55h-0.55zM252.5,139.0h0.55v0.55h-0.55zM253.4,139.1h0.55v0.55h-0.55zM255.7,138.9h0.55v0.55h-0.55zM257.4,139.0h0.55v0.55h-0.55zM258.0,139.2h0.55v0.55h-0.55zM258.6,139.0h0.55v0.55h-0.55zM259.3,139.1h0.55v0.55h-0.55zM261.2,139.1h0.55v0.55h-0.55zM262.7,139.1h0.55v0.55h-0.55zM263.4,139.1h0.55v0.55h-0.55zM264.1,138.9h0.55v0.55h-0.55zM265.7,139.1h0.55v0.55h-0.55zM268.9,138.9h0.55v0.55h-0.55zM272.5,139.1h0.55v0.55h-0.55zM214.8,139.6h0.55v0.55h-0.55zM215.5,139.7h0.55v0.55h-0.55zM216.0,139.7h0.55v0.55h-0.55zM216.7,139.7h0.55v0.55h-0.55zM217.4,139.7h0.55v0.55h-0.55zM218.0,139.8h0.55v0.55h-0.55zM219.0,139.5h0.55v0.55h-0.55zM220.1,139.5h0.55v0.55h-0.55zM220.8,139.5h0.55v0.55h-0.55zM222.2,139.5h0.55v0.55h-0.55zM223.9,139.7h0.55v0.55h-0.55zM225.5,139.6h0.55v0.55h-0.55zM226.1,139.6h0.55v0.55h-0.55zM226.8,139.5h0.55v0.55h-0.55zM227.4,139.6h0.55v0.55h-0.55zM228.1,139.6h0.55v0.55h-0.55zM229.3,139.7h0.55v0.55h-0.55zM229.7,139.7h0.55v0.55h-0.55zM230.3,139.5h0.55v0.55h-0.55zM231.6,139.7h0.55v0.55h-0.55zM234.0,139.6h0.55v0.55h-0.55zM236.3,139.6h0.55v0.55h-0.55zM247.9,139.8h0.55v0.55h-0.55zM248.9,139.7h0.55v0.55h-0.55zM250.1,139.6h0.55v0.55h-0.55zM250.9,139.6h0.55v0.55h-0.55zM254.4,139.7h0.55v0.55h-0.55zM256.3,139.8h0.55v0.55h-0.55zM258.0,139.7h0.55v0.55h-0.55zM258.7,139.5h0.55v0.55h-0.55zM259.9,139.6h0.55v0.55h-0.55zM261.1,139.5h0.55v0.55h-0.55zM261.5,139.6h0.55v0.55h-0.55zM262.1,139.7h0.55v0.55h-0.55zM262.9,139.7h0.55v0.55h-0.55zM264.0,139.7h0.55v0.55h-0.55zM265.9,139.7h0.55v0.55h-0.55zM266.5,139.7h0.55v0.55h-0.55zM268.2,139.5h0.55v0.55h-0.55zM272.4,139.7h0.55v0.55h-0.55zM215.6,140.3h0.55v0.55h-0.55zM216.0,140.2h0.55v0.55h-0.55zM218.0,140.4h0.55v0.55h-0.55zM218.3,140.2h0.55v0.55h-0.55zM219.1,140.3h0.55v0.55h-0.55zM219.6,140.2h0.55v0.55h-0.55zM220.3,140.2h0.55v0.55h-0.55zM220.9,140.2h0.55v0.55h-0.55zM221.3,140.1h0.55v0.55h-0.55zM222.0,140.2h0.55v0.55h-0.55zM222.6,140.3h0.55v0.55h-0.55zM224.5,140.2h0.55v0.55h-0.55zM225.1,140.3h0.55v0.55h-0.55zM225.5,140.1h0.55v0.55h-0.55zM226.7,140.3h0.55v0.55h-0.55zM227.4,140.1h0.55v0.55h-0.55zM228.1,140.3h0.55v0.55h-0.55zM228.5,140.2h0.55v0.55h-0.55zM229.2,140.1h0.55v0.55h-0.55zM230.4,140.3h0.55v0.55h-0.55zM231.5,140.3h0.55v0.55h-0.55zM235.2,140.2h0.55v0.55h-0.55zM245.9,140.4h0.55v0.55h-0.55zM246.6,140.2h0.55v0.55h-0.55zM247.3,140.3h0.55v0.55h-0.55zM248.3,140.2h0.55v0.55h-0.55zM249.0,140.3h0.55v0.55h-0.55zM250.1,140.4h0.55v0.55h-0.55zM252.0,140.2h0.55v0.55h-0.55zM253.8,140.1h0.55v0.55h-0.55zM256.2,140.3h0.55v0.55h-0.55zM256.8,140.1h0.55v0.55h-0.55zM257.3,140.3h0.55v0.55h-0.55zM258.7,140.3h0.55v0.55h-0.55zM261.1,140.2h0.55v0.55h-0.55zM261.8,140.2h0.55v0.55h-0.55zM264.7,140.3h0.55v0.55h-0.55zM265.3,140.1h0.55v0.55h-0.55zM268.2,140.3h0.55v0.55h-0.55zM268.9,140.1h0.55v0.55h-0.55zM269.3,140.1h0.55v0.55h-0.55zM274.7,140.4h0.55v0.55h-0.55zM214.9,140.7h0.55v0.55h-0.55zM216.1,140.9h0.55v0.55h-0.55zM217.3,140.8h0.55v0.55h-0.55zM219.1,140.7h0.55v0.55h-0.55zM220.8,140.9h0.55v0.55h-0.55zM221.5,141.0h0.55v0.55h-0.55zM225.7,140.7h0.55v0.55h-0.55zM231.7,140.7h0.55v0.55h-0.55zM245.4,140.8h0.55v0.55h-0.55zM246.2,140.9h0.55v0.55h-0.55zM246.5,140.8h0.55v0.55h-0.55zM248.4,140.9h0.55v0.55h-0.55zM249.1,140.7h0.55v0.55h-0.55zM252.0,140.8h0.55v0.55h-0.55zM252.5,140.7h0.55v0.55h-0.55zM254.5,140.8h0.55v0.55h-0.55zM256.4,140.7h0.55v0.55h-0.55zM256.7,140.9h0.55v0.55h-0.55zM259.3,140.9h0.55v0.55h-0.55zM262.2,140.8h0.55v0.55h-0.55zM262.9,140.7h0.55v0.55h-0.55zM264.8,140.7h0.55v0.55h-0.55zM265.9,140.8h0.55v0.55h-0.55zM267.5,140.8h0.55v0.55h-0.55zM272.9,140.9h0.55v0.55h-0.55zM214.2,141.5h0.55v0.55h-0.55zM215.4,141.6h0.55v0.55h-0.55zM216.0,141.3h0.55v0.55h-0.55zM216.5,141.5h0.55v0.55h-0.55zM220.1,141.5h0.55v0.55h-0.55zM222.1,141.6h0.55v0.55h-0.55zM222.6,141.4h0.55v0.55h-0.55zM226.1,141.6h0.55v0.55h-0.55zM247.9,141.4h0.55v0.55h-0.55zM249.5,141.6h0.55v0.55h-0.55zM250.9,141.3h0.55v0.55h-0.55zM251.3,141.4h0.55v0.55h-0.55zM253.3,141.3h0.55v0.55h-0.55zM255.6,141.3h0.55v0.55h-0.55zM259.3,141.3h0.55v0.55h-0.55zM260.4,141.3h0.55v0.55h-0.55zM262.4,141.3h0.55v0.55h-0.55zM263.5,141.4h0.55v0.55h-0.55zM264.0,141.5h0.55v0.55h-0.55zM265.1,141.3h0.55v0.55h-0.55zM267.2,141.4h0.55v0.55h-0.55zM267.7,141.3h0.55v0.55h-0.55zM268.2,141.5h0.55v0.55h-0.55zM269.0,141.3h0.55v0.55h-0.55zM270.0,141.5h0.55v0.55h-0.55zM270.7,141.4h0.55v0.55h-0.55zM216.1,141.9h0.55v0.55h-0.55zM219.2,142.0h0.55v0.55h-0.55zM246.7,141.9h0.55v0.55h-0.55zM247.1,142.2h0.55v0.55h-0.55zM248.0,141.9h0.55v0.55h-0.55zM249.6,142.0h0.55v0.55h-0.55zM250.9,142.1h0.55v0.55h-0.55zM252.1,141.9h0.55v0.55h-0.55zM252.5,142.1h0.55v0.55h-0.55zM254.0,142.1h0.55v0.55h-0.55zM256.1,142.0h0.55v0.55h-0.55zM256.8,142.0h0.55v0.55h-0.55zM257.5,142.1h0.55v0.55h-0.55zM259.8,142.0h0.55v0.55h-0.55zM261.0,141.9h0.55v0.55h-0.55zM261.7,142.0h0.55v0.55h-0.55zM265.8,142.1h0.55v0.55h-0.55zM268.2,142.1h0.55v0.55h-0.55zM268.9,142.0h0.55v0.55h-0.55zM269.3,142.1h0.55v0.55h-0.55zM270.1,142.1h0.55v0.55h-0.55zM273.7,142.0h0.55v0.55h-0.55zM223.3,142.7h0.55v0.55h-0.55zM241.1,142.7h0.55v0.55h-0.55zM246.2,142.7h0.55v0.55h-0.55zM246.5,142.6h0.55v0.55h-0.55zM252.0,142.7h0.55v0.55h-0.55zM252.6,142.6h0.55v0.55h-0.55zM254.3,142.6h0.55v0.55h-0.55zM255.7,142.6h0.55v0.55h-0.55zM256.2,142.7h0.55v0.55h-0.55zM256.7,142.7h0.55v0.55h-0.55zM257.5,142.6h0.55v0.55h-0.55zM258.8,142.8h0.55v0.55h-0.55zM260.4,142.7h0.55v0.55h-0.55zM267.6,142.8h0.55v0.55h-0.55zM213.8,143.2h0.55v0.55h-0.55zM244.1,143.4h0.55v0.55h-0.55zM247.3,143.4h0.55v0.55h-0.55zM247.7,143.3h0.55v0.55h-0.55zM248.5,143.3h0.55v0.55h-0.55zM248.9,143.3h0.55v0.55h-0.55zM249.6,143.2h0.55v0.55h-0.55zM250.8,143.2h0.55v0.55h-0.55zM251.3,143.1h0.55v0.55h-0.55zM255.0,143.3h0.55v0.55h-0.55zM257.4,143.3h0.55v0.55h-0.55zM258.0,143.2h0.55v0.55h-0.55zM261.0,143.1h0.55v0.55h-0.55zM262.1,143.3h0.55v0.55h-0.55zM267.5,143.3h0.55v0.55h-0.55zM269.5,143.3h0.55v0.55h-0.55zM270.7,143.1h0.55v0.55h-0.55zM275.0,143.3h0.55v0.55h-0.55zM215.0,143.8h0.55v0.55h-0.55zM215.4,143.7h0.55v0.55h-0.55zM216.1,144.0h0.55v0.55h-0.55zM237.1,143.9h0.55v0.55h-0.55zM238.9,143.8h0.55v0.55h-0.55zM245.0,143.7h0.55v0.55h-0.55zM245.3,143.8h0.55v0.55h-0.55zM247.9,143.7h0.55v0.55h-0.55zM248.4,144.0h0.55v0.55h-0.55zM249.0,143.9h0.55v0.55h-0.55zM249.5,143.8h0.55v0.55h-0.55zM250.1,143.8h0.55v0.55h-0.55zM250.8,143.8h0.55v0.55h-0.55zM251.4,143.7h0.55v0.55h-0.55zM252.1,143.9h0.55v0.55h-0.55zM253.2,143.7h0.55v0.55h-0.55zM253.9,143.9h0.55v0.55h-0.55zM254.5,143.9h0.55v0.55h-0.55zM255.0,143.8h0.55v0.55h-0.55zM256.2,143.9h0.55v0.55h-0.55zM256.7,143.8h0.55v0.55h-0.55zM257.4,144.0h0.55v0.55h-0.55zM258.1,143.7h0.55v0.55h-0.55zM259.8,143.8h0.55v0.55h-0.55zM260.9,143.8h0.55v0.55h-0.55zM266.9,143.8h0.55v0.55h-0.55zM268.4,143.9h0.55v0.55h-0.55zM269.0,143.9h0.55v0.55h-0.55zM270.5,143.8h0.55v0.55h-0.55zM271.3,143.9h0.55v0.55h-0.55zM214.9,144.3h0.55v0.55h-0.55zM234.1,144.4h0.55v0.55h-0.55zM237.1,144.3h0.55v0.55h-0.55zM238.1,144.4h0.55v0.55h-0.55zM238.9,144.5h0.55v0.55h-0.55zM244.8,144.4h0.55v0.55h-0.55zM245.6,144.3h0.55v0.55h-0.55zM246.6,144.5h0.55v0.55h-0.55zM247.2,144.5h0.55v0.55h-0.55zM248.4,144.4h0.55v0.55h-0.55zM249.0,144.6h0.55v0.55h-0.55zM249.7,144.3h0.55v0.55h-0.55zM250.1,144.5h0.55v0.55h-0.55zM253.1,144.5h0.55v0.55h-0.55zM253.9,144.5h0.55v0.55h-0.55zM254.4,144.5h0.55v0.55h-0.55zM255.6,144.5h0.55v0.55h-0.55zM256.9,144.4h0.55v0.55h-0.55zM257.9,144.5h0.55v0.55h-0.55zM267.6,144.3h0.55v0.55h-0.55zM268.4,144.4h0.55v0.55h-0.55zM268.9,144.4h0.55v0.55h-0.55zM271.8,144.4h0.55v0.55h-0.55zM232.9,145.1h0.55v0.55h-0.55zM233.4,145.0h0.55v0.55h-0.55zM234.0,145.2h0.55v0.55h-0.55zM235.7,144.9h0.55v0.55h-0.55zM236.4,144.9h0.55v0.55h-0.55zM237.6,145.1h0.55v0.55h-0.55zM244.9,145.1h0.55v0.55h-0.55zM246.0,145.1h0.55v0.55h-0.55zM246.7,144.9h0.55v0.55h-0.55zM247.1,144.9h0.55v0.55h-0.55zM248.6,145.0h0.55v0.55h-0.55zM249.0,145.0h0.55v0.55h-0.55zM250.8,145.1h0.55v0.55h-0.55zM253.1,145.2h0.55v0.55h-0.55zM254.4,144.9h0.55v0.55h-0.55zM255.0,145.1h0.55v0.55h-0.55zM255.6,145.1h0.55v0.55h-0.55zM256.3,145.2h0.55v0.55h-0.55zM256.8,145.0h0.55v0.55h-0.55zM258.1,145.1h0.55v0.55h-0.55zM258.6,144.9h0.55v0.55h-0.55zM264.5,145.1h0.55v0.55h-0.55zM266.3,145.1h0.55v0.55h-0.55zM268.7,145.1h0.55v0.55h-0.55zM269.9,145.1h0.55v0.55h-0.55zM270.5,145.2h0.55v0.55h-0.55zM213.6,145.7h0.55v0.55h-0.55zM231.6,145.6h0.55v0.55h-0.55zM234.5,145.6h0.55v0.55h-0.55zM235.9,145.7h0.55v0.55h-0.55zM237.8,145.7h0.55v0.55h-0.55zM243.1,145.5h0.55v0.55h-0.55zM243.8,145.6h0.55v0.55h-0.55zM247.9,145.7h0.55v0.55h-0.55zM248.6,145.6h0.55v0.55h-0.55zM249.1,145.5h0.55v0.55h-0.55zM250.2,145.7h0.55v0.55h-0.55zM250.7,145.5h0.55v0.55h-0.55zM251.5,145.7h0.55v0.55h-0.55zM252.5,145.5h0.55v0.55h-0.55zM253.8,145.6h0.55v0.55h-0.55zM255.5,145.8h0.55v0.55h-0.55zM257.5,145.6h0.55v0.55h-0.55zM259.3,145.7h0.55v0.55h-0.55zM265.1,145.7h0.55v0.55h-0.55zM269.3,145.7h0.55v0.55h-0.55zM271.2,145.7h0.55v0.55h-0.55zM229.1,146.3h0.55v0.55h-0.55zM231.6,146.2h0.55v0.55h-0.55zM232.4,146.1h0.55v0.55h-0.55zM233.9,146.1h0.55v0.55h-0.55zM235.3,146.2h0.55v0.55h-0.55zM236.5,146.2h0.55v0.55h-0.55zM237.6,146.2h0.55v0.55h-0.55zM242.6,146.2h0.55v0.55h-0.55zM244.1,146.3h0.55v0.55h-0.55zM245.9,146.2h0.55v0.55h-0.55zM247.8,146.2h0.55v0.55h-0.55zM248.3,146.3h0.55v0.55h-0.55zM249.0,146.3h0.55v0.55h-0.55zM249.7,146.2h0.55v0.55h-0.55zM250.8,146.2h0.55v0.55h-0.55zM251.9,146.3h0.55v0.55h-0.55zM253.3,146.1h0.55v0.55h-0.55zM253.8,146.3h0.55v0.55h-0.55zM257.4,146.4h0.55v0.55h-0.55zM262.7,146.3h0.55v0.55h-0.55zM265.8,146.3h0.55v0.55h-0.55zM266.6,146.2h0.55v0.55h-0.55zM267.1,146.1h0.55v0.55h-0.55zM268.2,146.3h0.55v0.55h-0.55zM270.7,146.2h0.55v0.55h-0.55zM271.3,146.3h0.55v0.55h-0.55zM272.5,146.2h0.55v0.55h-0.55zM215.5,146.9h0.55v0.55h-0.55zM226.8,146.7h0.55v0.55h-0.55zM228.6,146.7h0.55v0.55h-0.55zM229.3,146.7h0.55v0.55h-0.55zM231.1,146.7h0.55v0.55h-0.55zM235.1,146.8h0.55v0.55h-0.55zM236.4,146.9h0.55v0.55h-0.55zM243.1,146.8h0.55v0.55h-0.55zM243.5,146.7h0.55v0.55h-0.55zM244.9,146.8h0.55v0.55h-0.55zM245.6,146.7h0.55v0.55h-0.55zM247.1,146.8h0.55v0.55h-0.55zM247.9,146.9h0.55v0.55h-0.55zM248.4,146.8h0.55v0.55h-0.55zM248.9,146.9h0.55v0.55h-0.55zM250.7,146.8h0.55v0.55h-0.55zM251.3,146.8h0.55v0.55h-0.55zM252.1,146.8h0.55v0.55h-0.55zM252.5,147.0h0.55v0.55h-0.55zM253.2,146.8h0.55v0.55h-0.55zM254.3,146.8h0.55v0.55h-0.55zM254.9,146.9h0.55v0.55h-0.55zM255.7,146.9h0.55v0.55h-0.55zM262.1,146.7h0.55v0.55h-0.55zM263.4,146.9h0.55v0.55h-0.55zM264.1,146.8h0.55v0.55h-0.55zM265.2,146.8h0.55v0.55h-0.55zM265.8,146.9h0.55v0.55h-0.55zM266.3,146.8h0.55v0.55h-0.55zM267.1,146.9h0.55v0.55h-0.55zM267.6,146.8h0.55v0.55h-0.55zM269.0,146.9h0.55v0.55h-0.55zM271.8,146.8h0.55v0.55h-0.55zM273.0,146.7h0.55v0.55h-0.55zM214.7,147.4h0.55v0.55h-0.55zM220.8,147.5h0.55v0.55h-0.55zM223.1,147.4h0.55v0.55h-0.55zM225.6,147.3h0.55v0.55h-0.55zM226.3,147.3h0.55v0.55h-0.55zM227.4,147.5h0.55v0.55h-0.55zM227.9,147.5h0.55v0.55h-0.55zM228.7,147.4h0.55v0.55h-0.55zM229.9,147.5h0.55v0.55h-0.55zM230.5,147.3h0.55v0.55h-0.55zM231.0,147.4h0.55v0.55h-0.55zM232.2,147.5h0.55v0.55h-0.55zM232.9,147.4h0.55v0.55h-0.55zM234.1,147.5h0.55v0.55h-0.55zM235.2,147.3h0.55v0.55h-0.55zM235.7,147.5h0.55v0.55h-0.55zM242.5,147.5h0.55v0.55h-0.55zM244.2,147.3h0.55v0.55h-0.55zM247.9,147.3h0.55v0.55h-0.55zM248.4,147.5h0.55v0.55h-0.55zM249.1,147.4h0.55v0.55h-0.55zM249.7,147.5h0.55v0.55h-0.55zM253.9,147.6h0.55v0.55h-0.55zM255.0,147.6h0.55v0.55h-0.55zM262.8,147.3h0.55v0.55h-0.55zM263.4,147.3h0.55v0.55h-0.55zM268.8,147.5h0.55v0.55h-0.55zM269.4,147.4h0.55v0.55h-0.55zM270.7,147.3h0.55v0.55h-0.55zM271.3,147.3h0.55v0.55h-0.55zM271.9,147.3h0.55v0.55h-0.55zM272.4,147.4h0.55v0.55h-0.55zM272.9,147.5h0.55v0.55h-0.55zM216.5,148.1h0.55v0.55h-0.55zM219.0,148.2h0.55v0.55h-0.55zM220.8,148.2h0.55v0.55h-0.55zM222.6,147.9h0.55v0.55h-0.55zM224.4,148.0h0.55v0.55h-0.55zM229.8,148.0h0.55v0.55h-0.55zM231.7,148.2h0.55v0.55h-0.55zM232.9,148.1h0.55v0.55h-0.55zM233.3,148.0h0.55v0.55h-0.55zM235.1,148.1h0.55v0.55h-0.55zM243.7,148.1h0.55v0.55h-0.55zM244.8,148.0h0.55v0.55h-0.55zM245.4,147.9h0.55v0.55h-0.55zM247.1,147.9h0.55v0.55h-0.55zM248.4,148.1h0.55v0.55h-0.55zM249.1,148.1h0.55v0.55h-0.55zM250.3,148.1h0.55v0.55h-0.55zM252.7,147.9h0.55v0.55h-0.55zM254.3,148.2h0.55v0.55h-0.55zM262.3,148.0h0.55v0.55h-0.55zM263.3,147.9h0.55v0.55h-0.55zM265.9,147.9h0.55v0.55h-0.55zM266.4,148.1h0.55v0.55h-0.55zM268.3,147.9h0.55v0.55h-0.55zM269.6,147.9h0.55v0.55h-0.55zM271.8,147.9h0.55v0.55h-0.55zM272.4,147.9h0.55v0.55h-0.55zM214.2,148.7h0.55v0.55h-0.55zM217.1,148.7h0.55v0.55h-0.55zM222.2,148.6h0.55v0.55h-0.55zM222.6,148.7h0.55v0.55h-0.55zM223.9,148.8h0.55v0.55h-0.55zM226.1,148.6h0.55v0.55h-0.55zM226.7,148.7h0.55v0.55h-0.55zM228.1,148.7h0.55v0.55h-0.55zM230.5,148.6h0.55v0.55h-0.55zM231.1,148.5h0.55v0.55h-0.55zM231.5,148.6h0.55v0.55h-0.55zM234.0,148.5h0.55v0.55h-0.55zM234.6,148.7h0.55v0.55h-0.55zM235.3,148.7h0.55v0.55h-0.55zM241.3,148.7h0.55v0.55h-0.55zM241.9,148.6h0.55v0.55h-0.55zM242.9,148.5h0.55v0.55h-0.55zM244.1,148.5h0.55v0.55h-0.55zM244.9,148.7h0.55v0.55h-0.55zM246.1,148.7h0.55v0.55h-0.55zM249.6,148.7h0.55v0.55h-0.55zM250.3,148.7h0.55v0.55h-0.55zM252.0,148.7h0.55v0.55h-0.55zM253.1,148.6h0.55v0.55h-0.55zM262.3,148.7h0.55v0.55h-0.55zM262.7,148.6h0.55v0.55h-0.55zM263.3,148.7h0.55v0.55h-0.55zM264.0,148.6h0.55v0.55h-0.55zM264.6,148.7h0.55v0.55h-0.55zM265.2,148.8h0.55v0.55h-0.55zM267.2,148.5h0.55v0.55h-0.55zM267.6,148.5h0.55v0.55h-0.55zM270.0,148.8h0.55v0.55h-0.55zM270.6,148.7h0.55v0.55h-0.55zM272.9,148.5h0.55v0.55h-0.55zM216.1,149.4h0.55v0.55h-0.55zM217.8,149.1h0.55v0.55h-0.55zM219.0,149.2h0.55v0.55h-0.55zM220.3,149.2h0.55v0.55h-0.55zM222.0,149.2h0.55v0.55h-0.55zM223.3,149.3h0.55v0.55h-0.55zM224.0,149.3h0.55v0.55h-0.55zM224.5,149.2h0.55v0.55h-0.55zM225.0,149.3h0.55v0.55h-0.55zM225.6,149.3h0.55v0.55h-0.55zM226.4,149.2h0.55v0.55h-0.55zM230.5,149.2h0.55v0.55h-0.55zM230.9,149.3h0.55v0.55h-0.55zM232.7,149.2h0.55v0.55h-0.55zM233.3,149.1h0.55v0.55h-0.55zM233.9,149.1h0.55v0.55h-0.55zM234.7,149.4h0.55v0.55h-0.55zM235.1,149.4h0.55v0.55h-0.55zM236.3,149.3h0.55v0.55h-0.55zM243.1,149.3h0.55v0.55h-0.55zM244.7,149.3h0.55v0.55h-0.55zM245.5,149.4h0.55v0.55h-0.55zM246.0,149.1h0.55v0.55h-0.55zM248.5,149.3h0.55v0.55h-0.55zM249.1,149.3h0.55v0.55h-0.55zM250.1,149.1h0.55v0.55h-0.55zM251.3,149.3h0.55v0.55h-0.55zM252.0,149.2h0.55v0.55h-0.55zM261.6,149.2h0.55v0.55h-0.55zM262.3,149.3h0.55v0.55h-0.55zM263.3,149.4h0.55v0.55h-0.55zM265.7,149.4h0.55v0.55h-0.55zM266.3,149.3h0.55v0.55h-0.55zM267.0,149.2h0.55v0.55h-0.55zM267.7,149.1h0.55v0.55h-0.55zM268.1,149.2h0.55v0.55h-0.55zM270.6,149.2h0.55v0.55h-0.55zM271.9,149.4h0.55v0.55h-0.55zM272.4,149.2h0.55v0.55h-0.55zM273.1,149.3h0.55v0.55h-0.55zM214.8,149.9h0.55v0.55h-0.55zM216.7,149.8h0.55v0.55h-0.55zM217.2,149.7h0.55v0.55h-0.55zM217.8,149.7h0.55v0.55h-0.55zM218.5,149.7h0.55v0.55h-0.55zM220.1,149.8h0.55v0.55h-0.55zM221.4,149.9h0.55v0.55h-0.55zM222.1,150.0h0.55v0.55h-0.55zM224.0,149.7h0.55v0.55h-0.55zM225.0,149.8h0.55v0.55h-0.55zM225.5,149.7h0.55v0.55h-0.55zM226.7,149.9h0.55v0.55h-0.55zM227.9,149.9h0.55v0.55h-0.55zM228.8,150.0h0.55v0.55h-0.55zM229.1,149.9h0.55v0.55h-0.55zM229.8,149.8h0.55v0.55h-0.55zM230.5,149.9h0.55v0.55h-0.55zM230.9,149.9h0.55v0.55h-0.55zM233.3,149.9h0.55v0.55h-0.55zM235.8,149.7h0.55v0.55h-0.55zM241.3,149.9h0.55v0.55h-0.55zM241.8,149.9h0.55v0.55h-0.55zM242.9,149.9h0.55v0.55h-0.55zM243.7,149.8h0.55v0.55h-0.55zM244.9,149.8h0.55v0.55h-0.55zM245.9,149.8h0.55v0.55h-0.55zM247.8,149.7h0.55v0.55h-0.55zM248.4,149.8h0.55v0.55h-0.55zM249.0,149.9h0.55v0.55h-0.55zM249.7,149.7h0.55v0.55h-0.55zM250.7,149.9h0.55v0.55h-0.55zM259.2,150.0h0.55v0.55h-0.55zM259.9,149.7h0.55v0.55h-0.55zM260.3,149.9h0.55v0.55h-0.55zM261.7,149.8h0.55v0.55h-0.55zM262.4,149.9h0.55v0.55h-0.55zM262.7,149.8h0.55v0.55h-0.55zM264.1,149.8h0.55v0.55h-0.55zM267.2,149.7h0.55v0.55h-0.55zM267.5,149.9h0.55v0.55h-0.55zM268.8,149.8h0.55v0.55h-0.55zM270.0,149.9h0.55v0.55h-0.55zM274.7,149.9h0.55v0.55h-0.55zM216.5,150.5h0.55v0.55h-0.55zM217.2,150.3h0.55v0.55h-0.55zM218.5,150.5h0.55v0.55h-0.55zM219.0,150.5h0.55v0.55h-0.55zM220.4,150.5h0.55v0.55h-0.55zM220.8,150.6h0.55v0.55h-0.55zM221.9,150.3h0.55v0.55h-0.55zM223.8,150.5h0.55v0.55h-0.55zM225.1,150.5h0.55v0.55h-0.55zM225.5,150.3h0.55v0.55h-0.55zM226.2,150.5h0.55v0.55h-0.55zM228.0,150.5h0.55v0.55h-0.55zM229.3,150.5h0.55v0.55h-0.55zM231.5,150.3h0.55v0.55h-0.55zM232.2,150.3h0.55v0.55h-0.55zM232.8,150.5h0.55v0.55h-0.55zM233.3,150.6h0.55v0.55h-0.55zM234.1,150.5h0.55v0.55h-0.55zM234.5,150.5h0.55v0.55h-0.55zM239.6,150.5h0.55v0.55h-0.55zM244.1,150.4h0.55v0.55h-0.55zM246.0,150.3h0.55v0.55h-0.55zM246.7,150.3h0.55v0.55h-0.55zM248.3,150.5h0.55v0.55h-0.55zM250.3,150.3h0.55v0.55h-0.55zM250.8,150.6h0.55v0.55h-0.55zM258.7,150.3h0.55v0.55h-0.55zM260.5,150.5h0.55v0.55h-0.55zM261.5,150.4h0.55v0.55h-0.55zM262.9,150.4h0.55v0.55h-0.55zM263.3,150.3h0.55v0.55h-0.55zM263.9,150.4h0.55v0.55h-0.55zM264.6,150.3h0.55v0.55h-0.55zM265.4,150.3h0.55v0.55h-0.55zM265.8,150.4h0.55v0.55h-0.55zM267.8,150.4h0.55v0.55h-0.55zM270.0,150.5h0.55v0.55h-0.55zM271.3,150.3h0.55v0.55h-0.55zM216.8,151.1h0.55v0.55h-0.55zM218.5,151.0h0.55v0.55h-0.55zM219.6,150.9h0.55v0.55h-0.55zM220.1,151.0h0.55v0.55h-0.55zM221.4,150.9h0.55v0.55h-0.55zM223.9,150.9h0.55v0.55h-0.55zM225.0,151.0h0.55v0.55h-0.55zM228.1,151.0h0.55v0.55h-0.55zM228.8,150.9h0.55v0.55h-0.55zM229.2,151.0h0.55v0.55h-0.55zM229.9,151.0h0.55v0.55h-0.55zM230.9,151.0h0.55v0.55h-0.55zM232.9,150.9h0.55v0.55h-0.55zM233.3,151.0h0.55v0.55h-0.55zM234.0,151.0h0.55v0.55h-0.55zM241.3,150.9h0.55v0.55h-0.55zM241.7,150.9h0.55v0.55h-0.55zM243.6,150.9h0.55v0.55h-0.55zM244.8,151.1h0.55v0.55h-0.55zM246.1,150.9h0.55v0.55h-0.55zM246.7,151.1h0.55v0.55h-0.55zM249.1,150.9h0.55v0.55h-0.55zM258.1,151.0h0.55v0.55h-0.55zM258.6,151.0h0.55v0.55h-0.55zM261.1,151.1h0.55v0.55h-0.55zM262.3,151.2h0.55v0.55h-0.55zM266.5,151.0h0.55v0.55h-0.55zM270.0,151.0h0.55v0.55h-0.55zM274.3,151.1h0.55v0.55h-0.55zM217.3,151.6h0.55v0.55h-0.55zM217.9,151.5h0.55v0.55h-0.55zM218.5,151.6h0.55v0.55h-0.55zM218.9,151.5h0.55v0.55h-0.55zM219.6,151.7h0.55v0.55h-0.55zM220.9,151.5h0.55v0.55h-0.55zM223.9,151.5h0.55v0.55h-0.55zM224.3,151.6h0.55v0.55h-0.55zM225.1,151.7h0.55v0.55h-0.55zM226.1,151.7h0.55v0.55h-0.55zM226.7,151.6h0.55v0.55h-0.55zM227.6,151.6h0.55v0.55h-0.55zM228.6,151.6h0.55v0.55h-0.55zM229.1,151.6h0.55v0.55h-0.55zM230.4,151.7h0.55v0.55h-0.55zM231.7,151.7h0.55v0.55h-0.55zM232.7,151.8h0.55v0.55h-0.55zM233.9,151.7h0.55v0.55h-0.55zM234.5,151.7h0.55v0.55h-0.55zM241.7,151.6h0.55v0.55h-0.55zM243.6,151.7h0.55v0.55h-0.55zM244.1,151.7h0.55v0.55h-0.55zM246.0,151.7h0.55v0.55h-0.55zM247.7,151.8h0.55v0.55h-0.55zM248.3,151.6h0.55v0.55h-0.55zM249.0,151.7h0.55v0.55h-0.55zM255.7,151.7h0.55v0.55h-0.55zM256.4,151.6h0.55v0.55h-0.55zM258.1,151.8h0.55v0.55h-0.55zM258.7,151.6h0.55v0.55h-0.55zM259.2,151.5h0.55v0.55h-0.55zM262.2,151.7h0.55v0.55h-0.55zM262.7,151.7h0.55v0.55h-0.55zM264.0,151.7h0.55v0.55h-0.55zM264.6,151.5h0.55v0.55h-0.55zM265.2,151.5h0.55v0.55h-0.55zM266.0,151.8h0.55v0.55h-0.55zM266.3,151.6h0.55v0.55h-0.55zM267.1,151.5h0.55v0.55h-0.55zM268.2,151.6h0.55v0.55h-0.55zM268.7,151.5h0.55v0.55h-0.55zM270.5,151.6h0.55v0.55h-0.55zM216.7,152.2h0.55v0.55h-0.55zM217.3,152.2h0.55v0.55h-0.55zM217.8,152.3h0.55v0.55h-0.55zM219.6,152.3h0.55v0.55h-0.55zM221.0,152.2h0.55v0.55h-0.55zM222.1,152.2h0.55v0.55h-0.55zM223.4,152.2h0.55v0.55h-0.55zM223.7,152.3h0.55v0.55h-0.55zM224.9,152.4h0.55v0.55h-0.55zM226.1,152.2h0.55v0.55h-0.55zM226.9,152.2h0.55v0.55h-0.55zM227.4,152.2h0.55v0.55h-0.55zM229.2,152.1h0.55v0.55h-0.55zM229.7,152.1h0.55v0.55h-0.55zM230.4,152.1h0.55v0.55h-0.55zM232.8,152.1h0.55v0.55h-0.55zM233.5,152.1h0.55v0.55h-0.55zM234.0,152.3h0.55v0.55h-0.55zM238.9,152.4h0.55v0.55h-0.55zM239.9,152.3h0.55v0.55h-0.55zM240.7,152.2h0.55v0.55h-0.55zM241.7,152.3h0.55v0.55h-0.55zM242.5,152.2h0.55v0.55h-0.55zM242.9,152.3h0.55v0.55h-0.55zM245.5,152.3h0.55v0.55h-0.55zM246.7,152.3h0.55v0.55h-0.55zM249.0,152.1h0.55v0.55h-0.55zM255.7,152.1h0.55v0.55h-0.55zM258.6,152.2h0.55v0.55h-0.55zM259.8,152.4h0.55v0.55h-0.55zM262.9,152.2h0.55v0.55h-0.55zM263.5,152.3h0.55v0.55h-0.55zM265.7,152.1h0.55v0.55h-0.55zM267.5,152.1h0.55v0.55h-0.55zM217.3,152.9h0.55v0.55h-0.55zM217.7,152.8h0.55v0.55h-0.55zM218.5,152.7h0.55v0.55h-0.55zM219.1,152.8h0.55v0.55h-0.55zM219.5,152.9h0.55v0.55h-0.55zM220.2,152.7h0.55v0.55h-0.55zM223.7,152.8h0.55v0.55h-0.55zM224.4,152.8h0.55v0.55h-0.55zM224.9,152.9h0.55v0.55h-0.55zM225.7,152.9h0.55v0.55h-0.55zM228.0,152.7h0.55v0.55h-0.55zM228.7,152.8h0.55v0.55h-0.55zM229.2,152.9h0.55v0.55h-0.55zM229.8,152.9h0.55v0.55h-0.55zM231.6,152.7h0.55v0.55h-0.55zM232.9,152.9h0.55v0.55h-0.55zM233.5,152.9h0.55v0.55h-0.55zM240.0,152.9h0.55v0.55h-0.55zM240.7,152.8h0.55v0.55h-0.55zM242.4,152.9h0.55v0.55h-0.55zM244.9,152.8h0.55v0.55h-0.55zM245.5,153.0h0.55v0.55h-0.55zM246.0,152.9h0.55v0.55h-0.55zM246.6,152.9h0.55v0.55h-0.55zM255.6,152.8h0.55v0.55h-0.55zM256.4,152.9h0.55v0.55h-0.55zM257.4,152.7h0.55v0.55h-0.55zM258.7,152.7h0.55v0.55h-0.55zM259.2,152.7h0.55v0.55h-0.55zM259.8,152.8h0.55v0.55h-0.55zM261.1,153.0h0.55v0.55h-0.55zM261.5,152.7h0.55v0.55h-0.55zM262.9,152.9h0.55v0.55h-0.55zM264.1,152.8h0.55v0.55h-0.55zM266.5,152.7h0.55v0.55h-0.55zM267.5,152.8h0.55v0.55h-0.55zM268.7,152.9h0.55v0.55h-0.55zM269.5,152.9h0.55v0.55h-0.55zM271.7,152.8h0.55v0.55h-0.55zM273.7,152.8h0.55v0.55h-0.55zM216.5,153.5h0.55v0.55h-0.55zM217.8,153.4h0.55v0.55h-0.55zM220.2,153.5h0.55v0.55h-0.55zM220.8,153.4h0.55v0.55h-0.55zM221.3,153.4h0.55v0.55h-0.55zM221.9,153.3h0.55v0.55h-0.55zM222.7,153.3h0.55v0.55h-0.55zM223.7,153.3h0.55v0.55h-0.55zM225.1,153.4h0.55v0.55h-0.55zM226.9,153.5h0.55v0.55h-0.55zM227.4,153.3h0.55v0.55h-0.55zM228.1,153.5h0.55v0.55h-0.55zM228.6,153.4h0.55v0.55h-0.55zM229.2,153.5h0.55v0.55h-0.55zM230.3,153.5h0.55v0.55h-0.55zM230.9,153.4h0.55v0.55h-0.55zM231.7,153.3h0.55v0.55h-0.55zM232.9,153.3h0.55v0.55h-0.55zM237.8,153.4h0.55v0.55h-0.55zM238.3,153.5h0.55v0.55h-0.55zM238.8,153.5h0.55v0.55h-0.55zM240.7,153.3h0.55v0.55h-0.55zM242.3,153.3h0.55v0.55h-0.55zM244.8,153.3h0.55v0.55h-0.55zM255.6,153.5h0.55v0.55h-0.55zM256.2,153.4h0.55v0.55h-0.55zM256.8,153.5h0.55v0.55h-0.55zM259.3,153.3h0.55v0.55h-0.55zM259.9,153.3h0.55v0.55h-0.55zM260.6,153.5h0.55v0.55h-0.55zM261.0,153.3h0.55v0.55h-0.55zM261.5,153.4h0.55v0.55h-0.55zM262.9,153.3h0.55v0.55h-0.55zM263.5,153.4h0.55v0.55h-0.55zM263.9,153.4h0.55v0.55h-0.55zM264.7,153.3h0.55v0.55h-0.55zM265.2,153.5h0.55v0.55h-0.55zM266.5,153.5h0.55v0.55h-0.55zM266.9,153.4h0.55v0.55h-0.55zM267.5,153.3h0.55v0.55h-0.55zM268.8,153.5h0.55v0.55h-0.55zM269.5,153.4h0.55v0.55h-0.55zM270.1,153.3h0.55v0.55h-0.55zM270.6,153.5h0.55v0.55h-0.55zM213.7,154.0h0.55v0.55h-0.55zM214.9,154.1h0.55v0.55h-0.55zM215.9,153.9h0.55v0.55h-0.55zM217.3,154.1h0.55v0.55h-0.55zM217.9,154.1h0.55v0.55h-0.55zM219.1,153.9h0.55v0.55h-0.55zM221.5,154.1h0.55v0.55h-0.55zM222.7,154.2h0.55v0.55h-0.55zM223.9,153.9h0.55v0.55h-0.55zM226.9,153.9h0.55v0.55h-0.55zM228.6,154.0h0.55v0.55h-0.55zM230.6,154.0h0.55v0.55h-0.55zM231.6,154.0h0.55v0.55h-0.55zM232.2,154.0h0.55v0.55h-0.55zM232.7,154.0h0.55v0.55h-0.55zM239.9,153.9h0.55v0.55h-0.55zM240.7,154.0h0.55v0.55h-0.55zM241.3,153.9h0.55v0.55h-0.55zM241.9,153.9h0.55v0.55h-0.55zM242.5,154.0h0.55v0.55h-0.55zM244.3,154.0h0.55v0.55h-0.55zM245.3,154.0h0.55v0.55h-0.55zM254.3,154.1h0.55v0.55h-0.55zM255.0,154.1h0.55v0.55h-0.55zM256.3,154.1h0.55v0.55h-0.55zM256.7,154.1h0.55v0.55h-0.55zM258.7,154.0h0.55v0.55h-0.55zM259.8,154.2h0.55v0.55h-0.55zM261.6,153.9h0.55v0.55h-0.55zM263.4,153.9h0.55v0.55h-0.55zM266.4,153.9h0.55v0.55h-0.55zM267.1,154.1h0.55v0.55h-0.55zM267.5,154.2h0.55v0.55h-0.55zM215.5,154.7h0.55v0.55h-0.55zM217.1,154.7h0.55v0.55h-0.55zM217.8,154.7h0.55v0.55h-0.55zM219.7,154.5h0.55v0.55h-0.55zM220.4,154.7h0.55v0.55h-0.55zM222.6,154.5h0.55v0.55h-0.55zM223.7,154.6h0.55v0.55h-0.55zM225.6,154.6h0.55v0.55h-0.55zM227.0,154.6h0.55v0.55h-0.55zM227.5,154.5h0.55v0.55h-0.55zM228.0,154.5h0.55v0.55h-0.55zM229.7,154.6h0.55v0.55h-0.55zM230.4,154.5h0.55v0.55h-0.55zM231.1,154.6h0.55v0.55h-0.55zM239.4,154.5h0.55v0.55h-0.55zM240.1,154.6h0.55v0.55h-0.55zM241.1,154.5h0.55v0.55h-0.55zM242.4,154.7h0.55v0.55h-0.55zM251.4,154.7h0.55v0.55h-0.55zM253.1,154.7h0.55v0.55h-0.55zM253.7,154.5h0.55v0.55h-0.55zM255.1,154.7h0.55v0.55h-0.55zM256.2,154.8h0.55v0.55h-0.55zM256.9,154.8h0.55v0.55h-0.55zM258.0,154.7h0.55v0.55h-0.55zM260.9,154.7h0.55v0.55h-0.55zM261.7,154.7h0.55v0.55h-0.55zM264.2,154.5h0.55v0.55h-0.55zM264.7,154.8h0.55v0.55h-0.55zM265.2,154.6h0.55v0.55h-0.55zM266.0,154.7h0.55v0.55h-0.55zM267.1,154.7h0.55v0.55h-0.55zM270.5,154.7h0.55v0.55h-0.55zM216.7,155.3h0.55v0.55h-0.55zM217.1,155.2h0.55v0.55h-0.55zM219.2,155.2h0.55v0.55h-0.55zM220.2,155.3h0.55v0.55h-0.55zM222.1,155.3h0.55v0.55h-0.55zM222.5,155.3h0.55v0.55h-0.55zM223.7,155.2h0.55v0.55h-0.55zM225.0,155.1h0.55v0.55h-0.55zM225.5,155.3h0.55v0.55h-0.55zM226.7,155.3h0.55v0.55h-0.55zM228.5,155.2h0.55v0.55h-0.55zM237.0,155.3h0.55v0.55h-0.55zM238.3,155.4h0.55v0.55h-0.55zM239.5,155.2h0.55v0.55h-0.55zM242.5,155.2h0.55v0.55h-0.55zM251.5,155.3h0.55v0.55h-0.55zM252.5,155.1h0.55v0.55h-0.55zM253.1,155.2h0.55v0.55h-0.55zM253.9,155.4h0.55v0.55h-0.55zM256.3,155.2h0.55v0.55h-0.55zM256.7,155.4h0.55v0.55h-0.55zM257.5,155.2h0.55v0.55h-0.55zM258.2,155.2h0.55v0.55h-0.55zM258.6,155.1h0.55v0.55h-0.55zM261.6,155.2h0.55v0.55h-0.55zM262.2,155.1h0.55v0.55h-0.55zM263.0,155.3h0.55v0.55h-0.55zM263.9,155.2h0.55v0.55h-0.55zM264.6,155.3h0.55v0.55h-0.55zM265.8,155.2h0.55v0.55h-0.55zM267.0,155.2h0.55v0.55h-0.55zM270.2,155.1h0.55v0.55h-0.55zM219.0,155.9h0.55v0.55h-0.55zM219.5,155.9h0.55v0.55h-0.55zM221.4,155.9h0.55v0.55h-0.55zM222.1,155.8h0.55v0.55h-0.55zM222.5,155.8h0.55v0.55h-0.55zM223.7,155.8h0.55v0.55h-0.55zM225.0,155.9h0.55v0.55h-0.55zM226.4,156.0h0.55v0.55h-0.55zM226.7,155.7h0.55v0.55h-0.55zM228.6,155.8h0.55v0.55h-0.55zM231.2,155.8h0.55v0.55h-0.55zM231.6,155.9h0.55v0.55h-0.55zM236.5,155.9h0.55v0.55h-0.55zM237.7,156.0h0.55v0.55h-0.55zM239.0,155.8h0.55v0.55h-0.55zM240.0,155.7h0.55v0.55h-0.55zM241.9,155.9h0.55v0.55h-0.55zM242.3,155.9h0.55v0.55h-0.55zM243.0,155.9h0.55v0.55h-0.55zM249.6,155.9h0.55v0.55h-0.55zM252.0,155.8h0.55v0.55h-0.55zM252.5,155.9h0.55v0.55h-0.55zM253.9,155.9h0.55v0.55h-0.55zM254.4,155.8h0.55v0.55h-0.55zM255.1,155.9h0.55v0.55h-0.55zM256.3,155.9h0.55v0.55h-0.55zM257.4,156.0h0.55v0.55h-0.55zM257.9,155.7h0.55v0.55h-0.55zM259.7,155.9h0.55v0.55h-0.55zM261.1,155.9h0.55v0.55h-0.55zM261.5,155.8h0.55v0.55h-0.55zM263.4,155.8h0.55v0.55h-0.55zM263.9,155.8h0.55v0.55h-0.55zM265.7,155.7h0.55v0.55h-0.55zM266.4,155.9h0.55v0.55h-0.55zM272.5,155.9h0.55v0.55h-0.55zM215.5,156.3h0.55v0.55h-0.55zM216.0,156.6h0.55v0.55h-0.55zM218.0,156.4h0.55v0.55h-0.55zM219.8,156.3h0.55v0.55h-0.55zM220.7,156.4h0.55v0.55h-0.55zM221.3,156.3h0.55v0.55h-0.55zM222.1,156.6h0.55v0.55h-0.55zM223.2,156.5h0.55v0.55h-0.55zM224.3,156.3h0.55v0.55h-0.55zM225.0,156.3h0.55v0.55h-0.55zM226.3,156.5h0.55v0.55h-0.55zM227.4,156.5h0.55v0.55h-0.55zM228.8,156.5h0.55v0.55h-0.55zM229.2,156.4h0.55v0.55h-0.55zM236.4,156.3h0.55v0.55h-0.55zM237.6,156.4h0.55v0.55h-0.55zM238.9,156.3h0.55v0.55h-0.55zM240.1,156.5h0.55v0.55h-0.55zM240.8,156.5h0.55v0.55h-0.55zM241.1,156.4h0.55v0.55h-0.55zM250.8,156.4h0.55v0.55h-0.55zM252.7,156.4h0.55v0.55h-0.55zM253.3,156.5h0.55v0.55h-0.55zM253.7,156.5h0.55v0.55h-0.55zM255.0,156.3h0.55v0.55h-0.55zM255.5,156.3h0.55v0.55h-0.55zM256.3,156.5h0.55v0.55h-0.55zM257.4,156.3h0.55v0.55h-0.55zM257.9,156.5h0.55v0.55h-0.55zM258.8,156.5h0.55v0.55h-0.55zM259.9,156.4h0.55v0.55h-0.55zM260.4,156.5h0.55v0.55h-0.55zM260.9,156.3h0.55v0.55h-0.55zM263.5,156.5h0.55v0.55h-0.55zM265.1,156.5h0.55v0.55h-0.55zM267.0,156.4h0.55v0.55h-0.55zM217.9,157.1h0.55v0.55h-0.55zM219.7,157.0h0.55v0.55h-0.55zM222.8,157.1h0.55v0.55h-0.55zM225.6,156.9h0.55v0.55h-0.55zM226.8,156.9h0.55v0.55h-0.55zM227.5,157.0h0.55v0.55h-0.55zM228.0,157.2h0.55v0.55h-0.55zM228.7,157.2h0.55v0.55h-0.55zM229.3,157.1h0.55v0.55h-0.55zM230.5,157.0h0.55v0.55h-0.55zM237.7,157.1h0.55v0.55h-0.55zM241.1,157.1h0.55v0.55h-0.55zM250.2,156.9h0.55v0.55h-0.55zM250.8,157.1h0.55v0.55h-0.55zM252.0,156.9h0.55v0.55h-0.55zM252.6,157.1h0.55v0.55h-0.55zM253.1,157.1h0.55v0.55h-0.55zM254.3,157.0h0.55v0.55h-0.55zM257.4,156.9h0.55v0.55h-0.55zM258.0,157.1h0.55v0.55h-0.55zM260.3,157.1h0.55v0.55h-0.55zM262.2,157.2h0.55v0.55h-0.55zM264.7,156.9h0.55v0.55h-0.55zM215.5,157.7h0.55v0.55h-0.55zM216.1,157.7h0.55v0.55h-0.55zM219.5,157.8h0.55v0.55h-0.55zM220.3,157.6h0.55v0.55h-0.55zM221.3,157.7h0.55v0.55h-0.55zM222.7,157.7h0.55v0.55h-0.55zM223.3,157.7h0.55v0.55h-0.55zM225.8,157.6h0.55v0.55h-0.55zM226.9,157.5h0.55v0.55h-0.55zM227.6,157.6h0.55v0.55h-0.55zM229.3,157.7h0.55v0.55h-0.55zM229.8,157.6h0.55v0.55h-0.55zM235.8,157.7h0.55v0.55h-0.55zM237.1,157.7h0.55v0.55h-0.55zM238.1,157.6h0.55v0.55h-0.55zM239.4,157.5h0.55v0.55h-0.55zM246.8,157.6h0.55v0.55h-0.55zM247.3,157.6h0.55v0.55h-0.55zM247.8,157.6h0.55v0.55h-0.55zM250.1,157.5h0.55v0.55h-0.55zM250.8,157.5h0.55v0.55h-0.55zM251.5,157.6h0.55v0.55h-0.55zM252.0,157.5h0.55v0.55h-0.55zM253.1,157.7h0.55v0.55h-0.55zM253.9,157.6h0.55v0.55h-0.55zM255.1,157.6h0.55v0.55h-0.55zM255.6,157.6h0.55v0.55h-0.55zM256.8,157.7h0.55v0.55h-0.55zM257.5,157.6h0.55v0.55h-0.55zM258.1,157.7h0.55v0.55h-0.55zM258.6,157.6h0.55v0.55h-0.55zM262.1,157.6h0.55v0.55h-0.55zM269.3,157.5h0.55v0.55h-0.55zM216.8,158.2h0.55v0.55h-0.55zM218.3,158.3h0.55v0.55h-0.55zM219.6,158.3h0.55v0.55h-0.55zM220.3,158.4h0.55v0.55h-0.55zM221.5,158.3h0.55v0.55h-0.55zM223.9,158.1h0.55v0.55h-0.55zM225.6,158.1h0.55v0.55h-0.55zM226.8,158.3h0.55v0.55h-0.55zM227.5,158.3h0.55v0.55h-0.55zM228.6,158.3h0.55v0.55h-0.55zM229.3,158.1h0.55v0.55h-0.55zM235.1,158.3h0.55v0.55h-0.55zM235.9,158.2h0.55v0.55h-0.55zM238.1,158.1h0.55v0.55h-0.55zM238.8,158.3h0.55v0.55h-0.55zM239.5,158.2h0.55v0.55h-0.55zM245.5,158.2h0.55v0.55h-0.55zM246.1,158.3h0.55v0.55h-0.55zM247.7,158.1h0.55v0.55h-0.55zM250.8,158.3h0.55v0.55h-0.55zM251.5,158.2h0.55v0.55h-0.55zM252.1,158.4h0.55v0.55h-0.55zM252.7,158.4h0.55v0.55h-0.55zM256.8,158.1h0.55v0.55h-0.55zM258.1,158.1h0.55v0.55h-0.55zM260.4,158.2h0.55v0.55h-0.55zM261.2,158.3h0.55v0.55h-0.55zM261.7,158.3h0.55v0.55h-0.55zM262.9,158.1h0.55v0.55h-0.55zM265.3,158.1h0.55v0.55h-0.55zM267.5,158.1h0.55v0.55h-0.55zM214.9,158.9h0.55v0.55h-0.55zM216.5,158.9h0.55v0.55h-0.55zM217.3,159.0h0.55v0.55h-0.55zM218.5,158.9h0.55v0.55h-0.55zM218.9,158.8h0.55v0.55h-0.55zM219.7,158.8h0.55v0.55h-0.55zM220.9,158.9h0.55v0.55h-0.55zM221.4,158.9h0.55v0.55h-0.55zM222.8,158.9h0.55v0.55h-0.55zM223.8,158.9h0.55v0.55h-0.55zM224.5,158.9h0.55v0.55h-0.55zM227.6,158.7h0.55v0.55h-0.55zM229.7,158.8h0.55v0.55h-0.55zM235.1,158.9h0.55v0.55h-0.55zM236.9,158.9h0.55v0.55h-0.55zM237.6,158.8h0.55v0.55h-0.55zM238.8,158.8h0.55v0.55h-0.55zM239.4,158.7h0.55v0.55h-0.55zM239.9,158.9h0.55v0.55h-0.55zM241.3,158.9h0.55v0.55h-0.55zM244.7,158.7h0.55v0.55h-0.55zM247.3,158.9h0.55v0.55h-0.55zM250.1,158.9h0.55v0.55h-0.55zM251.5,158.9h0.55v0.55h-0.55zM252.7,158.8h0.55v0.55h-0.55zM253.1,158.7h0.55v0.55h-0.55zM255.1,158.8h0.55v0.55h-0.55zM255.5,158.7h0.55v0.55h-0.55zM256.3,158.8h0.55v0.55h-0.55zM258.1,159.0h0.55v0.55h-0.55zM258.8,158.9h0.55v0.55h-0.55zM261.6,158.8h0.55v0.55h-0.55zM264.6,158.9h0.55v0.55h-0.55zM265.8,158.8h0.55v0.55h-0.55zM270.0,158.8h0.55v0.55h-0.55zM216.6,159.4h0.55v0.55h-0.55zM217.8,159.4h0.55v0.55h-0.55zM224.0,159.4h0.55v0.55h-0.55zM224.4,159.4h0.55v0.55h-0.55zM224.9,159.5h0.55v0.55h-0.55zM225.7,159.4h0.55v0.55h-0.55zM235.3,159.4h0.55v0.55h-0.55zM235.9,159.3h0.55v0.55h-0.55zM236.4,159.4h0.55v0.55h-0.55zM237.1,159.5h0.55v0.55h-0.55zM238.2,159.4h0.55v0.55h-0.55zM238.8,159.3h0.55v0.55h-0.55zM243.0,159.4h0.55v0.55h-0.55zM244.1,159.3h0.55v0.55h-0.55zM246.1,159.4h0.55v0.55h-0.55zM247.9,159.5h0.55v0.55h-0.55zM249.0,159.5h0.55v0.55h-0.55zM250.9,159.5h0.55v0.55h-0.55zM253.2,159.5h0.55v0.55h-0.55zM258.6,159.5h0.55v0.55h-0.55zM262.8,159.5h0.55v0.55h-0.55zM263.9,159.5h0.55v0.55h-0.55zM270.0,159.3h0.55v0.55h-0.55zM214.8,160.0h0.55v0.55h-0.55zM217.8,159.9h0.55v0.55h-0.55zM219.7,160.0h0.55v0.55h-0.55zM220.8,160.1h0.55v0.55h-0.55zM221.5,159.9h0.55v0.55h-0.55zM222.1,160.0h0.55v0.55h-0.55zM222.6,160.2h0.55v0.55h-0.55zM223.7,160.0h0.55v0.55h-0.55zM224.4,160.0h0.55v0.55h-0.55zM225.6,160.2h0.55v0.55h-0.55zM233.9,160.0h0.55v0.55h-0.55zM234.7,159.9h0.55v0.55h-0.55zM236.3,160.0h0.55v0.55h-0.55zM236.9,160.2h0.55v0.55h-0.55zM237.6,160.1h0.55v0.55h-0.55zM240.7,160.0h0.55v0.55h-0.55zM241.3,160.1h0.55v0.55h-0.55zM243.6,160.1h0.55v0.55h-0.55zM244.8,159.9h0.55v0.55h-0.55zM247.9,160.1h0.55v0.55h-0.55zM248.3,160.1h0.55v0.55h-0.55zM255.7,159.9h0.55v0.55h-0.55zM258.6,160.0h0.55v0.55h-0.55zM263.9,160.1h0.55v0.55h-0.55zM217.3,160.6h0.55v0.55h-0.55zM218.4,160.8h0.55v0.55h-0.55zM219.0,160.8h0.55v0.55h-0.55zM220.3,160.5h0.55v0.55h-0.55zM222.0,160.6h0.55v0.55h-0.55zM223.1,160.5h0.55v0.55h-0.55zM224.5,160.7h0.55v0.55h-0.55zM229.3,160.7h0.55v0.55h-0.55zM233.3,160.8h0.55v0.55h-0.55zM237.8,160.5h0.55v0.55h-0.55zM240.1,160.6h0.55v0.55h-0.55zM241.3,160.6h0.55v0.55h-0.55zM244.3,160.6h0.55v0.55h-0.55zM259.4,160.5h0.55v0.55h-0.55zM260.9,160.7h0.55v0.55h-0.55zM216.7,161.3h0.55v0.55h-0.55zM220.9,161.1h0.55v0.55h-0.55zM222.1,161.3h0.55v0.55h-0.55zM223.7,161.3h0.55v0.55h-0.55zM243.2,161.2h0.55v0.55h-0.55zM245.4,161.2h0.55v0.55h-0.55zM247.7,161.2h0.55v0.55h-0.55zM260.5,161.1h0.55v0.55h-0.55zM216.7,161.9h0.55v0.55h-0.55zM218.5,161.8h0.55v0.55h-0.55zM219.1,161.8h0.55v0.55h-0.55zM219.6,161.7h0.55v0.55h-0.55zM224.5,161.7h0.55v0.55h-0.55zM225.0,161.7h0.55v0.55h-0.55zM226.9,161.7h0.55v0.55h-0.55zM234.6,161.7h0.55v0.55h-0.55zM248.9,161.8h0.55v0.55h-0.55zM217.3,162.6h0.55v0.55h-0.55zM217.7,162.3h0.55v0.55h-0.55zM218.4,162.6h0.55v0.55h-0.55zM219.7,162.5h0.55v0.55h-0.55zM220.7,162.4h0.55v0.55h-0.55zM222.1,162.4h0.55v0.55h-0.55zM222.5,162.4h0.55v0.55h-0.55zM225.0,162.4h0.55v0.55h-0.55zM238.8,162.4h0.55v0.55h-0.55zM239.9,162.5h0.55v0.55h-0.55zM243.0,162.6h0.55v0.55h-0.55zM249.1,162.4h0.55v0.55h-0.55zM219.7,163.2h0.55v0.55h-0.55zM221.4,163.2h0.55v0.55h-0.55zM222.1,163.1h0.55v0.55h-0.55zM222.6,163.1h0.55v0.55h-0.55zM225.0,163.1h0.55v0.55h-0.55zM217.9,163.7h0.55v0.55h-0.55zM222.0,163.7h0.55v0.55h-0.55zM223.3,163.7h0.55v0.55h-0.55zM226.8,163.7h0.55v0.55h-0.55zM227.3,163.5h0.55v0.55h-0.55zM232.4,163.7h0.55v0.55h-0.55zM239.5,163.6h0.55v0.55h-0.55zM241.3,163.5h0.55v0.55h-0.55zM220.1,164.3h0.55v0.55h-0.55zM220.9,164.1h0.55v0.55h-0.55zM222.1,164.3h0.55v0.55h-0.55zM238.2,164.2h0.55v0.55h-0.55zM239.6,164.1h0.55v0.55h-0.55zM243.7,164.3h0.55v0.55h-0.55zM216.5,165.0h0.55v0.55h-0.55zM217.9,164.7h0.55v0.55h-0.55zM219.7,164.8h0.55v0.55h-0.55zM220.7,164.8h0.55v0.55h-0.55zM221.3,164.7h0.55v0.55h-0.55zM222.5,164.9h0.55v0.55h-0.55zM223.2,164.8h0.55v0.55h-0.55zM220.2,165.3h0.55v0.55h-0.55zM224.3,165.5h0.55v0.55h-0.55zM224.9,165.6h0.55v0.55h-0.55zM236.0,165.4h0.55v0.55h-0.55zM225.1,166.7h0.55v0.55h-0.55zM220.2,167.3h0.55v0.55h-0.55zM225.6,167.3h0.55v0.55h-0.55z" fill="#111"/>
<path d="M213.9,139.0 L213.9,164.5" fill="none" stroke="#111" stroke-width="2.4" stroke-linejoin="round" stroke-linecap="round"/>
<path d="M214.6,140.2 L216.5,142.0" fill="none" stroke="#222" stroke-width="1.4" stroke-linejoin="round" stroke-linecap="round"/>
<path d="M216,141.6 L222,141.9 L230,140.4 L238,138.2 L243.5,136.3" fill="none" stroke="#444" stroke-width="0.7" stroke-linejoin="round" stroke-linecap="round"/>
<path d="M216.5,149.2 L224,149.0 L231,147.2 L238,144.2 L241.2,142.5" fill="none" stroke="#111" stroke-width="1.3" stroke-linejoin="round" stroke-linecap="round"/>
<path d="M241.2,142.5 L236.1,148.3 L230,155.5 L223.4,162.6" fill="none" stroke="#111" stroke-width="1.5" stroke-linejoin="round" stroke-linecap="round"/>
<path d="M234,161.2 L250,160.6 L262,157.6 L270,154" fill="none" stroke="#222" stroke-width="0.8" stroke-linejoin="round" stroke-linecap="round"/>
<path d="M240.5,156.8 L248.5,151.5 L256.5,146.0 L266,140.8" fill="none" stroke="#111" stroke-width="1.2" stroke-linejoin="round" stroke-linecap="round"/>
<path d="M242.5,161.4 L250.5,157.0 L259.5,151.0 L268,144.6" fill="none" stroke="#1a1a1a" stroke-width="1.1" stroke-linejoin="round" stroke-linecap="round"/>
<path d="M243,137.2 L249.5,138.6" fill="none" stroke="#222" stroke-width="1.6" stroke-linejoin="round" stroke-linecap="round"/>
</g>
<g filter="url(#sb)"><path d="M221.3,201.2h0.55v0.55h-0.55zM227.5,201.3h0.55v0.55h-0.55zM241.3,201.2h0.55v0.55h-0.55zM214.3,201.8h0.55v0.55h-0.55zM214.8,201.7h0.55v0.55h-0.55zM216.7,201.9h0.55v0.55h-0.55zM223.8,201.9h0.55v0.55h-0.55zM224.5,201.9h0.55v0.55h-0.55zM225.0,201.8h0.55v0.55h-0.55zM231.1,201.9h0.55v0.55h-0.55zM243.0,201.7h0.55v0.55h-0.55zM253.4,201.9h0.55v0.55h-0.55zM235.4,202.5h0.55v0.55h-0.55zM243.1,202.5h0.55v0.55h-0.55zM246.1,202.3h0.55v0.55h-0.55zM253.4,202.3h0.55v0.55h-0.55zM226.8,202.9h0.55v0.55h-0.55zM228.7,203.0h0.55v0.55h-0.55zM230.6,203.0h0.55v0.55h-0.55zM252.7,203.0h0.55v0.55h-0.55zM256.3,202.9h0.55v0.55h-0.55zM216.0,203.7h0.55v0.55h-0.55zM222.7,203.7h0.55v0.55h-0.55zM229.2,203.5h0.55v0.55h-0.55zM229.9,203.7h0.55v0.55h-0.55zM235.1,203.7h0.55v0.55h-0.55zM240.6,203.6h0.55v0.55h-0.55zM244.2,203.6h0.55v0.55h-0.55zM244.9,203.6h0.55v0.55h-0.55zM250.3,203.7h0.55v0.55h-0.55zM253.1,203.7h0.55v0.55h-0.55zM258.0,203.6h0.55v0.55h-0.55zM263.3,203.6h0.55v0.55h-0.55zM215.5,204.3h0.55v0.55h-0.55zM221.5,204.3h0.55v0.55h-0.55zM223.4,204.1h0.55v0.55h-0.55zM228.5,204.2h0.55v0.55h-0.55zM241.1,204.3h0.55v0.55h-0.55zM245.9,204.3h0.55v0.55h-0.55zM262.7,204.1h0.55v0.55h-0.55zM214.9,204.9h0.55v0.55h-0.55zM220.9,204.9h0.55v0.55h-0.55zM227.5,204.7h0.55v0.55h-0.55zM234.2,204.9h0.55v0.55h-0.55zM237.0,204.9h0.55v0.55h-0.55zM249.1,204.7h0.55v0.55h-0.55zM252.0,204.8h0.55v0.55h-0.55zM253.8,204.8h0.55v0.55h-0.55zM258.7,204.8h0.55v0.55h-0.55zM262.8,204.8h0.55v0.55h-0.55zM266.4,204.9h0.55v0.55h-0.55zM270.6,204.9h0.55v0.55h-0.55zM213.5,205.4h0.55v0.55h-0.55zM214.9,205.3h0.55v0.55h-0.55zM219.1,205.3h0.55v0.55h-0.55zM223.2,205.5h0.55v0.55h-0.55zM223.9,205.4h0.55v0.55h-0.55zM224.4,205.5h0.55v0.55h-0.55zM234.0,205.3h0.55v0.55h-0.55zM235.3,205.6h0.55v0.55h-0.55zM237.7,205.3h0.55v0.55h-0.55zM238.9,205.6h0.55v0.55h-0.55zM241.3,205.5h0.55v0.55h-0.55zM241.7,205.4h0.55v0.55h-0.55zM252.0,205.5h0.55v0.55h-0.55zM255.6,205.5h0.55v0.55h-0.55zM258.6,205.6h0.55v0.55h-0.55zM265.1,205.5h0.55v0.55h-0.55zM213.5,206.1h0.55v0.55h-0.55zM214.8,205.9h0.55v0.55h-0.55zM222.5,206.0h0.55v0.55h-0.55zM225.0,206.0h0.55v0.55h-0.55zM227.3,206.2h0.55v0.55h-0.55zM229.2,205.9h0.55v0.55h-0.55zM235.1,206.0h0.55v0.55h-0.55zM235.8,206.2h0.55v0.55h-0.55zM236.6,206.2h0.55v0.55h-0.55zM244.9,206.1h0.55v0.55h-0.55zM246.7,205.9h0.55v0.55h-0.55zM252.5,205.9h0.55v0.55h-0.55zM256.4,206.0h0.55v0.55h-0.55zM268.7,205.9h0.55v0.55h-0.55zM215.0,206.5h0.55v0.55h-0.55zM221.5,206.7h0.55v0.55h-0.55zM222.8,206.8h0.55v0.55h-0.55zM223.3,206.6h0.55v0.55h-0.55zM224.4,206.6h0.55v0.55h-0.55zM225.5,206.6h0.55v0.55h-0.55zM228.1,206.6h0.55v0.55h-0.55zM233.5,206.5h0.55v0.55h-0.55zM234.5,206.8h0.55v0.55h-0.55zM235.2,206.8h0.55v0.55h-0.55zM237.1,206.7h0.55v0.55h-0.55zM238.7,206.7h0.55v0.55h-0.55zM245.9,206.7h0.55v0.55h-0.55zM252.1,206.6h0.55v0.55h-0.55zM254.4,206.5h0.55v0.55h-0.55zM258.6,206.7h0.55v0.55h-0.55zM260.5,206.6h0.55v0.55h-0.55zM268.8,206.6h0.55v0.55h-0.55zM271.4,206.7h0.55v0.55h-0.55zM216.7,207.1h0.55v0.55h-0.55zM217.2,207.1h0.55v0.55h-0.55zM218.5,207.2h0.55v0.55h-0.55zM218.9,207.3h0.55v0.55h-0.55zM222.1,207.2h0.55v0.55h-0.55zM222.6,207.3h0.55v0.55h-0.55zM223.2,207.1h0.55v0.55h-0.55zM224.3,207.3h0.55v0.55h-0.55zM228.1,207.2h0.55v0.55h-0.55zM229.9,207.1h0.55v0.55h-0.55zM231.0,207.1h0.55v0.55h-0.55zM232.3,207.3h0.55v0.55h-0.55zM236.0,207.4h0.55v0.55h-0.55zM236.9,207.2h0.55v0.55h-0.55zM238.9,207.1h0.55v0.55h-0.55zM241.8,207.2h0.55v0.55h-0.55zM242.4,207.3h0.55v0.55h-0.55zM246.1,207.2h0.55v0.55h-0.55zM260.4,207.1h0.55v0.55h-0.55zM268.4,207.3h0.55v0.55h-0.55zM269.5,207.4h0.55v0.55h-0.55zM270.8,207.3h0.55v0.55h-0.55zM216.5,207.9h0.55v0.55h-0.55zM223.3,207.7h0.55v0.55h-0.55zM225.7,207.9h0.55v0.55h-0.55zM226.8,207.7h0.55v0.55h-0.55zM228.7,207.8h0.55v0.55h-0.55zM231.1,207.9h0.55v0.55h-0.55zM233.4,207.9h0.55v0.55h-0.55zM233.9,207.7h0.55v0.55h-0.55zM235.3,208.0h0.55v0.55h-0.55zM235.9,207.9h0.55v0.55h-0.55zM236.5,207.9h0.55v0.55h-0.55zM239.5,207.7h0.55v0.55h-0.55zM239.9,207.8h0.55v0.55h-0.55zM240.5,207.8h0.55v0.55h-0.55zM241.2,207.8h0.55v0.55h-0.55zM242.0,207.9h0.55v0.55h-0.55zM242.4,207.7h0.55v0.55h-0.55zM242.9,207.8h0.55v0.55h-0.55zM244.2,207.8h0.55v0.55h-0.55zM244.8,207.8h0.55v0.55h-0.55zM245.9,207.8h0.55v0.55h-0.55zM247.3,207.7h0.55v0.55h-0.55zM248.5,207.8h0.55v0.55h-0.55zM255.7,207.8h0.55v0.55h-0.55zM257.4,208.0h0.55v0.55h-0.55zM263.4,207.9h0.55v0.55h-0.55zM216.1,208.4h0.55v0.55h-0.55zM217.2,208.4h0.55v0.55h-0.55zM218.4,208.6h0.55v0.55h-0.55zM220.7,208.4h0.55v0.55h-0.55zM222.5,208.3h0.55v0.55h-0.55zM223.7,208.4h0.55v0.55h-0.55zM225.7,208.3h0.55v0.55h-0.55zM226.8,208.4h0.55v0.55h-0.55zM227.4,208.6h0.55v0.55h-0.55zM227.9,208.6h0.55v0.55h-0.55zM232.2,208.4h0.55v0.55h-0.55zM232.7,208.3h0.55v0.55h-0.55zM234.1,208.4h0.55v0.55h-0.55zM234.6,208.5h0.55v0.55h-0.55zM235.3,208.5h0.55v0.55h-0.55zM235.8,208.5h0.55v0.55h-0.55zM236.5,208.3h0.55v0.55h-0.55zM237.2,208.5h0.55v0.55h-0.55zM237.7,208.5h0.55v0.55h-0.55zM238.3,208.5h0.55v0.55h-0.55zM239.6,208.4h0.55v0.55h-0.55zM239.9,208.4h0.55v0.55h-0.55zM240.7,208.4h0.55v0.55h-0.55zM241.2,208.3h0.55v0.55h-0.55zM241.8,208.5h0.55v0.55h-0.55zM242.5,208.4h0.55v0.55h-0.55zM243.0,208.3h0.55v0.55h-0.55zM243.6,208.5h0.55v0.55h-0.55zM244.8,208.3h0.55v0.55h-0.55zM245.3,208.3h0.55v0.55h-0.55zM246.1,208.5h0.55v0.55h-0.55zM246.6,208.5h0.55v0.55h-0.55zM247.1,208.3h0.55v0.55h-0.55zM247.9,208.4h0.55v0.55h-0.55zM248.3,208.4h0.55v0.55h-0.55zM249.2,208.4h0.55v0.55h-0.55zM249.7,208.6h0.55v0.55h-0.55zM250.8,208.3h0.55v0.55h-0.55zM253.1,208.3h0.55v0.55h-0.55zM254.9,208.4h0.55v0.55h-0.55zM259.3,208.4h0.55v0.55h-0.55zM263.5,208.3h0.55v0.55h-0.55zM268.8,208.4h0.55v0.55h-0.55zM215.4,209.0h0.55v0.55h-0.55zM216.1,209.1h0.55v0.55h-0.55zM216.6,208.9h0.55v0.55h-0.55zM217.2,209.0h0.55v0.55h-0.55zM217.9,209.1h0.55v0.55h-0.55zM218.4,209.0h0.55v0.55h-0.55zM219.2,209.1h0.55v0.55h-0.55zM219.6,209.1h0.55v0.55h-0.55zM220.4,208.9h0.55v0.55h-0.55zM222.0,208.9h0.55v0.55h-0.55zM223.2,208.9h0.55v0.55h-0.55zM224.4,209.1h0.55v0.55h-0.55zM225.6,209.1h0.55v0.55h-0.55zM226.7,208.9h0.55v0.55h-0.55zM228.2,209.1h0.55v0.55h-0.55zM228.6,209.1h0.55v0.55h-0.55zM229.2,209.1h0.55v0.55h-0.55zM229.8,208.9h0.55v0.55h-0.55zM230.6,208.9h0.55v0.55h-0.55zM231.0,208.9h0.55v0.55h-0.55zM231.5,209.0h0.55v0.55h-0.55zM232.2,209.2h0.55v0.55h-0.55zM232.9,208.9h0.55v0.55h-0.55zM233.5,209.0h0.55v0.55h-0.55zM235.2,208.9h0.55v0.55h-0.55zM235.9,209.1h0.55v0.55h-0.55zM236.5,208.9h0.55v0.55h-0.55zM237.6,208.9h0.55v0.55h-0.55zM238.3,209.0h0.55v0.55h-0.55zM239.3,209.0h0.55v0.55h-0.55zM240.1,208.9h0.55v0.55h-0.55zM240.5,208.9h0.55v0.55h-0.55zM241.7,208.9h0.55v0.55h-0.55zM242.4,209.0h0.55v0.55h-0.55zM243.1,208.9h0.55v0.55h-0.55zM243.7,209.1h0.55v0.55h-0.55zM244.1,209.1h0.55v0.55h-0.55zM245.0,209.1h0.55v0.55h-0.55zM245.4,208.9h0.55v0.55h-0.55zM246.0,209.0h0.55v0.55h-0.55zM246.6,209.0h0.55v0.55h-0.55zM247.2,209.2h0.55v0.55h-0.55zM247.9,209.0h0.55v0.55h-0.55zM248.5,209.2h0.55v0.55h-0.55zM249.1,208.9h0.55v0.55h-0.55zM251.4,208.9h0.55v0.55h-0.55zM254.4,209.0h0.55v0.55h-0.55zM261.7,209.1h0.55v0.55h-0.55zM262.8,209.0h0.55v0.55h-0.55zM268.8,208.9h0.55v0.55h-0.55zM271.1,209.1h0.55v0.55h-0.55zM214.7,209.6h0.55v0.55h-0.55zM215.3,209.6h0.55v0.55h-0.55zM216.7,209.6h0.55v0.55h-0.55zM217.3,209.7h0.55v0.55h-0.55zM217.9,209.6h0.55v0.55h-0.55zM218.3,209.6h0.55v0.55h-0.55zM219.0,209.5h0.55v0.55h-0.55zM219.5,209.6h0.55v0.55h-0.55zM220.3,209.7h0.55v0.55h-0.55zM221.0,209.7h0.55v0.55h-0.55zM221.6,209.5h0.55v0.55h-0.55zM222.0,209.7h0.55v0.55h-0.55zM224.3,209.6h0.55v0.55h-0.55zM225.2,209.7h0.55v0.55h-0.55zM226.1,209.6h0.55v0.55h-0.55zM226.8,209.5h0.55v0.55h-0.55zM227.4,209.6h0.55v0.55h-0.55zM227.9,209.5h0.55v0.55h-0.55zM228.6,209.7h0.55v0.55h-0.55zM229.8,209.7h0.55v0.55h-0.55zM230.4,209.7h0.55v0.55h-0.55zM231.7,209.6h0.55v0.55h-0.55zM232.1,209.6h0.55v0.55h-0.55zM232.8,209.6h0.55v0.55h-0.55zM233.3,209.7h0.55v0.55h-0.55zM234.0,209.5h0.55v0.55h-0.55zM234.7,209.8h0.55v0.55h-0.55zM235.1,209.6h0.55v0.55h-0.55zM235.8,209.6h0.55v0.55h-0.55zM236.9,209.8h0.55v0.55h-0.55zM237.6,209.6h0.55v0.55h-0.55zM238.3,209.6h0.55v0.55h-0.55zM238.9,209.7h0.55v0.55h-0.55zM239.5,209.5h0.55v0.55h-0.55zM240.1,209.7h0.55v0.55h-0.55zM240.6,209.5h0.55v0.55h-0.55zM241.2,209.5h0.55v0.55h-0.55zM241.9,209.6h0.55v0.55h-0.55zM242.3,209.5h0.55v0.55h-0.55zM243.1,209.5h0.55v0.55h-0.55zM243.7,209.7h0.55v0.55h-0.55zM244.3,209.7h0.55v0.55h-0.55zM244.7,209.7h0.55v0.55h-0.55zM245.5,209.6h0.55v0.55h-0.55zM246.0,209.6h0.55v0.55h-0.55zM246.6,209.6h0.55v0.55h-0.55zM247.4,209.6h0.55v0.55h-0.55zM247.8,209.7h0.55v0.55h-0.55zM248.3,209.6h0.55v0.55h-0.55zM249.2,209.6h0.55v0.55h-0.55zM250.3,209.7h0.55v0.55h-0.55zM251.4,209.7h0.55v0.55h-0.55zM251.9,209.6h0.55v0.55h-0.55zM252.7,209.5h0.55v0.55h-0.55zM254.0,209.6h0.55v0.55h-0.55zM256.1,209.7h0.55v0.55h-0.55zM259.1,209.6h0.55v0.55h-0.55zM259.8,209.6h0.55v0.55h-0.55zM271.2,209.7h0.55v0.55h-0.55zM214.3,210.1h0.55v0.55h-0.55zM215.4,210.2h0.55v0.55h-0.55zM216.1,210.2h0.55v0.55h-0.55zM216.7,210.4h0.55v0.55h-0.55zM217.1,210.3h0.55v0.55h-0.55zM217.9,210.2h0.55v0.55h-0.55zM218.5,210.3h0.55v0.55h-0.55zM219.0,210.2h0.55v0.55h-0.55zM220.2,210.3h0.55v0.55h-0.55zM220.9,210.4h0.55v0.55h-0.55zM221.5,210.3h0.55v0.55h-0.55zM222.0,210.3h0.55v0.55h-0.55zM222.5,210.4h0.55v0.55h-0.55zM223.4,210.1h0.55v0.55h-0.55zM223.7,210.4h0.55v0.55h-0.55zM224.5,210.3h0.55v0.55h-0.55zM225.5,210.1h0.55v0.55h-0.55zM226.3,210.2h0.55v0.55h-0.55zM227.0,210.2h0.55v0.55h-0.55zM227.5,210.3h0.55v0.55h-0.55zM228.0,210.1h0.55v0.55h-0.55zM228.7,210.2h0.55v0.55h-0.55zM229.2,210.1h0.55v0.55h-0.55zM229.8,210.2h0.55v0.55h-0.55zM230.4,210.1h0.55v0.55h-0.55zM231.1,210.1h0.55v0.55h-0.55zM231.6,210.3h0.55v0.55h-0.55zM232.2,210.1h0.55v0.55h-0.55zM232.8,210.2h0.55v0.55h-0.55zM233.5,210.2h0.55v0.55h-0.55zM234.1,210.1h0.55v0.55h-0.55zM234.5,210.4h0.55v0.55h-0.55zM235.8,210.2h0.55v0.55h-0.55zM236.3,210.4h0.55v0.55h-0.55zM237.6,210.2h0.55v0.55h-0.55zM238.2,210.3h0.55v0.55h-0.55zM238.9,210.3h0.55v0.55h-0.55zM239.3,210.3h0.55v0.55h-0.55zM240.5,210.3h0.55v0.55h-0.55zM241.2,210.3h0.55v0.55h-0.55zM242.0,210.2h0.55v0.55h-0.55zM242.9,210.1h0.55v0.55h-0.55zM243.7,210.1h0.55v0.55h-0.55zM244.4,210.4h0.55v0.55h-0.55zM245.4,210.2h0.55v0.55h-0.55zM246.8,210.1h0.55v0.55h-0.55zM247.3,210.2h0.55v0.55h-0.55zM247.8,210.1h0.55v0.55h-0.55zM248.4,210.2h0.55v0.55h-0.55zM250.7,210.2h0.55v0.55h-0.55zM251.3,210.2h0.55v0.55h-0.55zM252.6,210.2h0.55v0.55h-0.55zM256.1,210.2h0.55v0.55h-0.55zM256.9,210.4h0.55v0.55h-0.55zM261.6,210.3h0.55v0.55h-0.55zM265.2,210.2h0.55v0.55h-0.55zM266.6,210.2h0.55v0.55h-0.55zM267.2,210.1h0.55v0.55h-0.55zM214.1,210.9h0.55v0.55h-0.55zM216.0,210.9h0.55v0.55h-0.55zM216.5,210.8h0.55v0.55h-0.55zM218.0,210.8h0.55v0.55h-0.55zM219.1,210.9h0.55v0.55h-0.55zM219.5,210.9h0.55v0.55h-0.55zM220.3,210.8h0.55v0.55h-0.55zM220.8,210.9h0.55v0.55h-0.55zM221.3,211.0h0.55v0.55h-0.55zM221.9,210.7h0.55v0.55h-0.55zM222.7,210.9h0.55v0.55h-0.55zM224.0,210.8h0.55v0.55h-0.55zM224.4,210.8h0.55v0.55h-0.55zM225.0,210.9h0.55v0.55h-0.55zM225.6,210.8h0.55v0.55h-0.55zM228.6,210.8h0.55v0.55h-0.55zM229.7,210.9h0.55v0.55h-0.55zM230.5,211.0h0.55v0.55h-0.55zM230.9,210.8h0.55v0.55h-0.55zM232.3,210.9h0.55v0.55h-0.55zM232.8,210.7h0.55v0.55h-0.55zM233.3,210.9h0.55v0.55h-0.55zM234.0,210.7h0.55v0.55h-0.55zM235.2,210.7h0.55v0.55h-0.55zM235.8,210.8h0.55v0.55h-0.55zM236.5,210.9h0.55v0.55h-0.55zM236.9,210.9h0.55v0.55h-0.55zM237.5,210.7h0.55v0.55h-0.55zM238.9,210.8h0.55v0.55h-0.55zM241.2,210.8h0.55v0.55h-0.55zM242.3,210.9h0.55v0.55h-0.55zM243.1,210.8h0.55v0.55h-0.55zM243.7,210.9h0.55v0.55h-0.55zM245.3,210.8h0.55v0.55h-0.55zM246.6,210.8h0.55v0.55h-0.55zM247.7,210.9h0.55v0.55h-0.55zM248.4,210.8h0.55v0.55h-0.55zM249.0,210.7h0.55v0.55h-0.55zM249.5,210.8h0.55v0.55h-0.55zM250.1,210.8h0.55v0.55h-0.55zM250.8,210.7h0.55v0.55h-0.55zM256.7,211.0h0.55v0.55h-0.55zM260.9,210.8h0.55v0.55h-0.55zM261.7,210.8h0.55v0.55h-0.55zM213.7,211.5h0.55v0.55h-0.55zM214.8,211.4h0.55v0.55h-0.55zM215.3,211.3h0.55v0.55h-0.55zM217.2,211.5h0.55v0.55h-0.55zM218.5,211.5h0.55v0.55h-0.55zM219.0,211.4h0.55v0.55h-0.55zM220.1,211.5h0.55v0.55h-0.55zM221.0,211.5h0.55v0.55h-0.55zM221.5,211.5h0.55v0.55h-0.55zM222.2,211.4h0.55v0.55h-0.55zM222.6,211.5h0.55v0.55h-0.55zM223.1,211.3h0.55v0.55h-0.55zM224.4,211.5h0.55v0.55h-0.55zM224.9,211.4h0.55v0.55h-0.55zM225.6,211.5h0.55v0.55h-0.55zM226.8,211.5h0.55v0.55h-0.55zM228.1,211.5h0.55v0.55h-0.55zM228.5,211.3h0.55v0.55h-0.55zM229.9,211.5h0.55v0.55h-0.55zM230.5,211.3h0.55v0.55h-0.55zM231.0,211.5h0.55v0.55h-0.55zM231.7,211.6h0.55v0.55h-0.55zM232.8,211.4h0.55v0.55h-0.55zM233.4,211.3h0.55v0.55h-0.55zM234.1,211.5h0.55v0.55h-0.55zM234.7,211.4h0.55v0.55h-0.55zM235.2,211.4h0.55v0.55h-0.55zM235.9,211.4h0.55v0.55h-0.55zM236.5,211.6h0.55v0.55h-0.55zM237.1,211.4h0.55v0.55h-0.55zM237.7,211.5h0.55v0.55h-0.55zM238.2,211.6h0.55v0.55h-0.55zM238.9,211.4h0.55v0.55h-0.55zM239.5,211.4h0.55v0.55h-0.55zM240.1,211.4h0.55v0.55h-0.55zM240.6,211.4h0.55v0.55h-0.55zM241.2,211.5h0.55v0.55h-0.55zM241.9,211.4h0.55v0.55h-0.55zM242.3,211.5h0.55v0.55h-0.55zM243.6,211.5h0.55v0.55h-0.55zM244.2,211.5h0.55v0.55h-0.55zM244.7,211.5h0.55v0.55h-0.55zM246.0,211.5h0.55v0.55h-0.55zM247.1,211.5h0.55v0.55h-0.55zM247.9,211.4h0.55v0.55h-0.55zM250.2,211.4h0.55v0.55h-0.55zM250.8,211.4h0.55v0.55h-0.55zM253.2,211.5h0.55v0.55h-0.55zM253.9,211.4h0.55v0.55h-0.55zM260.4,211.5h0.55v0.55h-0.55zM264.8,211.3h0.55v0.55h-0.55zM266.9,211.4h0.55v0.55h-0.55zM267.5,211.6h0.55v0.55h-0.55zM273.6,211.4h0.55v0.55h-0.55zM214.9,211.9h0.55v0.55h-0.55zM215.5,212.2h0.55v0.55h-0.55zM216.0,212.1h0.55v0.55h-0.55zM216.7,212.0h0.55v0.55h-0.55zM217.9,212.1h0.55v0.55h-0.55zM218.4,211.9h0.55v0.55h-0.55zM219.1,212.2h0.55v0.55h-0.55zM219.6,212.1h0.55v0.55h-0.55zM220.8,212.1h0.55v0.55h-0.55zM222.0,212.0h0.55v0.55h-0.55zM223.2,212.1h0.55v0.55h-0.55zM223.7,212.1h0.55v0.55h-0.55zM224.4,212.1h0.55v0.55h-0.55zM224.9,212.2h0.55v0.55h-0.55zM225.6,212.1h0.55v0.55h-0.55zM226.8,212.1h0.55v0.55h-0.55zM227.3,211.9h0.55v0.55h-0.55zM229.2,212.1h0.55v0.55h-0.55zM229.7,211.9h0.55v0.55h-0.55zM230.5,212.0h0.55v0.55h-0.55zM232.2,211.9h0.55v0.55h-0.55zM232.8,212.1h0.55v0.55h-0.55zM233.5,212.1h0.55v0.55h-0.55zM234.6,212.1h0.55v0.55h-0.55zM235.7,212.1h0.55v0.55h-0.55zM236.5,212.2h0.55v0.55h-0.55zM237.1,212.1h0.55v0.55h-0.55zM237.7,211.9h0.55v0.55h-0.55zM238.3,211.9h0.55v0.55h-0.55zM238.8,212.1h0.55v0.55h-0.55zM239.5,212.1h0.55v0.55h-0.55zM240.0,212.0h0.55v0.55h-0.55zM241.2,212.1h0.55v0.55h-0.55zM241.7,212.2h0.55v0.55h-0.55zM242.6,212.1h0.55v0.55h-0.55zM245.4,212.2h0.55v0.55h-0.55zM246.7,211.9h0.55v0.55h-0.55zM248.5,212.1h0.55v0.55h-0.55zM248.9,212.0h0.55v0.55h-0.55zM249.6,212.0h0.55v0.55h-0.55zM250.4,212.0h0.55v0.55h-0.55zM251.3,212.0h0.55v0.55h-0.55zM264.0,211.9h0.55v0.55h-0.55zM270.7,212.1h0.55v0.55h-0.55zM214.3,212.7h0.55v0.55h-0.55zM215.4,212.7h0.55v0.55h-0.55zM216.1,212.8h0.55v0.55h-0.55zM216.6,212.7h0.55v0.55h-0.55zM217.1,212.6h0.55v0.55h-0.55zM217.8,212.5h0.55v0.55h-0.55zM219.7,212.5h0.55v0.55h-0.55zM220.8,212.7h0.55v0.55h-0.55zM221.6,212.7h0.55v0.55h-0.55zM222.1,212.6h0.55v0.55h-0.55zM223.7,212.5h0.55v0.55h-0.55zM224.4,212.6h0.55v0.55h-0.55zM225.6,212.5h0.55v0.55h-0.55zM226.1,212.7h0.55v0.55h-0.55zM227.0,212.6h0.55v0.55h-0.55zM227.3,212.8h0.55v0.55h-0.55zM227.9,212.7h0.55v0.55h-0.55zM229.3,212.5h0.55v0.55h-0.55zM229.7,212.6h0.55v0.55h-0.55zM230.6,212.5h0.55v0.55h-0.55zM231.2,212.6h0.55v0.55h-0.55zM231.7,212.7h0.55v0.55h-0.55zM232.2,212.8h0.55v0.55h-0.55zM234.0,212.6h0.55v0.55h-0.55zM234.7,212.6h0.55v0.55h-0.55zM235.3,212.6h0.55v0.55h-0.55zM236.6,212.8h0.55v0.55h-0.55zM237.1,212.7h0.55v0.55h-0.55zM237.5,212.5h0.55v0.55h-0.55zM238.3,212.5h0.55v0.55h-0.55zM238.9,212.6h0.55v0.55h-0.55zM240.7,212.6h0.55v0.55h-0.55zM241.9,212.6h0.55v0.55h-0.55zM242.4,212.5h0.55v0.55h-0.55zM243.1,212.7h0.55v0.55h-0.55zM244.3,212.7h0.55v0.55h-0.55zM245.5,212.6h0.55v0.55h-0.55zM246.0,212.8h0.55v0.55h-0.55zM246.6,212.7h0.55v0.55h-0.55zM247.3,212.5h0.55v0.55h-0.55zM247.9,212.7h0.55v0.55h-0.55zM248.9,212.5h0.55v0.55h-0.55zM250.2,212.6h0.55v0.55h-0.55zM250.8,212.8h0.55v0.55h-0.55zM257.3,212.6h0.55v0.55h-0.55zM259.8,212.5h0.55v0.55h-0.55zM260.5,212.6h0.55v0.55h-0.55zM264.7,212.5h0.55v0.55h-0.55zM267.1,212.6h0.55v0.55h-0.55zM268.3,212.6h0.55v0.55h-0.55zM216.0,213.1h0.55v0.55h-0.55zM216.7,213.2h0.55v0.55h-0.55zM217.2,213.3h0.55v0.55h-0.55zM218.9,213.2h0.55v0.55h-0.55zM219.8,213.3h0.55v0.55h-0.55zM220.3,213.1h0.55v0.55h-0.55zM220.9,213.2h0.55v0.55h-0.55zM222.1,213.4h0.55v0.55h-0.55zM223.3,213.1h0.55v0.55h-0.55zM223.7,213.2h0.55v0.55h-0.55zM224.4,213.4h0.55v0.55h-0.55zM225.1,213.1h0.55v0.55h-0.55zM225.5,213.3h0.55v0.55h-0.55zM226.3,213.2h0.55v0.55h-0.55zM226.8,213.1h0.55v0.55h-0.55zM227.5,213.2h0.55v0.55h-0.55zM227.9,213.3h0.55v0.55h-0.55zM228.6,213.4h0.55v0.55h-0.55zM229.1,213.2h0.55v0.55h-0.55zM229.7,213.3h0.55v0.55h-0.55zM230.5,213.3h0.55v0.55h-0.55zM230.9,213.2h0.55v0.55h-0.55zM232.3,213.2h0.55v0.55h-0.55zM232.8,213.2h0.55v0.55h-0.55zM234.1,213.2h0.55v0.55h-0.55zM234.8,213.3h0.55v0.55h-0.55zM235.3,213.3h0.55v0.55h-0.55zM237.8,213.3h0.55v0.55h-0.55zM238.1,213.4h0.55v0.55h-0.55zM238.8,213.3h0.55v0.55h-0.55zM241.2,213.2h0.55v0.55h-0.55zM241.9,213.1h0.55v0.55h-0.55zM242.6,213.2h0.55v0.55h-0.55zM243.1,213.3h0.55v0.55h-0.55zM243.5,213.3h0.55v0.55h-0.55zM244.7,213.1h0.55v0.55h-0.55zM245.3,213.3h0.55v0.55h-0.55zM246.0,213.2h0.55v0.55h-0.55zM246.6,213.3h0.55v0.55h-0.55zM247.7,213.1h0.55v0.55h-0.55zM248.5,213.2h0.55v0.55h-0.55zM249.7,213.2h0.55v0.55h-0.55zM255.7,213.1h0.55v0.55h-0.55zM256.9,213.3h0.55v0.55h-0.55zM260.0,213.2h0.55v0.55h-0.55zM265.7,213.3h0.55v0.55h-0.55zM268.8,213.3h0.55v0.55h-0.55zM214.7,213.9h0.55v0.55h-0.55zM215.5,213.8h0.55v0.55h-0.55zM216.2,213.8h0.55v0.55h-0.55zM216.5,213.9h0.55v0.55h-0.55zM217.1,213.7h0.55v0.55h-0.55zM217.8,213.8h0.55v0.55h-0.55zM218.6,213.7h0.55v0.55h-0.55zM219.0,213.8h0.55v0.55h-0.55zM220.3,213.8h0.55v0.55h-0.55zM220.9,213.8h0.55v0.55h-0.55zM221.5,213.7h0.55v0.55h-0.55zM222.1,213.7h0.55v0.55h-0.55zM222.6,213.9h0.55v0.55h-0.55zM223.4,213.8h0.55v0.55h-0.55zM223.9,213.9h0.55v0.55h-0.55zM224.4,214.0h0.55v0.55h-0.55zM225.1,213.7h0.55v0.55h-0.55zM225.8,213.7h0.55v0.55h-0.55zM226.9,213.9h0.55v0.55h-0.55zM227.3,213.8h0.55v0.55h-0.55zM227.9,214.0h0.55v0.55h-0.55zM228.6,213.7h0.55v0.55h-0.55zM229.3,213.7h0.55v0.55h-0.55zM229.8,213.8h0.55v0.55h-0.55zM230.6,213.9h0.55v0.55h-0.55zM231.1,213.8h0.55v0.55h-0.55zM231.7,214.0h0.55v0.55h-0.55zM232.1,214.0h0.55v0.55h-0.55zM233.3,213.9h0.55v0.55h-0.55zM233.9,213.9h0.55v0.55h-0.55zM235.2,213.8h0.55v0.55h-0.55zM236.4,213.9h0.55v0.55h-0.55zM237.0,213.9h0.55v0.55h-0.55zM237.8,213.8h0.55v0.55h-0.55zM238.3,213.8h0.55v0.55h-0.55zM238.9,214.0h0.55v0.55h-0.55zM239.3,213.7h0.55v0.55h-0.55zM240.1,213.7h0.55v0.55h-0.55zM240.5,214.0h0.55v0.55h-0.55zM241.4,213.7h0.55v0.55h-0.55zM242.5,214.0h0.55v0.55h-0.55zM243.6,213.8h0.55v0.55h-0.55zM244.1,213.7h0.55v0.55h-0.55zM244.7,213.9h0.55v0.55h-0.55zM246.0,213.9h0.55v0.55h-0.55zM246.6,213.9h0.55v0.55h-0.55zM247.2,213.7h0.55v0.55h-0.55zM249.0,213.7h0.55v0.55h-0.55zM250.2,214.0h0.55v0.55h-0.55zM250.8,214.0h0.55v0.55h-0.55zM254.3,213.7h0.55v0.55h-0.55zM257.5,213.7h0.55v0.55h-0.55zM258.2,213.9h0.55v0.55h-0.55zM258.6,214.0h0.55v0.55h-0.55zM260.5,213.7h0.55v0.55h-0.55zM265.8,213.9h0.55v0.55h-0.55zM266.5,213.7h0.55v0.55h-0.55zM214.3,214.4h0.55v0.55h-0.55zM217.1,214.3h0.55v0.55h-0.55zM217.9,214.6h0.55v0.55h-0.55zM218.5,214.5h0.55v0.55h-0.55zM218.9,214.4h0.55v0.55h-0.55zM219.6,214.5h0.55v0.55h-0.55zM220.2,214.3h0.55v0.55h-0.55zM221.5,214.5h0.55v0.55h-0.55zM222.1,214.5h0.55v0.55h-0.55zM222.7,214.3h0.55v0.55h-0.55zM223.3,214.4h0.55v0.55h-0.55zM224.3,214.6h0.55v0.55h-0.55zM226.3,214.5h0.55v0.55h-0.55zM227.5,214.5h0.55v0.55h-0.55zM228.5,214.5h0.55v0.55h-0.55zM229.2,214.5h0.55v0.55h-0.55zM230.3,214.5h0.55v0.55h-0.55zM231.0,214.5h0.55v0.55h-0.55zM231.7,214.4h0.55v0.55h-0.55zM232.9,214.4h0.55v0.55h-0.55zM233.4,214.5h0.55v0.55h-0.55zM234.1,214.4h0.55v0.55h-0.55zM234.5,214.4h0.55v0.55h-0.55zM235.3,214.5h0.55v0.55h-0.55zM235.8,214.3h0.55v0.55h-0.55zM236.4,214.5h0.55v0.55h-0.55zM237.2,214.5h0.55v0.55h-0.55zM237.7,214.4h0.55v0.55h-0.55zM238.2,214.4h0.55v0.55h-0.55zM238.9,214.4h0.55v0.55h-0.55zM239.4,214.4h0.55v0.55h-0.55zM240.0,214.3h0.55v0.55h-0.55zM240.5,214.4h0.55v0.55h-0.55zM241.3,214.3h0.55v0.55h-0.55zM241.8,214.4h0.55v0.55h-0.55zM242.4,214.4h0.55v0.55h-0.55zM243.2,214.4h0.55v0.55h-0.55zM243.7,214.3h0.55v0.55h-0.55zM244.9,214.3h0.55v0.55h-0.55zM245.9,214.4h0.55v0.55h-0.55zM246.6,214.4h0.55v0.55h-0.55zM247.3,214.4h0.55v0.55h-0.55zM247.9,214.6h0.55v0.55h-0.55zM248.4,214.4h0.55v0.55h-0.55zM264.6,214.4h0.55v0.55h-0.55zM265.3,214.4h0.55v0.55h-0.55zM265.8,214.3h0.55v0.55h-0.55zM267.6,214.5h0.55v0.55h-0.55zM273.0,214.4h0.55v0.55h-0.55zM214.8,215.2h0.55v0.55h-0.55zM215.4,215.0h0.55v0.55h-0.55zM216.0,215.1h0.55v0.55h-0.55zM217.2,214.9h0.55v0.55h-0.55zM217.9,215.1h0.55v0.55h-0.55zM218.4,214.9h0.55v0.55h-0.55zM219.0,215.1h0.55v0.55h-0.55zM219.5,215.1h0.55v0.55h-0.55zM220.7,215.1h0.55v0.55h-0.55zM222.7,214.9h0.55v0.55h-0.55zM223.3,215.2h0.55v0.55h-0.55zM224.4,214.9h0.55v0.55h-0.55zM224.9,215.0h0.55v0.55h-0.55zM225.7,215.1h0.55v0.55h-0.55zM226.2,215.0h0.55v0.55h-0.55zM226.7,215.1h0.55v0.55h-0.55zM227.4,215.1h0.55v0.55h-0.55zM229.7,215.1h0.55v0.55h-0.55zM231.1,215.0h0.55v0.55h-0.55zM232.2,214.9h0.55v0.55h-0.55zM232.7,215.2h0.55v0.55h-0.55zM233.3,215.0h0.55v0.55h-0.55zM234.1,214.9h0.55v0.55h-0.55zM234.5,215.1h0.55v0.55h-0.55zM235.2,215.1h0.55v0.55h-0.55zM236.4,215.2h0.55v0.55h-0.55zM237.1,214.9h0.55v0.55h-0.55zM237.6,215.2h0.55v0.55h-0.55zM238.2,215.1h0.55v0.55h-0.55zM238.8,214.9h0.55v0.55h-0.55zM239.9,215.2h0.55v0.55h-0.55zM240.7,215.1h0.55v0.55h-0.55zM241.3,215.1h0.55v0.55h-0.55zM242.3,214.9h0.55v0.55h-0.55zM243.0,215.2h0.55v0.55h-0.55zM243.6,215.0h0.55v0.55h-0.55zM244.8,215.1h0.55v0.55h-0.55zM245.9,215.1h0.55v0.55h-0.55zM246.7,215.0h0.55v0.55h-0.55zM247.2,214.9h0.55v0.55h-0.55zM249.1,214.9h0.55v0.55h-0.55zM249.7,214.9h0.55v0.55h-0.55zM251.9,215.0h0.55v0.55h-0.55zM253.2,215.0h0.55v0.55h-0.55zM259.7,215.1h0.55v0.55h-0.55zM260.5,215.0h0.55v0.55h-0.55zM264.6,215.0h0.55v0.55h-0.55zM267.0,214.9h0.55v0.55h-0.55zM214.7,215.6h0.55v0.55h-0.55zM215.3,215.8h0.55v0.55h-0.55zM217.3,215.7h0.55v0.55h-0.55zM217.9,215.6h0.55v0.55h-0.55zM218.4,215.8h0.55v0.55h-0.55zM219.8,215.7h0.55v0.55h-0.55zM220.3,215.6h0.55v0.55h-0.55zM220.9,215.8h0.55v0.55h-0.55zM221.3,215.6h0.55v0.55h-0.55zM222.0,215.5h0.55v0.55h-0.55zM222.7,215.8h0.55v0.55h-0.55zM223.2,215.5h0.55v0.55h-0.55zM223.8,215.7h0.55v0.55h-0.55zM224.3,215.7h0.55v0.55h-0.55zM225.0,215.8h0.55v0.55h-0.55zM225.5,215.5h0.55v0.55h-0.55zM226.1,215.7h0.55v0.55h-0.55zM226.8,215.7h0.55v0.55h-0.55zM228.5,215.7h0.55v0.55h-0.55zM229.4,215.6h0.55v0.55h-0.55zM229.8,215.6h0.55v0.55h-0.55zM231.7,215.6h0.55v0.55h-0.55zM232.3,215.6h0.55v0.55h-0.55zM232.7,215.7h0.55v0.55h-0.55zM233.3,215.6h0.55v0.55h-0.55zM234.2,215.6h0.55v0.55h-0.55zM235.3,215.8h0.55v0.55h-0.55zM235.8,215.5h0.55v0.55h-0.55zM238.1,215.5h0.55v0.55h-0.55zM240.6,215.6h0.55v0.55h-0.55zM241.2,215.5h0.55v0.55h-0.55zM245.6,215.5h0.55v0.55h-0.55zM247.3,215.7h0.55v0.55h-0.55zM247.8,215.6h0.55v0.55h-0.55zM249.6,215.6h0.55v0.55h-0.55zM250.3,215.6h0.55v0.55h-0.55zM250.9,215.6h0.55v0.55h-0.55zM254.0,215.7h0.55v0.55h-0.55zM255.8,215.6h0.55v0.55h-0.55zM259.7,215.5h0.55v0.55h-0.55zM264.0,215.7h0.55v0.55h-0.55zM266.4,215.6h0.55v0.55h-0.55zM270.1,215.5h0.55v0.55h-0.55zM215.4,216.3h0.55v0.55h-0.55zM215.9,216.1h0.55v0.55h-0.55zM216.5,216.1h0.55v0.55h-0.55zM217.9,216.2h0.55v0.55h-0.55zM219.7,216.2h0.55v0.55h-0.55zM220.2,216.3h0.55v0.55h-0.55zM222.1,216.1h0.55v0.55h-0.55zM222.5,216.3h0.55v0.55h-0.55zM223.3,216.2h0.55v0.55h-0.55zM224.5,216.1h0.55v0.55h-0.55zM226.8,216.3h0.55v0.55h-0.55zM227.3,216.1h0.55v0.55h-0.55zM228.0,216.2h0.55v0.55h-0.55zM228.8,216.1h0.55v0.55h-0.55zM229.2,216.2h0.55v0.55h-0.55zM229.8,216.4h0.55v0.55h-0.55zM230.4,216.2h0.55v0.55h-0.55zM231.5,216.2h0.55v0.55h-0.55zM232.3,216.1h0.55v0.55h-0.55zM232.7,216.3h0.55v0.55h-0.55zM233.5,216.2h0.55v0.55h-0.55zM233.9,216.1h0.55v0.55h-0.55zM234.6,216.4h0.55v0.55h-0.55zM235.2,216.1h0.55v0.55h-0.55zM235.7,216.2h0.55v0.55h-0.55zM237.2,216.1h0.55v0.55h-0.55zM237.7,216.3h0.55v0.55h-0.55zM239.6,216.4h0.55v0.55h-0.55zM240.0,216.1h0.55v0.55h-0.55zM247.7,216.3h0.55v0.55h-0.55zM249.7,216.2h0.55v0.55h-0.55zM251.4,216.2h0.55v0.55h-0.55zM254.9,216.3h0.55v0.55h-0.55zM257.4,216.3h0.55v0.55h-0.55zM258.6,216.3h0.55v0.55h-0.55zM268.2,216.1h0.55v0.55h-0.55zM214.4,216.7h0.55v0.55h-0.55zM214.9,216.8h0.55v0.55h-0.55zM215.6,216.7h0.55v0.55h-0.55zM216.0,216.9h0.55v0.55h-0.55zM216.6,216.8h0.55v0.55h-0.55zM217.2,216.8h0.55v0.55h-0.55zM217.7,216.9h0.55v0.55h-0.55zM218.4,216.7h0.55v0.55h-0.55zM218.9,216.8h0.55v0.55h-0.55zM219.8,216.9h0.55v0.55h-0.55zM220.2,216.8h0.55v0.55h-0.55zM220.8,216.8h0.55v0.55h-0.55zM221.4,216.9h0.55v0.55h-0.55zM221.9,216.7h0.55v0.55h-0.55zM222.8,216.8h0.55v0.55h-0.55zM223.3,216.9h0.55v0.55h-0.55zM223.7,216.9h0.55v0.55h-0.55zM226.3,216.8h0.55v0.55h-0.55zM227.4,217.0h0.55v0.55h-0.55zM228.1,216.9h0.55v0.55h-0.55zM228.7,216.9h0.55v0.55h-0.55zM229.3,216.7h0.55v0.55h-0.55zM229.8,216.7h0.55v0.55h-0.55zM230.4,216.9h0.55v0.55h-0.55zM230.9,216.7h0.55v0.55h-0.55zM231.5,216.9h0.55v0.55h-0.55zM232.1,216.9h0.55v0.55h-0.55zM233.5,216.9h0.55v0.55h-0.55zM234.1,216.7h0.55v0.55h-0.55zM234.6,216.8h0.55v0.55h-0.55zM235.9,216.9h0.55v0.55h-0.55zM236.4,216.8h0.55v0.55h-0.55zM238.8,216.9h0.55v0.55h-0.55zM247.7,216.9h0.55v0.55h-0.55zM248.4,216.7h0.55v0.55h-0.55zM248.9,216.7h0.55v0.55h-0.55zM249.5,216.9h0.55v0.55h-0.55zM250.2,216.8h0.55v0.55h-0.55zM250.7,216.7h0.55v0.55h-0.55zM251.5,216.9h0.55v0.55h-0.55zM254.0,216.8h0.55v0.55h-0.55zM255.1,216.9h0.55v0.55h-0.55zM259.1,216.7h0.55v0.55h-0.55zM261.0,216.8h0.55v0.55h-0.55zM214.8,217.4h0.55v0.55h-0.55zM215.4,217.6h0.55v0.55h-0.55zM217.8,217.6h0.55v0.55h-0.55zM218.9,217.3h0.55v0.55h-0.55zM219.6,217.5h0.55v0.55h-0.55zM220.3,217.4h0.55v0.55h-0.55zM220.8,217.5h0.55v0.55h-0.55zM221.4,217.3h0.55v0.55h-0.55zM222.6,217.3h0.55v0.55h-0.55zM223.2,217.5h0.55v0.55h-0.55zM223.8,217.5h0.55v0.55h-0.55zM224.5,217.6h0.55v0.55h-0.55zM224.9,217.4h0.55v0.55h-0.55zM225.8,217.3h0.55v0.55h-0.55zM227.4,217.4h0.55v0.55h-0.55zM228.0,217.5h0.55v0.55h-0.55zM229.1,217.5h0.55v0.55h-0.55zM230.3,217.4h0.55v0.55h-0.55zM231.1,217.4h0.55v0.55h-0.55zM232.4,217.4h0.55v0.55h-0.55zM232.8,217.3h0.55v0.55h-0.55zM233.5,217.5h0.55v0.55h-0.55zM234.2,217.4h0.55v0.55h-0.55zM234.6,217.4h0.55v0.55h-0.55zM235.1,217.5h0.55v0.55h-0.55zM236.5,217.3h0.55v0.55h-0.55zM249.6,217.5h0.55v0.55h-0.55zM250.8,217.4h0.55v0.55h-0.55zM254.5,217.3h0.55v0.55h-0.55zM256.9,217.4h0.55v0.55h-0.55zM257.3,217.4h0.55v0.55h-0.55zM258.1,217.4h0.55v0.55h-0.55zM259.3,217.6h0.55v0.55h-0.55zM259.9,217.4h0.55v0.55h-0.55zM264.1,217.3h0.55v0.55h-0.55zM214.4,218.1h0.55v0.55h-0.55zM215.5,218.1h0.55v0.55h-0.55zM216.0,218.0h0.55v0.55h-0.55zM216.6,218.1h0.55v0.55h-0.55zM217.2,218.0h0.55v0.55h-0.55zM218.3,218.0h0.55v0.55h-0.55zM218.9,218.0h0.55v0.55h-0.55zM219.7,218.0h0.55v0.55h-0.55zM222.0,218.1h0.55v0.55h-0.55zM222.5,217.9h0.55v0.55h-0.55zM223.2,217.9h0.55v0.55h-0.55zM223.7,217.9h0.55v0.55h-0.55zM224.4,218.1h0.55v0.55h-0.55zM226.4,218.2h0.55v0.55h-0.55zM227.4,218.1h0.55v0.55h-0.55zM228.0,218.0h0.55v0.55h-0.55zM229.2,217.9h0.55v0.55h-0.55zM229.8,218.1h0.55v0.55h-0.55zM230.5,217.9h0.55v0.55h-0.55zM231.2,218.1h0.55v0.55h-0.55zM232.3,218.1h0.55v0.55h-0.55zM235.4,218.0h0.55v0.55h-0.55zM247.2,218.0h0.55v0.55h-0.55zM248.4,218.1h0.55v0.55h-0.55zM250.2,218.1h0.55v0.55h-0.55zM251.9,218.2h0.55v0.55h-0.55zM254.5,217.9h0.55v0.55h-0.55zM255.2,218.0h0.55v0.55h-0.55zM255.6,218.0h0.55v0.55h-0.55zM257.4,218.1h0.55v0.55h-0.55zM258.1,218.0h0.55v0.55h-0.55zM258.7,218.1h0.55v0.55h-0.55zM259.4,218.1h0.55v0.55h-0.55zM259.9,218.2h0.55v0.55h-0.55zM260.5,217.9h0.55v0.55h-0.55zM264.7,218.1h0.55v0.55h-0.55zM266.9,217.9h0.55v0.55h-0.55zM268.8,218.0h0.55v0.55h-0.55zM270.0,217.9h0.55v0.55h-0.55zM216.0,218.7h0.55v0.55h-0.55zM216.7,218.8h0.55v0.55h-0.55zM217.2,218.5h0.55v0.55h-0.55zM217.8,218.5h0.55v0.55h-0.55zM219.8,218.5h0.55v0.55h-0.55zM220.1,218.7h0.55v0.55h-0.55zM220.8,218.5h0.55v0.55h-0.55zM222.7,218.7h0.55v0.55h-0.55zM223.2,218.8h0.55v0.55h-0.55zM223.9,218.6h0.55v0.55h-0.55zM224.9,218.5h0.55v0.55h-0.55zM225.8,218.6h0.55v0.55h-0.55zM226.3,218.5h0.55v0.55h-0.55zM226.9,218.7h0.55v0.55h-0.55zM227.3,218.6h0.55v0.55h-0.55zM228.5,218.5h0.55v0.55h-0.55zM229.4,218.6h0.55v0.55h-0.55zM231.0,218.6h0.55v0.55h-0.55zM231.7,218.6h0.55v0.55h-0.55zM232.2,218.6h0.55v0.55h-0.55zM233.5,218.6h0.55v0.55h-0.55zM248.0,218.6h0.55v0.55h-0.55zM248.4,218.6h0.55v0.55h-0.55zM250.2,218.7h0.55v0.55h-0.55zM251.4,218.5h0.55v0.55h-0.55zM252.2,218.7h0.55v0.55h-0.55zM253.2,218.7h0.55v0.55h-0.55zM253.7,218.7h0.55v0.55h-0.55zM255.6,218.7h0.55v0.55h-0.55zM260.4,218.8h0.55v0.55h-0.55zM261.8,218.6h0.55v0.55h-0.55zM262.3,218.7h0.55v0.55h-0.55zM268.4,218.6h0.55v0.55h-0.55zM268.9,218.7h0.55v0.55h-0.55zM270.6,218.6h0.55v0.55h-0.55zM273.7,218.6h0.55v0.55h-0.55zM215.6,219.3h0.55v0.55h-0.55zM216.2,219.3h0.55v0.55h-0.55zM216.7,219.4h0.55v0.55h-0.55zM218.0,219.3h0.55v0.55h-0.55zM218.4,219.3h0.55v0.55h-0.55zM219.0,219.4h0.55v0.55h-0.55zM219.6,219.1h0.55v0.55h-0.55zM220.3,219.4h0.55v0.55h-0.55zM220.7,219.3h0.55v0.55h-0.55zM223.2,219.1h0.55v0.55h-0.55zM226.2,219.2h0.55v0.55h-0.55zM250.8,219.3h0.55v0.55h-0.55zM252.7,219.3h0.55v0.55h-0.55zM253.7,219.3h0.55v0.55h-0.55zM255.5,219.2h0.55v0.55h-0.55zM259.8,219.2h0.55v0.55h-0.55zM261.0,219.4h0.55v0.55h-0.55zM262.9,219.2h0.55v0.55h-0.55zM263.5,219.4h0.55v0.55h-0.55zM263.9,219.2h0.55v0.55h-0.55zM264.5,219.2h0.55v0.55h-0.55zM265.9,219.2h0.55v0.55h-0.55zM218.6,219.9h0.55v0.55h-0.55zM221.5,219.7h0.55v0.55h-0.55zM246.5,219.8h0.55v0.55h-0.55zM249.0,219.8h0.55v0.55h-0.55zM249.7,219.8h0.55v0.55h-0.55zM250.3,219.7h0.55v0.55h-0.55zM251.9,219.7h0.55v0.55h-0.55zM253.2,219.8h0.55v0.55h-0.55zM255.1,219.9h0.55v0.55h-0.55zM255.5,219.9h0.55v0.55h-0.55zM256.7,219.8h0.55v0.55h-0.55zM257.9,219.8h0.55v0.55h-0.55zM260.3,219.8h0.55v0.55h-0.55zM262.7,219.7h0.55v0.55h-0.55zM263.3,219.7h0.55v0.55h-0.55zM267.0,219.7h0.55v0.55h-0.55zM269.3,219.7h0.55v0.55h-0.55zM270.0,220.0h0.55v0.55h-0.55zM214.1,220.6h0.55v0.55h-0.55zM214.8,220.3h0.55v0.55h-0.55zM246.0,220.5h0.55v0.55h-0.55zM247.2,220.6h0.55v0.55h-0.55zM247.8,220.4h0.55v0.55h-0.55zM249.1,220.6h0.55v0.55h-0.55zM250.3,220.3h0.55v0.55h-0.55zM252.0,220.3h0.55v0.55h-0.55zM253.1,220.5h0.55v0.55h-0.55zM253.8,220.3h0.55v0.55h-0.55zM256.8,220.5h0.55v0.55h-0.55zM258.5,220.3h0.55v0.55h-0.55zM262.2,220.5h0.55v0.55h-0.55zM275.4,220.4h0.55v0.55h-0.55zM214.3,221.0h0.55v0.55h-0.55zM215.5,221.0h0.55v0.55h-0.55zM246.0,221.0h0.55v0.55h-0.55zM247.7,221.0h0.55v0.55h-0.55zM250.3,220.9h0.55v0.55h-0.55zM250.7,220.9h0.55v0.55h-0.55zM252.1,221.1h0.55v0.55h-0.55zM253.2,221.1h0.55v0.55h-0.55zM254.5,221.1h0.55v0.55h-0.55zM255.6,221.1h0.55v0.55h-0.55zM257.4,221.0h0.55v0.55h-0.55zM258.0,220.9h0.55v0.55h-0.55zM260.0,221.0h0.55v0.55h-0.55zM262.1,220.9h0.55v0.55h-0.55zM262.8,221.0h0.55v0.55h-0.55zM263.6,221.0h0.55v0.55h-0.55zM264.7,221.1h0.55v0.55h-0.55zM265.2,221.0h0.55v0.55h-0.55zM273.8,221.0h0.55v0.55h-0.55zM274.8,221.0h0.55v0.55h-0.55zM213.7,221.7h0.55v0.55h-0.55zM214.3,221.5h0.55v0.55h-0.55zM245.4,221.5h0.55v0.55h-0.55zM245.9,221.6h0.55v0.55h-0.55zM248.5,221.6h0.55v0.55h-0.55zM249.6,221.6h0.55v0.55h-0.55zM251.5,221.6h0.55v0.55h-0.55zM252.6,221.6h0.55v0.55h-0.55zM253.4,221.7h0.55v0.55h-0.55zM254.9,221.5h0.55v0.55h-0.55zM258.7,221.7h0.55v0.55h-0.55zM259.1,221.7h0.55v0.55h-0.55zM261.5,221.7h0.55v0.55h-0.55zM264.5,221.7h0.55v0.55h-0.55zM265.2,221.5h0.55v0.55h-0.55zM267.6,221.8h0.55v0.55h-0.55zM270.6,221.7h0.55v0.55h-0.55zM214.2,222.3h0.55v0.55h-0.55zM238.8,222.1h0.55v0.55h-0.55zM244.7,222.1h0.55v0.55h-0.55zM246.0,222.1h0.55v0.55h-0.55zM247.7,222.3h0.55v0.55h-0.55zM248.4,222.1h0.55v0.55h-0.55zM249.1,222.2h0.55v0.55h-0.55zM250.8,222.2h0.55v0.55h-0.55zM252.1,222.3h0.55v0.55h-0.55zM254.5,222.3h0.55v0.55h-0.55zM255.0,222.2h0.55v0.55h-0.55zM255.7,222.3h0.55v0.55h-0.55zM260.3,222.3h0.55v0.55h-0.55zM261.7,222.3h0.55v0.55h-0.55zM262.1,222.2h0.55v0.55h-0.55zM238.1,222.9h0.55v0.55h-0.55zM238.8,222.9h0.55v0.55h-0.55zM244.2,223.0h0.55v0.55h-0.55zM244.8,222.9h0.55v0.55h-0.55zM246.6,222.7h0.55v0.55h-0.55zM250.2,222.8h0.55v0.55h-0.55zM250.9,222.9h0.55v0.55h-0.55zM251.4,222.8h0.55v0.55h-0.55zM253.3,222.8h0.55v0.55h-0.55zM253.7,222.9h0.55v0.55h-0.55zM254.5,222.7h0.55v0.55h-0.55zM255.1,222.8h0.55v0.55h-0.55zM256.4,222.9h0.55v0.55h-0.55zM256.9,223.0h0.55v0.55h-0.55zM257.3,222.8h0.55v0.55h-0.55zM258.0,222.8h0.55v0.55h-0.55zM259.1,222.7h0.55v0.55h-0.55zM260.3,223.0h0.55v0.55h-0.55zM263.0,222.9h0.55v0.55h-0.55zM270.0,222.9h0.55v0.55h-0.55zM214.2,223.5h0.55v0.55h-0.55zM236.3,223.4h0.55v0.55h-0.55zM244.9,223.6h0.55v0.55h-0.55zM246.6,223.4h0.55v0.55h-0.55zM247.3,223.4h0.55v0.55h-0.55zM248.3,223.3h0.55v0.55h-0.55zM249.1,223.4h0.55v0.55h-0.55zM252.1,223.6h0.55v0.55h-0.55zM253.3,223.3h0.55v0.55h-0.55zM256.3,223.5h0.55v0.55h-0.55zM256.7,223.3h0.55v0.55h-0.55zM258.6,223.4h0.55v0.55h-0.55zM259.1,223.5h0.55v0.55h-0.55zM260.0,223.5h0.55v0.55h-0.55zM215.4,224.1h0.55v0.55h-0.55zM236.5,224.1h0.55v0.55h-0.55zM238.9,224.0h0.55v0.55h-0.55zM244.8,224.1h0.55v0.55h-0.55zM245.4,224.0h0.55v0.55h-0.55zM249.1,224.0h0.55v0.55h-0.55zM250.2,224.0h0.55v0.55h-0.55zM252.5,224.1h0.55v0.55h-0.55zM255.6,223.9h0.55v0.55h-0.55zM256.8,224.1h0.55v0.55h-0.55zM257.5,224.0h0.55v0.55h-0.55zM268.2,223.9h0.55v0.55h-0.55zM268.9,224.1h0.55v0.55h-0.55zM230.5,224.6h0.55v0.55h-0.55zM232.3,224.7h0.55v0.55h-0.55zM233.3,224.6h0.55v0.55h-0.55zM233.9,224.5h0.55v0.55h-0.55zM234.5,224.6h0.55v0.55h-0.55zM235.1,224.6h0.55v0.55h-0.55zM236.6,224.5h0.55v0.55h-0.55zM244.3,224.5h0.55v0.55h-0.55zM245.3,224.7h0.55v0.55h-0.55zM247.4,224.7h0.55v0.55h-0.55zM247.8,224.6h0.55v0.55h-0.55zM249.2,224.8h0.55v0.55h-0.55zM250.2,224.6h0.55v0.55h-0.55zM250.9,224.6h0.55v0.55h-0.55zM251.5,224.6h0.55v0.55h-0.55zM253.7,224.7h0.55v0.55h-0.55zM255.0,224.5h0.55v0.55h-0.55zM258.8,224.7h0.55v0.55h-0.55zM274.3,224.7h0.55v0.55h-0.55zM213.7,225.2h0.55v0.55h-0.55zM214.4,225.2h0.55v0.55h-0.55zM215.4,225.3h0.55v0.55h-0.55zM233.5,225.1h0.55v0.55h-0.55zM233.9,225.1h0.55v0.55h-0.55zM234.5,225.2h0.55v0.55h-0.55zM245.4,225.2h0.55v0.55h-0.55zM251.0,225.3h0.55v0.55h-0.55zM252.1,225.3h0.55v0.55h-0.55zM255.6,225.3h0.55v0.55h-0.55zM256.9,225.4h0.55v0.55h-0.55zM258.7,225.3h0.55v0.55h-0.55zM266.5,225.3h0.55v0.55h-0.55zM267.6,225.2h0.55v0.55h-0.55zM269.5,225.4h0.55v0.55h-0.55zM270.7,225.3h0.55v0.55h-0.55zM213.7,225.9h0.55v0.55h-0.55zM215.5,225.9h0.55v0.55h-0.55zM228.1,225.9h0.55v0.55h-0.55zM228.5,225.9h0.55v0.55h-0.55zM229.3,225.7h0.55v0.55h-0.55zM232.9,225.9h0.55v0.55h-0.55zM233.4,225.9h0.55v0.55h-0.55zM235.4,225.7h0.55v0.55h-0.55zM237.0,226.0h0.55v0.55h-0.55zM245.6,225.9h0.55v0.55h-0.55zM246.0,225.9h0.55v0.55h-0.55zM247.2,225.7h0.55v0.55h-0.55zM248.5,225.7h0.55v0.55h-0.55zM250.2,225.8h0.55v0.55h-0.55zM251.3,225.7h0.55v0.55h-0.55zM252.6,225.8h0.55v0.55h-0.55zM253.9,225.9h0.55v0.55h-0.55zM255.0,225.8h0.55v0.55h-0.55zM257.9,225.7h0.55v0.55h-0.55zM265.2,225.8h0.55v0.55h-0.55zM266.5,226.0h0.55v0.55h-0.55zM268.2,225.8h0.55v0.55h-0.55zM268.9,225.8h0.55v0.55h-0.55zM270.1,225.9h0.55v0.55h-0.55zM273.5,225.8h0.55v0.55h-0.55zM226.3,226.5h0.55v0.55h-0.55zM229.3,226.6h0.55v0.55h-0.55zM229.9,226.3h0.55v0.55h-0.55zM234.0,226.5h0.55v0.55h-0.55zM234.7,226.6h0.55v0.55h-0.55zM235.2,226.5h0.55v0.55h-0.55zM235.8,226.3h0.55v0.55h-0.55zM244.2,226.4h0.55v0.55h-0.55zM246.0,226.3h0.55v0.55h-0.55zM246.5,226.3h0.55v0.55h-0.55zM248.5,226.4h0.55v0.55h-0.55zM249.1,226.4h0.55v0.55h-0.55zM250.3,226.5h0.55v0.55h-0.55zM253.8,226.6h0.55v0.55h-0.55zM260.9,226.5h0.55v0.55h-0.55zM265.8,226.5h0.55v0.55h-0.55zM267.7,226.5h0.55v0.55h-0.55zM273.6,226.5h0.55v0.55h-0.55zM214.8,226.9h0.55v0.55h-0.55zM223.2,227.0h0.55v0.55h-0.55zM225.1,227.1h0.55v0.55h-0.55zM226.8,227.1h0.55v0.55h-0.55zM228.0,227.1h0.55v0.55h-0.55zM228.7,226.9h0.55v0.55h-0.55zM230.3,226.9h0.55v0.55h-0.55zM231.5,227.1h0.55v0.55h-0.55zM234.2,227.0h0.55v0.55h-0.55zM235.8,227.1h0.55v0.55h-0.55zM245.4,227.0h0.55v0.55h-0.55zM247.9,227.0h0.55v0.55h-0.55zM250.7,227.1h0.55v0.55h-0.55zM251.4,227.1h0.55v0.55h-0.55zM253.4,227.1h0.55v0.55h-0.55zM253.8,227.1h0.55v0.55h-0.55zM254.5,226.9h0.55v0.55h-0.55zM255.0,227.1h0.55v0.55h-0.55zM255.6,227.1h0.55v0.55h-0.55zM260.4,227.0h0.55v0.55h-0.55zM262.2,227.1h0.55v0.55h-0.55zM263.9,227.2h0.55v0.55h-0.55zM265.3,226.9h0.55v0.55h-0.55zM266.0,227.1h0.55v0.55h-0.55zM267.0,227.0h0.55v0.55h-0.55zM268.7,226.9h0.55v0.55h-0.55zM269.9,227.1h0.55v0.55h-0.55zM221.9,227.8h0.55v0.55h-0.55zM222.7,227.6h0.55v0.55h-0.55zM223.1,227.5h0.55v0.55h-0.55zM225.6,227.6h0.55v0.55h-0.55zM226.2,227.7h0.55v0.55h-0.55zM226.7,227.5h0.55v0.55h-0.55zM230.6,227.7h0.55v0.55h-0.55zM232.2,227.6h0.55v0.55h-0.55zM232.7,227.7h0.55v0.55h-0.55zM234.6,227.5h0.55v0.55h-0.55zM243.2,227.5h0.55v0.55h-0.55zM244.4,227.6h0.55v0.55h-0.55zM245.5,227.5h0.55v0.55h-0.55zM246.1,227.8h0.55v0.55h-0.55zM248.5,227.6h0.55v0.55h-0.55zM249.5,227.7h0.55v0.55h-0.55zM250.2,227.6h0.55v0.55h-0.55zM251.5,227.5h0.55v0.55h-0.55zM254.9,227.8h0.55v0.55h-0.55zM260.6,227.7h0.55v0.55h-0.55zM262.3,227.7h0.55v0.55h-0.55zM265.1,227.5h0.55v0.55h-0.55zM265.7,227.5h0.55v0.55h-0.55zM266.4,227.6h0.55v0.55h-0.55zM270.6,227.7h0.55v0.55h-0.55zM272.6,227.8h0.55v0.55h-0.55zM214.9,228.1h0.55v0.55h-0.55zM223.4,228.2h0.55v0.55h-0.55zM224.3,228.3h0.55v0.55h-0.55zM225.1,228.1h0.55v0.55h-0.55zM225.8,228.2h0.55v0.55h-0.55zM226.3,228.2h0.55v0.55h-0.55zM227.5,228.1h0.55v0.55h-0.55zM229.9,228.3h0.55v0.55h-0.55zM233.5,228.1h0.55v0.55h-0.55zM235.3,228.1h0.55v0.55h-0.55zM244.1,228.2h0.55v0.55h-0.55zM246.1,228.1h0.55v0.55h-0.55zM247.1,228.1h0.55v0.55h-0.55zM248.6,228.2h0.55v0.55h-0.55zM252.1,228.3h0.55v0.55h-0.55zM258.2,228.3h0.55v0.55h-0.55zM262.8,228.1h0.55v0.55h-0.55zM264.7,228.1h0.55v0.55h-0.55zM267.7,228.4h0.55v0.55h-0.55zM268.3,228.2h0.55v0.55h-0.55zM271.3,228.1h0.55v0.55h-0.55zM215.3,228.8h0.55v0.55h-0.55zM227.0,228.8h0.55v0.55h-0.55zM227.3,228.7h0.55v0.55h-0.55zM232.3,228.8h0.55v0.55h-0.55zM233.3,229.0h0.55v0.55h-0.55zM234.1,228.9h0.55v0.55h-0.55zM235.1,228.9h0.55v0.55h-0.55zM241.4,228.9h0.55v0.55h-0.55zM241.9,228.7h0.55v0.55h-0.55zM243.6,228.8h0.55v0.55h-0.55zM247.8,228.8h0.55v0.55h-0.55zM257.4,228.7h0.55v0.55h-0.55zM258.7,228.7h0.55v0.55h-0.55zM264.0,228.9h0.55v0.55h-0.55zM264.5,228.7h0.55v0.55h-0.55zM268.2,228.9h0.55v0.55h-0.55zM270.0,228.7h0.55v0.55h-0.55zM270.6,229.0h0.55v0.55h-0.55zM274.9,228.9h0.55v0.55h-0.55zM222.8,229.3h0.55v0.55h-0.55zM224.5,229.5h0.55v0.55h-0.55zM224.9,229.4h0.55v0.55h-0.55zM227.5,229.4h0.55v0.55h-0.55zM228.5,229.5h0.55v0.55h-0.55zM229.8,229.4h0.55v0.55h-0.55zM230.4,229.6h0.55v0.55h-0.55zM231.6,229.5h0.55v0.55h-0.55zM233.5,229.4h0.55v0.55h-0.55zM234.6,229.5h0.55v0.55h-0.55zM241.9,229.4h0.55v0.55h-0.55zM243.1,229.3h0.55v0.55h-0.55zM243.6,229.4h0.55v0.55h-0.55zM244.4,229.5h0.55v0.55h-0.55zM245.9,229.6h0.55v0.55h-0.55zM246.6,229.4h0.55v0.55h-0.55zM247.1,229.4h0.55v0.55h-0.55zM250.2,229.4h0.55v0.55h-0.55zM257.5,229.6h0.55v0.55h-0.55zM258.2,229.5h0.55v0.55h-0.55zM261.5,229.5h0.55v0.55h-0.55zM263.3,229.3h0.55v0.55h-0.55zM264.1,229.5h0.55v0.55h-0.55zM265.3,229.6h0.55v0.55h-0.55zM266.3,229.3h0.55v0.55h-0.55zM267.7,229.6h0.55v0.55h-0.55zM222.7,230.1h0.55v0.55h-0.55zM224.5,230.1h0.55v0.55h-0.55zM226.3,230.1h0.55v0.55h-0.55zM228.0,230.0h0.55v0.55h-0.55zM229.1,230.0h0.55v0.55h-0.55zM231.6,229.9h0.55v0.55h-0.55zM232.8,230.0h0.55v0.55h-0.55zM242.0,230.0h0.55v0.55h-0.55zM243.5,230.1h0.55v0.55h-0.55zM244.2,230.0h0.55v0.55h-0.55zM246.6,229.9h0.55v0.55h-0.55zM247.3,230.1h0.55v0.55h-0.55zM249.2,230.0h0.55v0.55h-0.55zM250.1,229.9h0.55v0.55h-0.55zM255.7,230.0h0.55v0.55h-0.55zM261.7,229.9h0.55v0.55h-0.55zM262.3,230.0h0.55v0.55h-0.55zM263.0,230.1h0.55v0.55h-0.55zM265.3,230.1h0.55v0.55h-0.55zM267.0,229.9h0.55v0.55h-0.55zM269.6,230.1h0.55v0.55h-0.55zM222.2,230.7h0.55v0.55h-0.55zM222.6,230.5h0.55v0.55h-0.55zM228.5,230.6h0.55v0.55h-0.55zM229.7,230.5h0.55v0.55h-0.55zM234.6,230.7h0.55v0.55h-0.55zM241.8,230.5h0.55v0.55h-0.55zM243.0,230.6h0.55v0.55h-0.55zM243.5,230.6h0.55v0.55h-0.55zM244.1,230.6h0.55v0.55h-0.55zM244.9,230.6h0.55v0.55h-0.55zM254.9,230.5h0.55v0.55h-0.55zM261.0,230.5h0.55v0.55h-0.55zM262.4,230.6h0.55v0.55h-0.55zM262.9,230.5h0.55v0.55h-0.55zM263.3,230.7h0.55v0.55h-0.55zM265.8,230.7h0.55v0.55h-0.55zM268.3,230.8h0.55v0.55h-0.55zM268.8,230.6h0.55v0.55h-0.55zM221.9,231.3h0.55v0.55h-0.55zM222.8,231.2h0.55v0.55h-0.55zM223.3,231.3h0.55v0.55h-0.55zM223.9,231.2h0.55v0.55h-0.55zM227.9,231.2h0.55v0.55h-0.55zM229.3,231.4h0.55v0.55h-0.55zM231.0,231.2h0.55v0.55h-0.55zM231.6,231.3h0.55v0.55h-0.55zM232.4,231.4h0.55v0.55h-0.55zM233.6,231.3h0.55v0.55h-0.55zM241.9,231.2h0.55v0.55h-0.55zM248.5,231.1h0.55v0.55h-0.55zM253.2,231.3h0.55v0.55h-0.55zM255.2,231.1h0.55v0.55h-0.55zM256.9,231.3h0.55v0.55h-0.55zM257.5,231.3h0.55v0.55h-0.55zM260.6,231.1h0.55v0.55h-0.55zM260.9,231.2h0.55v0.55h-0.55zM263.3,231.4h0.55v0.55h-0.55zM264.0,231.3h0.55v0.55h-0.55zM264.7,231.1h0.55v0.55h-0.55zM267.1,231.2h0.55v0.55h-0.55zM269.6,231.4h0.55v0.55h-0.55zM273.0,231.3h0.55v0.55h-0.55zM274.3,231.1h0.55v0.55h-0.55zM214.9,231.8h0.55v0.55h-0.55zM223.1,231.9h0.55v0.55h-0.55zM223.7,231.9h0.55v0.55h-0.55zM225.2,231.9h0.55v0.55h-0.55zM226.2,231.7h0.55v0.55h-0.55zM229.4,231.9h0.55v0.55h-0.55zM232.2,231.7h0.55v0.55h-0.55zM234.1,232.0h0.55v0.55h-0.55zM241.3,231.7h0.55v0.55h-0.55zM241.9,231.8h0.55v0.55h-0.55zM243.7,231.9h0.55v0.55h-0.55zM246.5,231.8h0.55v0.55h-0.55zM247.4,231.9h0.55v0.55h-0.55zM255.7,231.7h0.55v0.55h-0.55zM259.3,231.9h0.55v0.55h-0.55zM259.7,231.7h0.55v0.55h-0.55zM260.4,231.8h0.55v0.55h-0.55zM261.6,231.7h0.55v0.55h-0.55zM262.8,231.9h0.55v0.55h-0.55zM264.1,231.9h0.55v0.55h-0.55zM265.8,231.8h0.55v0.55h-0.55zM274.1,231.9h0.55v0.55h-0.55zM215.5,232.4h0.55v0.55h-0.55zM216.1,232.4h0.55v0.55h-0.55zM217.2,232.3h0.55v0.55h-0.55zM230.5,232.5h0.55v0.55h-0.55zM231.0,232.4h0.55v0.55h-0.55zM240.7,232.3h0.55v0.55h-0.55zM241.2,232.3h0.55v0.55h-0.55zM245.4,232.3h0.55v0.55h-0.55zM246.0,232.6h0.55v0.55h-0.55zM251.9,232.5h0.55v0.55h-0.55zM259.4,232.5h0.55v0.55h-0.55zM261.5,232.6h0.55v0.55h-0.55zM262.1,232.5h0.55v0.55h-0.55zM263.5,232.3h0.55v0.55h-0.55zM264.1,232.5h0.55v0.55h-0.55zM265.3,232.4h0.55v0.55h-0.55zM268.9,232.4h0.55v0.55h-0.55zM224.5,233.0h0.55v0.55h-0.55zM226.1,233.1h0.55v0.55h-0.55zM228.1,233.2h0.55v0.55h-0.55zM228.8,232.9h0.55v0.55h-0.55zM229.2,233.0h0.55v0.55h-0.55zM229.7,233.1h0.55v0.55h-0.55zM230.6,233.0h0.55v0.55h-0.55zM231.7,233.2h0.55v0.55h-0.55zM232.3,232.9h0.55v0.55h-0.55zM234.5,233.0h0.55v0.55h-0.55zM240.5,232.9h0.55v0.55h-0.55zM241.3,233.1h0.55v0.55h-0.55zM243.1,233.1h0.55v0.55h-0.55zM243.6,233.0h0.55v0.55h-0.55zM246.7,233.0h0.55v0.55h-0.55zM247.3,233.0h0.55v0.55h-0.55zM250.7,233.0h0.55v0.55h-0.55zM253.2,232.9h0.55v0.55h-0.55zM254.4,233.0h0.55v0.55h-0.55zM262.1,233.1h0.55v0.55h-0.55zM262.9,233.0h0.55v0.55h-0.55zM264.1,233.1h0.55v0.55h-0.55zM266.4,232.9h0.55v0.55h-0.55zM267.6,232.9h0.55v0.55h-0.55zM268.9,233.1h0.55v0.55h-0.55zM269.4,233.0h0.55v0.55h-0.55zM217.3,233.5h0.55v0.55h-0.55zM225.6,233.7h0.55v0.55h-0.55zM226.1,233.6h0.55v0.55h-0.55zM227.6,233.6h0.55v0.55h-0.55zM228.0,233.6h0.55v0.55h-0.55zM229.9,233.7h0.55v0.55h-0.55zM231.0,233.5h0.55v0.55h-0.55zM232.9,233.7h0.55v0.55h-0.55zM239.9,233.8h0.55v0.55h-0.55zM244.9,233.7h0.55v0.55h-0.55zM246.1,233.7h0.55v0.55h-0.55zM250.2,233.6h0.55v0.55h-0.55zM256.8,233.5h0.55v0.55h-0.55zM259.2,233.5h0.55v0.55h-0.55zM261.0,233.7h0.55v0.55h-0.55zM263.5,233.6h0.55v0.55h-0.55zM263.9,233.7h0.55v0.55h-0.55zM265.3,233.6h0.55v0.55h-0.55zM268.7,233.8h0.55v0.55h-0.55zM270.1,233.5h0.55v0.55h-0.55zM214.2,234.1h0.55v0.55h-0.55zM223.9,234.2h0.55v0.55h-0.55zM224.9,234.3h0.55v0.55h-0.55zM230.9,234.3h0.55v0.55h-0.55zM242.5,234.3h0.55v0.55h-0.55zM243.5,234.3h0.55v0.55h-0.55zM244.2,234.3h0.55v0.55h-0.55zM249.1,234.1h0.55v0.55h-0.55zM249.8,234.2h0.55v0.55h-0.55zM250.9,234.4h0.55v0.55h-0.55zM261.2,234.3h0.55v0.55h-0.55zM261.6,234.2h0.55v0.55h-0.55zM263.5,234.1h0.55v0.55h-0.55zM263.9,234.1h0.55v0.55h-0.55zM265.7,234.1h0.55v0.55h-0.55zM266.5,234.3h0.55v0.55h-0.55zM274.8,234.4h0.55v0.55h-0.55zM214.9,234.7h0.55v0.55h-0.55zM223.2,234.8h0.55v0.55h-0.55zM224.3,234.9h0.55v0.55h-0.55zM226.2,234.8h0.55v0.55h-0.55zM226.7,234.7h0.55v0.55h-0.55zM227.9,234.9h0.55v0.55h-0.55zM229.7,234.9h0.55v0.55h-0.55zM231.1,234.7h0.55v0.55h-0.55zM239.4,234.8h0.55v0.55h-0.55zM240.7,234.9h0.55v0.55h-0.55zM241.8,234.7h0.55v0.55h-0.55zM244.1,235.0h0.55v0.55h-0.55zM251.5,234.8h0.55v0.55h-0.55zM257.4,234.8h0.55v0.55h-0.55zM258.6,234.8h0.55v0.55h-0.55zM259.1,234.9h0.55v0.55h-0.55zM259.8,234.8h0.55v0.55h-0.55zM260.4,234.8h0.55v0.55h-0.55zM262.1,234.9h0.55v0.55h-0.55zM265.2,234.7h0.55v0.55h-0.55zM265.7,234.9h0.55v0.55h-0.55zM269.0,234.7h0.55v0.55h-0.55zM270.0,234.9h0.55v0.55h-0.55zM225.1,235.4h0.55v0.55h-0.55zM228.7,235.6h0.55v0.55h-0.55zM231.1,235.5h0.55v0.55h-0.55zM232.2,235.4h0.55v0.55h-0.55zM238.1,235.5h0.55v0.55h-0.55zM238.8,235.4h0.55v0.55h-0.55zM240.1,235.3h0.55v0.55h-0.55zM240.6,235.6h0.55v0.55h-0.55zM241.9,235.5h0.55v0.55h-0.55zM244.4,235.3h0.55v0.55h-0.55zM246.5,235.3h0.55v0.55h-0.55zM250.8,235.3h0.55v0.55h-0.55zM254.9,235.5h0.55v0.55h-0.55zM256.4,235.5h0.55v0.55h-0.55zM256.8,235.5h0.55v0.55h-0.55zM257.3,235.4h0.55v0.55h-0.55zM259.4,235.4h0.55v0.55h-0.55zM261.1,235.3h0.55v0.55h-0.55zM267.6,235.4h0.55v0.55h-0.55zM271.3,235.4h0.55v0.55h-0.55zM224.4,236.0h0.55v0.55h-0.55zM225.1,235.9h0.55v0.55h-0.55zM226.3,236.1h0.55v0.55h-0.55zM226.9,236.0h0.55v0.55h-0.55zM228.0,236.2h0.55v0.55h-0.55zM231.1,236.0h0.55v0.55h-0.55zM238.9,236.0h0.55v0.55h-0.55zM239.4,236.0h0.55v0.55h-0.55zM240.0,235.9h0.55v0.55h-0.55zM240.7,235.9h0.55v0.55h-0.55zM248.5,236.2h0.55v0.55h-0.55zM253.7,236.0h0.55v0.55h-0.55zM255.8,236.2h0.55v0.55h-0.55zM260.4,236.0h0.55v0.55h-0.55zM261.7,236.0h0.55v0.55h-0.55zM264.5,235.9h0.55v0.55h-0.55zM267.6,236.0h0.55v0.55h-0.55zM270.1,236.1h0.55v0.55h-0.55zM271.2,236.0h0.55v0.55h-0.55zM214.1,236.8h0.55v0.55h-0.55zM214.9,236.6h0.55v0.55h-0.55zM216.0,236.8h0.55v0.55h-0.55zM216.6,236.6h0.55v0.55h-0.55zM226.3,236.5h0.55v0.55h-0.55zM227.0,236.7h0.55v0.55h-0.55zM227.4,236.8h0.55v0.55h-0.55zM227.9,236.7h0.55v0.55h-0.55zM228.7,236.8h0.55v0.55h-0.55zM229.7,236.8h0.55v0.55h-0.55zM230.3,236.5h0.55v0.55h-0.55zM238.3,236.7h0.55v0.55h-0.55zM241.9,236.6h0.55v0.55h-0.55zM246.7,236.7h0.55v0.55h-0.55zM249.0,236.6h0.55v0.55h-0.55zM256.8,236.7h0.55v0.55h-0.55zM257.5,236.7h0.55v0.55h-0.55zM259.1,236.5h0.55v0.55h-0.55zM260.9,236.6h0.55v0.55h-0.55zM262.8,236.6h0.55v0.55h-0.55zM263.4,236.8h0.55v0.55h-0.55zM264.1,236.7h0.55v0.55h-0.55zM215.3,237.3h0.55v0.55h-0.55zM216.7,237.1h0.55v0.55h-0.55zM217.9,237.3h0.55v0.55h-0.55zM218.4,237.3h0.55v0.55h-0.55zM225.5,237.1h0.55v0.55h-0.55zM227.5,237.2h0.55v0.55h-0.55zM229.8,237.3h0.55v0.55h-0.55zM230.5,237.3h0.55v0.55h-0.55zM239.5,237.3h0.55v0.55h-0.55zM245.3,237.3h0.55v0.55h-0.55zM248.3,237.2h0.55v0.55h-0.55zM249.0,237.2h0.55v0.55h-0.55zM251.4,237.1h0.55v0.55h-0.55zM252.1,237.1h0.55v0.55h-0.55zM258.0,237.1h0.55v0.55h-0.55zM259.7,237.3h0.55v0.55h-0.55zM264.7,237.3h0.55v0.55h-0.55zM267.2,237.4h0.55v0.55h-0.55zM268.3,237.3h0.55v0.55h-0.55zM214.9,238.0h0.55v0.55h-0.55zM215.4,237.9h0.55v0.55h-0.55zM219.6,237.9h0.55v0.55h-0.55zM229.2,237.8h0.55v0.55h-0.55zM229.9,237.9h0.55v0.55h-0.55zM238.7,237.8h0.55v0.55h-0.55zM244.9,237.7h0.55v0.55h-0.55zM246.6,237.7h0.55v0.55h-0.55zM250.9,237.9h0.55v0.55h-0.55zM253.2,237.7h0.55v0.55h-0.55zM256.3,237.9h0.55v0.55h-0.55zM257.5,237.7h0.55v0.55h-0.55zM259.9,237.8h0.55v0.55h-0.55zM260.3,237.9h0.55v0.55h-0.55zM226.2,238.5h0.55v0.55h-0.55zM227.3,238.4h0.55v0.55h-0.55zM228.6,238.5h0.55v0.55h-0.55zM237.7,238.4h0.55v0.55h-0.55zM240.1,238.5h0.55v0.55h-0.55zM246.0,238.4h0.55v0.55h-0.55zM252.5,238.6h0.55v0.55h-0.55zM254.6,238.6h0.55v0.55h-0.55zM255.7,238.3h0.55v0.55h-0.55zM256.4,238.4h0.55v0.55h-0.55zM259.1,238.4h0.55v0.55h-0.55zM261.7,238.4h0.55v0.55h-0.55zM263.4,238.3h0.55v0.55h-0.55zM216.0,239.0h0.55v0.55h-0.55zM216.8,239.1h0.55v0.55h-0.55zM237.7,239.2h0.55v0.55h-0.55zM242.5,238.9h0.55v0.55h-0.55zM244.3,238.9h0.55v0.55h-0.55zM250.1,239.2h0.55v0.55h-0.55zM252.1,239.2h0.55v0.55h-0.55zM252.7,239.0h0.55v0.55h-0.55zM253.2,238.9h0.55v0.55h-0.55zM254.4,239.1h0.55v0.55h-0.55zM263.9,239.0h0.55v0.55h-0.55zM215.6,239.6h0.55v0.55h-0.55zM227.5,239.6h0.55v0.55h-0.55zM228.6,239.5h0.55v0.55h-0.55zM237.7,239.6h0.55v0.55h-0.55zM248.9,239.7h0.55v0.55h-0.55zM250.1,239.7h0.55v0.55h-0.55zM254.5,239.5h0.55v0.55h-0.55zM265.8,239.6h0.55v0.55h-0.55zM268.2,239.8h0.55v0.55h-0.55zM216.7,240.2h0.55v0.55h-0.55zM227.5,240.1h0.55v0.55h-0.55zM236.5,240.1h0.55v0.55h-0.55zM246.1,240.1h0.55v0.55h-0.55zM252.1,240.3h0.55v0.55h-0.55zM260.4,240.4h0.55v0.55h-0.55zM260.9,240.3h0.55v0.55h-0.55zM215.4,240.7h0.55v0.55h-0.55zM261.8,240.9h0.55v0.55h-0.55zM217.2,241.4h0.55v0.55h-0.55zM235.8,241.5h0.55v0.55h-0.55zM237.1,241.5h0.55v0.55h-0.55zM222.1,242.1h0.55v0.55h-0.55zM235.7,242.0h0.55v0.55h-0.55zM237.1,242.1h0.55v0.55h-0.55zM243.6,242.0h0.55v0.55h-0.55zM244.8,242.0h0.55v0.55h-0.55zM254.9,242.1h0.55v0.55h-0.55zM259.7,242.1h0.55v0.55h-0.55zM218.5,242.7h0.55v0.55h-0.55zM220.3,242.6h0.55v0.55h-0.55zM236.9,242.6h0.55v0.55h-0.55zM243.0,242.7h0.55v0.55h-0.55zM247.4,242.7h0.55v0.55h-0.55zM251.4,242.8h0.55v0.55h-0.55zM252.7,242.5h0.55v0.55h-0.55zM216.0,243.1h0.55v0.55h-0.55zM218.9,243.2h0.55v0.55h-0.55zM222.1,243.2h0.55v0.55h-0.55zM234.6,243.2h0.55v0.55h-0.55zM237.2,243.3h0.55v0.55h-0.55zM249.0,243.1h0.55v0.55h-0.55zM215.3,243.9h0.55v0.55h-0.55zM218.9,243.9h0.55v0.55h-0.55zM222.0,243.9h0.55v0.55h-0.55zM230.3,243.8h0.55v0.55h-0.55zM232.2,243.7h0.55v0.55h-0.55zM236.5,243.8h0.55v0.55h-0.55zM242.5,243.7h0.55v0.55h-0.55zM244.8,243.9h0.55v0.55h-0.55zM245.5,243.7h0.55v0.55h-0.55zM217.3,244.6h0.55v0.55h-0.55zM226.3,244.5h0.55v0.55h-0.55zM236.3,244.4h0.55v0.55h-0.55zM240.0,244.3h0.55v0.55h-0.55zM216.7,245.0h0.55v0.55h-0.55zM216.6,245.5h0.55v0.55h-0.55zM223.9,245.5h0.55v0.55h-0.55zM224.5,245.5h0.55v0.55h-0.55zM226.9,245.5h0.55v0.55h-0.55zM229.3,245.7h0.55v0.55h-0.55zM216.0,246.1h0.55v0.55h-0.55zM220.3,246.4h0.55v0.55h-0.55zM216.5,246.8h0.55v0.55h-0.55zM219.0,246.8h0.55v0.55h-0.55z" fill="#111"/>
<path d="M214.2,218.0 L214.2,244.0" fill="none" stroke="#111" stroke-width="2.5" stroke-linejoin="round" stroke-linecap="round"/>
<path d="M214.8,218.5 L217.0,220.5" fill="none" stroke="#222" stroke-width="1.4" stroke-linejoin="round" stroke-linecap="round"/>
<path d="M216,220.6 L222,221.0 L230,220.0 L238,217.4 L244,214.8" fill="none" stroke="#333" stroke-width="0.8" stroke-linejoin="round" stroke-linecap="round"/>
<path d="M219.8,224.3 L228,222.6 L236,220.6 L242.2,218.2 L240,225 L236,232.5 L232,239.2 L228.6,243.2 L225,242.2 L221.6,236 L220,229 L219.8,224.3" fill="none" stroke="#111" stroke-width="1.5" stroke-linejoin="round" stroke-linecap="round"/>
<path d="M236.2,240.2 L246,232.2 L256,225.6 L265.8,220.7" fill="none" stroke="#111" stroke-width="1.2" stroke-linejoin="round" stroke-linecap="round"/>
<path d="M239.0,245.2 L249,240.4 L259,233.6 L268.0,224.8" fill="none" stroke="#1a1a1a" stroke-width="1.3" stroke-linejoin="round" stroke-linecap="round"/>
<path d="M244,214.8 L249.5,216.5" fill="none" stroke="#222" stroke-width="1.6" stroke-linejoin="round" stroke-linecap="round"/>
<path d="M252,241.5 L265,237.0 L271,232" fill="none" stroke="#444" stroke-width="0.7" stroke-linejoin="round" stroke-linecap="round"/>
</g>
<polygon points="228.6,164.6 250.0,134.8 273.0,134.8 276.0,161.6" fill="none" stroke="#c8ecc8" stroke-width="1.4" opacity="0.5"/>
<polygon points="228.6,164.6 250.0,134.8 273.0,134.8 276.0,161.6" fill="none" stroke="#58b858" stroke-width="0.55" opacity="0.85"/>
<polygon points="227.8,243.4 249.7,213.3 272.0,213.3 275.6,238.6" fill="none" stroke="#c8ecc8" stroke-width="1.4" opacity="0.5"/>
<polygon points="227.8,243.4 249.7,213.3 272.0,213.3 275.6,238.6" fill="none" stroke="#58b858" stroke-width="0.55" opacity="0.85"/>
<text x="254.6" y="172.8" font-size="6.2" font-weight="bold" text-anchor="middle" fill="#111">24.8%</text>
<text x="254.6" y="249.0" font-size="6.2" font-weight="bold" text-anchor="middle" fill="#111">30.8%</text>
<rect x="213.2" y="122.4" width="64.40000000000003" height="61.599999999999994" fill="none" stroke="#444" stroke-width="0.7"/>
<text x="211.0" y="185.7" font-size="4.8" font-weight="bold" text-anchor="end" fill="#333">10<tspan font-size="3.3" dy="-2.16">0</tspan></text>
<text x="211.0" y="170.29999999999998" font-size="4.8" font-weight="bold" text-anchor="end" fill="#333">10<tspan font-size="3.3" dy="-2.16">1</tspan></text>
<text x="211.0" y="155.0" font-size="4.8" font-weight="bold" text-anchor="end" fill="#333">10<tspan font-size="3.3" dy="-2.16">2</tspan></text>
<text x="211.0" y="139.7" font-size="4.8" font-weight="bold" text-anchor="end" fill="#333">10<tspan font-size="3.3" dy="-2.16">3</tspan></text>
<text x="211.0" y="124.5" font-size="4.8" font-weight="bold" text-anchor="end" fill="#333">10<tspan font-size="3.3" dy="-2.16">4</tspan></text>
<text x="215.5" y="191.29999999999998" font-size="4.8" font-weight="bold" text-anchor="middle" fill="#333">10<tspan font-size="3.3" dy="-2.16">0</tspan></text>
<text x="231.0" y="191.29999999999998" font-size="4.8" font-weight="bold" text-anchor="middle" fill="#333">10<tspan font-size="3.3" dy="-2.16">1</tspan></text>
<text x="247.5" y="191.29999999999998" font-size="4.8" font-weight="bold" text-anchor="middle" fill="#333">10<tspan font-size="3.3" dy="-2.16">2</tspan></text>
<text x="263.5" y="191.29999999999998" font-size="4.8" font-weight="bold" text-anchor="middle" fill="#333">10<tspan font-size="3.3" dy="-2.16">3</tspan></text>
<text x="277.0" y="191.29999999999998" font-size="4.8" font-weight="bold" text-anchor="middle" fill="#333">10<tspan font-size="3.3" dy="-2.16">4</tspan></text>
<rect x="213.2" y="200.2" width="64.40000000000003" height="63.400000000000034" fill="none" stroke="#444" stroke-width="0.7"/>
<text x="211.0" y="265.3" font-size="4.8" font-weight="bold" text-anchor="end" fill="#333">10<tspan font-size="3.3" dy="-2.16">0</tspan></text>
<text x="211.0" y="249.5" font-size="4.8" font-weight="bold" text-anchor="end" fill="#333">10<tspan font-size="3.3" dy="-2.16">1</tspan></text>
<text x="211.0" y="233.2" font-size="4.8" font-weight="bold" text-anchor="end" fill="#333">10<tspan font-size="3.3" dy="-2.16">2</tspan></text>
<text x="211.0" y="217.0" font-size="4.8" font-weight="bold" text-anchor="end" fill="#333">10<tspan font-size="3.3" dy="-2.16">3</tspan></text>
<text x="211.0" y="202.29999999999998" font-size="4.8" font-weight="bold" text-anchor="end" fill="#333">10<tspan font-size="3.3" dy="-2.16">4</tspan></text>
<text x="215.5" y="269.9" font-size="4.8" font-weight="bold" text-anchor="middle" fill="#333">10<tspan font-size="3.3" dy="-2.16">0</tspan></text>
<text x="231.0" y="269.9" font-size="4.8" font-weight="bold" text-anchor="middle" fill="#333">10<tspan font-size="3.3" dy="-2.16">1</tspan></text>
<text x="247.5" y="269.9" font-size="4.8" font-weight="bold" text-anchor="middle" fill="#333">10<tspan font-size="3.3" dy="-2.16">2</tspan></text>
<text x="263.5" y="269.9" font-size="4.8" font-weight="bold" text-anchor="middle" fill="#333">10<tspan font-size="3.3" dy="-2.16">3</tspan></text>
<text x="277.0" y="269.9" font-size="4.8" font-weight="bold" text-anchor="middle" fill="#333">10<tspan font-size="3.3" dy="-2.16">4</tspan></text>
<rect x="316.4" y="121.0" width="65.40000000000003" height="62.19999999999999" fill="none" stroke="#555" stroke-width="0.6"/>
<line x1="316.4" y1="183.2" x2="381.8" y2="183.2" stroke="#333" stroke-width="0.7"/>
<line x1="316.4" y1="121.0" x2="316.4" y2="183.2" stroke="#333" stroke-width="0.7"/>
<path d="M316.6,182.8 C317.47,182.50 320.02,181.62 321.80,181.00 C323.58,180.38 325.48,180.10 327.30,179.10 C329.12,178.10 331.12,177.05 332.70,175.00 C334.28,172.95 335.52,171.12 336.80,166.80 C338.08,162.48 339.27,153.87 340.40,149.10 C341.53,144.33 342.70,140.42 343.60,138.20 C344.50,135.98 344.98,135.35 345.80,135.80 C346.62,136.25 347.27,137.55 348.50,140.90 C349.73,144.25 351.73,151.58 353.20,155.90 C354.67,160.22 355.93,164.30 357.30,166.80 C358.67,169.30 360.03,170.90 361.40,170.90 C362.77,170.90 364.15,170.67 365.50,166.80 C366.85,162.93 368.23,153.60 369.50,147.70 C370.77,141.80 371.95,135.35 373.10,131.40 C374.25,127.45 375.48,123.93 376.40,124.00 C377.32,124.07 378.02,127.47 378.60,131.80 C379.18,136.13 379.53,144.17 379.90,150.00 C380.27,155.83 380.52,162.87 380.80,166.80 C381.08,170.73 381.47,172.47 381.60,173.60" fill="none" stroke="#222" stroke-width="0.8"/>
<polyline points="316.4,183.2 316.4,121.0 332.7,121.0 332.7,183.2" fill="none" stroke="#6cc46c" stroke-width="0.6"/>
<text x="314.59999999999997" y="137.2" font-size="4.8" font-weight="bold" text-anchor="end" fill="#333">300</text>
<text x="314.59999999999997" y="153.0" font-size="4.8" font-weight="bold" text-anchor="end" fill="#333">200</text>
<text x="314.59999999999997" y="169.89999999999998" font-size="4.8" font-weight="bold" text-anchor="end" fill="#333">100</text>
<text x="314.59999999999997" y="185.39999999999998" font-size="4.8" font-weight="bold" text-anchor="end" fill="#333">0</text>
<text x="318.5" y="189.79999999999998" font-size="4.8" font-weight="bold" text-anchor="middle" fill="#333">10<tspan font-size="3.3" dy="-2.16">0</tspan></text>
<text x="333.3" y="189.79999999999998" font-size="4.8" font-weight="bold" text-anchor="middle" fill="#333">10<tspan font-size="3.3" dy="-2.16">1</tspan></text>
<text x="348.5" y="189.79999999999998" font-size="4.8" font-weight="bold" text-anchor="middle" fill="#333">10<tspan font-size="3.3" dy="-2.16">2</tspan></text>
<text x="364.0" y="189.79999999999998" font-size="4.8" font-weight="bold" text-anchor="middle" fill="#333">10<tspan font-size="3.3" dy="-2.16">3</tspan></text>
<text x="381.0" y="189.79999999999998" font-size="4.8" font-weight="bold" text-anchor="middle" fill="#333">10<tspan font-size="3.3" dy="-2.16">4</tspan></text>
<text x="326.6" y="167.0" font-size="6.2" font-weight="bold" text-anchor="middle" fill="#111">4.07%</text>
<rect x="316.4" y="201.0" width="65.20000000000005" height="62.19999999999999" fill="none" stroke="#555" stroke-width="0.6"/>
<line x1="316.4" y1="263.2" x2="381.6" y2="263.2" stroke="#333" stroke-width="0.7"/>
<line x1="316.4" y1="201.0" x2="316.4" y2="263.2" stroke="#333" stroke-width="0.7"/>
<path d="M316.6,262.6 C317.47,262.15 320.02,260.80 321.80,259.90 C323.58,259.00 325.70,258.38 327.30,257.20 C328.90,256.02 330.27,254.53 331.40,252.80 C332.53,251.07 333.20,249.62 334.10,246.80 C335.00,243.98 335.90,240.45 336.80,235.90 C337.70,231.35 338.58,223.82 339.50,219.50 C340.42,215.18 341.52,212.08 342.30,210.00 C343.08,207.92 343.43,206.77 344.20,207.00 C344.97,207.23 345.85,208.85 346.90,211.40 C347.95,213.95 349.23,217.98 350.50,222.30 C351.77,226.62 353.15,233.43 354.50,237.30 C355.85,241.17 357.23,243.68 358.60,245.50 C359.97,247.32 361.33,248.43 362.70,248.20 C364.07,247.97 365.52,247.05 366.80,244.10 C368.08,241.15 369.40,235.50 370.40,230.50 C371.40,225.50 372.03,217.60 372.80,214.10 C373.57,210.60 374.22,211.15 375.00,209.50 C375.78,207.85 376.83,203.28 377.50,204.20 C378.17,205.12 378.62,208.35 379.00,215.00 C379.38,221.65 379.47,237.67 379.80,244.10 C380.13,250.53 380.80,252.02 381.00,253.60" fill="none" stroke="#222" stroke-width="0.8"/>
<polyline points="316.4,263.2 316.4,201.0 333.3,201.0 333.3,263.2" fill="none" stroke="#6cc46c" stroke-width="0.6"/>
<text x="314.59999999999997" y="210.29999999999998" font-size="4.8" font-weight="bold" text-anchor="end" fill="#333">400</text>
<text x="314.59999999999997" y="224.0" font-size="4.8" font-weight="bold" text-anchor="end" fill="#333">300</text>
<text x="314.59999999999997" y="238.2" font-size="4.8" font-weight="bold" text-anchor="end" fill="#333">200</text>
<text x="314.59999999999997" y="252.1" font-size="4.8" font-weight="bold" text-anchor="end" fill="#333">100</text>
<text x="314.59999999999997" y="265.4" font-size="4.8" font-weight="bold" text-anchor="end" fill="#333">0</text>
<text x="318.5" y="269.8" font-size="4.8" font-weight="bold" text-anchor="middle" fill="#333">10<tspan font-size="3.3" dy="-2.16">0</tspan></text>
<text x="333.3" y="269.8" font-size="4.8" font-weight="bold" text-anchor="middle" fill="#333">10<tspan font-size="3.3" dy="-2.16">1</tspan></text>
<text x="348.5" y="269.8" font-size="4.8" font-weight="bold" text-anchor="middle" fill="#333">10<tspan font-size="3.3" dy="-2.16">2</tspan></text>
<text x="364.0" y="269.8" font-size="4.8" font-weight="bold" text-anchor="middle" fill="#333">10<tspan font-size="3.3" dy="-2.16">3</tspan></text>
<text x="381.0" y="269.8" font-size="4.8" font-weight="bold" text-anchor="middle" fill="#333">10<tspan font-size="3.3" dy="-2.16">4</tspan></text>
<text x="326.3" y="247.0" font-size="6.2" font-weight="bold" text-anchor="middle" fill="#111">6.21%</text>
<defs><filter id="bl2e" x="-50%" y="-50%" width="200%" height="200%"><feGaussianBlur stdDeviation="1.4"/></filter></defs>
<path d="M419.00,141.00 C419.93,139.67 421.83,138.40 424.00,137.50 C426.17,136.60 429.33,136.02 432.00,135.60 C434.67,135.18 437.67,134.87 440.00,135.00 C442.33,135.13 444.42,135.57 446.00,136.40 C447.58,137.23 448.73,138.40 449.50,140.00 C450.27,141.60 450.58,143.83 450.60,146.00 C450.62,148.17 450.20,151.00 449.60,153.00 C449.00,155.00 447.83,156.33 447.00,158.00 C446.17,159.67 445.33,161.25 444.60,163.00 C443.87,164.75 443.20,167.00 442.60,168.50 C442.00,170.00 441.77,172.00 441.00,172.00 C440.23,172.00 439.50,170.17 438.00,168.50 C436.50,166.83 434.00,164.08 432.00,162.00 C430.00,159.92 427.83,158.00 426.00,156.00 C424.17,154.00 422.27,151.75 421.00,150.00 C419.73,148.25 418.73,147.00 418.40,145.50 C418.07,144.00 418.07,142.33 419.00,141.00Z" fill="#e2e2e2" opacity="0.9"/>
<ellipse cx="435" cy="142" rx="10" ry="5.5" fill="#a8a8a8" opacity="0.7" filter="url(#bl2)"/>
<ellipse cx="439" cy="141" rx="4" ry="2.5" fill="#888" opacity="0.5" filter="url(#bl2)"/>
<ellipse cx="429" cy="145" rx="4" ry="3" fill="#999" opacity="0.5" filter="url(#bl2)"/>
<path d="M418.87,141.35 C419.55,139.96 421.11,138.25 423.20,137.18 C425.29,136.12 428.72,135.35 431.43,134.95 C434.15,134.54 437.10,134.50 439.50,134.75 C441.90,135.01 444.19,135.54 445.83,136.46 C447.48,137.39 448.66,138.61 449.37,140.30 C450.09,141.99 450.21,144.44 450.13,146.60 C450.04,148.77 449.39,151.36 448.84,153.27 C448.30,155.19 447.67,156.55 446.87,158.09 C446.06,159.63 444.66,160.66 444.02,162.52 C443.39,164.38 443.64,167.62 443.08,169.25 C442.53,170.88 441.45,172.33 440.70,172.31 C439.95,172.29 440.16,170.97 438.60,169.13 C437.04,167.29 433.52,163.35 431.34,161.26 C429.15,159.17 427.30,158.50 425.47,156.61 C423.64,154.71 421.41,151.72 420.36,149.87 C419.30,148.03 419.38,146.97 419.13,145.55 C418.88,144.13 418.19,142.75 418.87,141.35Z" fill="none" stroke="#a4a4a4" stroke-width="0.5"/>
<path d="M421.08,140.63 C421.92,139.51 423.78,138.94 425.57,138.23 C427.36,137.53 429.33,136.80 431.81,136.40 C434.28,136.00 438.24,135.73 440.40,135.86 C442.57,135.99 443.57,136.50 444.78,137.18 C446.00,137.85 446.84,138.60 447.68,139.92 C448.52,141.25 449.77,143.23 449.83,145.10 C449.89,146.98 448.79,149.27 448.03,151.17 C447.28,153.06 446.08,154.92 445.31,156.46 C444.54,157.99 443.97,158.94 443.42,160.36 C442.88,161.79 442.48,163.69 442.03,165.01 C441.57,166.33 441.37,168.14 440.71,168.29 C440.04,168.45 439.49,167.37 438.03,165.94 C436.57,164.50 433.70,161.62 431.93,159.68 C430.15,157.73 429.04,156.05 427.38,154.28 C425.72,152.51 423.10,150.60 421.95,149.05 C420.80,147.50 420.64,146.37 420.50,144.97 C420.35,143.57 420.23,141.76 421.08,140.63Z" fill="none" stroke="#9c9c9c" stroke-width="0.5"/>
<path d="M423.17,140.91 C424.04,139.76 425.55,138.21 427.12,137.54 C428.68,136.86 430.51,137.20 432.54,136.87 C434.56,136.55 437.23,135.56 439.27,135.57 C441.30,135.58 443.41,136.14 444.75,136.93 C446.09,137.71 446.72,138.95 447.32,140.29 C447.92,141.63 448.36,143.31 448.37,144.96 C448.38,146.61 448.01,148.55 447.40,150.21 C446.79,151.86 445.44,153.44 444.71,154.91 C443.97,156.37 443.49,157.65 442.99,158.99 C442.49,160.34 442.24,161.76 441.69,162.96 C441.14,164.15 440.37,166.18 439.71,166.18 C439.05,166.17 438.87,164.39 437.74,162.90 C436.60,161.42 434.39,158.93 432.88,157.26 C431.38,155.60 430.27,154.41 428.72,152.89 C427.16,151.38 424.70,149.56 423.56,148.15 C422.43,146.74 421.96,145.64 421.90,144.43 C421.83,143.23 422.30,142.06 423.17,140.91Z" fill="none" stroke="#949494" stroke-width="0.5"/>
<path d="M424.83,140.54 C425.51,139.68 427.00,138.91 428.36,138.39 C429.71,137.86 431.13,137.62 432.96,137.40 C434.78,137.18 437.65,137.11 439.31,137.06 C440.98,137.00 441.78,136.55 442.93,137.07 C444.09,137.60 445.72,138.99 446.23,140.22 C446.75,141.46 446.06,142.93 446.03,144.49 C446.01,146.05 446.40,148.29 446.10,149.57 C445.80,150.86 444.96,151.18 444.24,152.18 C443.52,153.18 442.42,154.32 441.78,155.57 C441.14,156.82 440.65,158.52 440.39,159.67 C440.13,160.81 440.64,162.33 440.20,162.44 C439.76,162.55 438.95,161.55 437.76,160.33 C436.57,159.12 434.47,156.59 433.08,155.15 C431.69,153.72 430.60,153.17 429.40,151.73 C428.19,150.28 426.71,147.82 425.87,146.46 C425.02,145.10 424.49,144.54 424.32,143.55 C424.14,142.56 424.16,141.40 424.83,140.54Z" fill="none" stroke="#8c8c8c" stroke-width="0.5"/>
<path d="M426.49,140.49 C427.10,139.72 428.29,139.32 429.55,138.74 C430.81,138.16 432.58,137.36 434.05,137.01 C435.53,136.66 437.06,136.56 438.38,136.64 C439.70,136.71 440.99,136.87 441.96,137.46 C442.94,138.06 443.69,139.26 444.24,140.20 C444.78,141.15 445.23,141.79 445.22,143.13 C445.20,144.47 444.51,147.02 444.15,148.25 C443.79,149.48 443.54,149.55 443.07,150.52 C442.59,151.48 441.82,152.92 441.32,154.03 C440.82,155.14 440.31,156.26 440.07,157.18 C439.82,158.09 440.30,159.55 439.85,159.53 C439.40,159.52 438.31,158.10 437.35,157.09 C436.39,156.09 435.33,154.84 434.12,153.52 C432.90,152.19 431.26,150.39 430.07,149.14 C428.88,147.88 427.68,146.95 426.99,145.99 C426.30,145.02 426.02,144.28 425.94,143.37 C425.86,142.45 425.89,141.26 426.49,140.49Z" fill="none" stroke="#848484" stroke-width="0.5"/>
<path d="M427.85,140.89 C428.28,140.19 429.45,139.14 430.56,138.65 C431.68,138.17 433.20,138.22 434.54,138.00 C435.89,137.77 437.53,137.30 438.64,137.31 C439.74,137.33 440.37,137.69 441.15,138.10 C441.94,138.51 442.88,139.01 443.35,139.77 C443.83,140.53 444.04,141.49 444.00,142.65 C443.96,143.82 443.48,145.67 443.11,146.74 C442.73,147.82 442.14,148.26 441.75,149.11 C441.37,149.96 441.18,151.04 440.82,151.84 C440.46,152.64 439.88,153.17 439.61,153.90 C439.34,154.63 439.49,156.10 439.19,156.22 C438.89,156.33 438.67,155.50 437.83,154.60 C436.98,153.69 435.15,151.83 434.11,150.79 C433.07,149.75 432.39,149.32 431.59,148.36 C430.80,147.40 429.95,145.96 429.36,145.05 C428.77,144.13 428.28,143.56 428.03,142.86 C427.78,142.17 427.43,141.59 427.85,140.89Z" fill="none" stroke="#7c7c7c" stroke-width="0.5"/>
<path d="M429.55,140.40 C429.99,139.85 430.79,139.33 431.74,139.01 C432.69,138.69 434.16,138.60 435.23,138.47 C436.30,138.35 437.29,138.29 438.16,138.25 C439.04,138.22 439.86,137.99 440.48,138.28 C441.10,138.57 441.59,139.26 441.89,140.00 C442.18,140.75 442.18,141.92 442.26,142.75 C442.34,143.59 442.61,144.26 442.38,145.01 C442.15,145.76 441.31,146.50 440.89,147.27 C440.47,148.04 440.16,148.85 439.87,149.63 C439.59,150.42 439.39,151.35 439.19,151.97 C439.00,152.60 438.95,153.37 438.69,153.37 C438.43,153.36 438.26,152.67 437.64,151.95 C437.01,151.23 435.75,149.97 434.92,149.05 C434.10,148.13 433.43,147.23 432.69,146.42 C431.94,145.61 431.04,144.85 430.43,144.17 C429.83,143.48 429.20,142.94 429.06,142.32 C428.91,141.69 429.10,140.95 429.55,140.40Z" fill="none" stroke="#747474" stroke-width="0.5"/>
<path d="M431.21,140.48 C431.50,140.10 432.04,139.74 432.75,139.40 C433.45,139.06 434.55,138.59 435.44,138.43 C436.33,138.27 437.41,138.39 438.11,138.46 C438.81,138.52 439.15,138.51 439.65,138.81 C440.15,139.10 440.85,139.65 441.09,140.21 C441.33,140.77 441.12,141.47 441.10,142.16 C441.08,142.86 441.11,143.78 440.97,144.40 C440.83,145.03 440.50,145.42 440.25,145.93 C440.00,146.43 439.73,146.89 439.47,147.43 C439.21,147.96 438.86,148.66 438.68,149.16 C438.51,149.66 438.61,150.41 438.41,150.42 C438.20,150.43 437.92,149.80 437.45,149.22 C436.98,148.64 436.23,147.64 435.59,146.95 C434.94,146.26 434.20,145.73 433.57,145.09 C432.94,144.46 432.25,143.73 431.82,143.15 C431.39,142.58 431.10,142.11 431.00,141.67 C430.90,141.22 430.91,140.85 431.21,140.48Z" fill="none" stroke="#6c6c6c" stroke-width="0.5"/>
<path d="M432.73,140.21 C433.00,139.91 433.57,139.68 434.06,139.47 C434.55,139.25 435.08,139.01 435.68,138.92 C436.28,138.82 437.06,138.85 437.66,138.91 C438.26,138.98 438.91,139.12 439.31,139.29 C439.71,139.46 439.92,139.53 440.06,139.91 C440.21,140.29 440.17,141.02 440.17,141.58 C440.16,142.13 440.16,142.76 440.03,143.24 C439.91,143.71 439.63,144.01 439.43,144.41 C439.23,144.81 439.01,145.22 438.83,145.62 C438.66,146.03 438.53,146.51 438.37,146.83 C438.22,147.14 438.10,147.54 437.90,147.51 C437.70,147.49 437.51,147.07 437.19,146.68 C436.87,146.29 436.44,145.61 435.99,145.16 C435.53,144.71 434.94,144.44 434.48,143.98 C434.02,143.53 433.58,142.87 433.23,142.43 C432.89,141.98 432.49,141.68 432.41,141.31 C432.32,140.94 432.45,140.52 432.73,140.21Z" fill="none" stroke="#646464" stroke-width="0.5"/>
<path d="M434.08,140.09 C434.22,139.87 434.57,139.67 434.94,139.55 C435.31,139.44 435.89,139.48 436.31,139.40 C436.72,139.33 437.08,139.10 437.42,139.10 C437.76,139.10 438.09,139.29 438.36,139.42 C438.63,139.56 438.93,139.65 439.06,139.93 C439.18,140.20 439.12,140.69 439.11,141.05 C439.10,141.41 439.09,141.82 438.99,142.11 C438.90,142.40 438.66,142.52 438.53,142.78 C438.40,143.04 438.34,143.37 438.22,143.67 C438.10,143.98 437.90,144.34 437.81,144.59 C437.71,144.84 437.77,145.15 437.65,145.16 C437.53,145.16 437.32,144.90 437.07,144.62 C436.82,144.35 436.42,143.89 436.13,143.52 C435.84,143.16 435.60,142.74 435.31,142.44 C435.02,142.13 434.60,141.95 434.40,141.70 C434.19,141.44 434.16,141.16 434.11,140.89 C434.06,140.62 433.94,140.31 434.08,140.09Z" fill="none" stroke="#5c5c5c" stroke-width="0.5"/>
<path d="M435.43,140.15 C435.53,140.04 435.70,139.91 435.88,139.83 C436.05,139.74 436.26,139.67 436.49,139.63 C436.73,139.58 437.07,139.57 437.30,139.57 C437.53,139.56 437.71,139.53 437.85,139.61 C438.00,139.69 438.11,139.88 438.16,140.03 C438.22,140.18 438.19,140.32 438.19,140.51 C438.19,140.69 438.19,140.96 438.15,141.15 C438.11,141.33 438.01,141.45 437.94,141.61 C437.87,141.78 437.80,141.99 437.72,142.14 C437.65,142.29 437.53,142.39 437.48,142.51 C437.42,142.64 437.47,142.87 437.42,142.89 C437.36,142.90 437.29,142.73 437.16,142.58 C437.03,142.43 436.81,142.19 436.62,141.99 C436.43,141.79 436.19,141.58 436.01,141.39 C435.83,141.20 435.66,140.97 435.54,140.83 C435.42,140.69 435.29,140.64 435.28,140.53 C435.26,140.42 435.33,140.27 435.43,140.15Z" fill="none" stroke="#5c5c5c" stroke-width="0.5"/>
<path d="M455.30,146.37 C455.65,145.29 457.55,142.65 459.30,141.52 C461.04,140.40 463.68,139.63 465.79,139.61 C467.89,139.59 470.24,140.36 471.94,141.42 C473.65,142.48 475.25,144.21 476.02,145.98 C476.78,147.75 476.85,150.00 476.54,152.03 C476.24,154.07 475.20,156.77 474.21,158.17 C473.22,159.57 471.83,160.49 470.60,160.44 C469.37,160.39 467.62,159.41 466.83,157.88 C466.04,156.35 466.73,152.92 465.87,151.28 C465.00,149.63 463.10,148.52 461.65,147.99 C460.21,147.45 458.26,148.33 457.20,148.06 C456.14,147.79 454.95,147.46 455.30,146.37Z" fill="none" stroke="#8a8a8a" stroke-width="0.5"/>
<path d="M458.37,147.08 C458.50,146.28 460.16,144.79 461.56,144.11 C462.96,143.44 465.19,143.10 466.78,143.04 C468.37,142.99 469.84,143.06 471.09,143.79 C472.35,144.51 473.65,146.10 474.30,147.41 C474.96,148.72 475.26,150.19 475.01,151.64 C474.77,153.09 473.60,155.02 472.83,156.11 C472.07,157.21 471.34,158.24 470.43,158.21 C469.52,158.18 467.93,157.12 467.37,155.94 C466.80,154.75 467.64,152.31 467.05,151.09 C466.47,149.88 464.89,148.98 463.85,148.62 C462.81,148.27 461.71,149.21 460.79,148.95 C459.88,148.69 458.24,147.89 458.37,147.08Z" fill="none" stroke="#8a8a8a" stroke-width="0.5"/>
<path d="M462.07,148.48 C462.16,147.91 463.20,146.82 464.13,146.30 C465.05,145.78 466.53,145.40 467.64,145.36 C468.74,145.33 469.90,145.54 470.76,146.09 C471.63,146.64 472.44,147.78 472.84,148.68 C473.24,149.57 473.35,150.47 473.18,151.45 C473.00,152.43 472.32,153.85 471.79,154.56 C471.26,155.28 470.63,155.82 470.00,155.74 C469.38,155.66 468.43,154.83 468.05,154.08 C467.67,153.32 468.13,152.02 467.72,151.22 C467.32,150.43 466.32,149.57 465.62,149.31 C464.93,149.06 464.13,149.83 463.54,149.69 C462.95,149.55 461.97,149.04 462.07,148.48Z" fill="none" stroke="#8a8a8a" stroke-width="0.5"/>
<path d="M465.40,149.58 C465.47,149.28 466.10,148.64 466.63,148.36 C467.16,148.08 467.96,147.92 468.57,147.92 C469.17,147.93 469.80,148.12 470.27,148.39 C470.75,148.66 471.21,149.05 471.40,149.53 C471.59,150.01 471.52,150.70 471.41,151.27 C471.31,151.85 471.02,152.59 470.76,152.98 C470.50,153.38 470.16,153.69 469.85,153.67 C469.54,153.65 469.13,153.29 468.90,152.87 C468.66,152.45 468.70,151.63 468.45,151.17 C468.20,150.71 467.79,150.27 467.41,150.11 C467.04,149.94 466.54,150.26 466.21,150.17 C465.87,150.08 465.33,149.88 465.40,149.58Z" fill="none" stroke="#8a8a8a" stroke-width="0.5"/>
<rect x="453.0" y="135.5" width="28.0" height="28.69999999999999" fill="none" stroke="#6a6ad8" stroke-width="0.8"/>
<text x="467.0" y="171.6" font-size="7.2" font-weight="bold" text-anchor="middle" fill="#111">8.6%</text>
<rect x="417.6" y="121.4" width="66.39999999999998" height="63.19999999999999" fill="none" stroke="#555" stroke-width="0.7"/>
<text x="415.40000000000003" y="186.29999999999998" font-size="4.8" font-weight="bold" text-anchor="end" fill="#333">10<tspan font-size="3.3" dy="-2.16">0</tspan></text>
<text x="415.40000000000003" y="171.39999999999998" font-size="4.8" font-weight="bold" text-anchor="end" fill="#333">10<tspan font-size="3.3" dy="-2.16">1</tspan></text>
<text x="415.40000000000003" y="156.29999999999998" font-size="4.8" font-weight="bold" text-anchor="end" fill="#333">10<tspan font-size="3.3" dy="-2.16">2</tspan></text>
<text x="415.40000000000003" y="140.7" font-size="4.8" font-weight="bold" text-anchor="end" fill="#333">10<tspan font-size="3.3" dy="-2.16">3</tspan></text>
<text x="415.40000000000003" y="124.9" font-size="4.8" font-weight="bold" text-anchor="end" fill="#333">10<tspan font-size="3.3" dy="-2.16">4</tspan></text>
<text x="417.5" y="191.5" font-size="4.8" font-weight="bold" text-anchor="middle" fill="#333">10<tspan font-size="3.3" dy="-2.16">0</tspan></text>
<text x="435.0" y="191.5" font-size="4.8" font-weight="bold" text-anchor="middle" fill="#333">10<tspan font-size="3.3" dy="-2.16">1</tspan></text>
<text x="452.8" y="191.5" font-size="4.8" font-weight="bold" text-anchor="middle" fill="#333">10<tspan font-size="3.3" dy="-2.16">2</tspan></text>
<text x="470.6" y="191.5" font-size="4.8" font-weight="bold" text-anchor="middle" fill="#333">10<tspan font-size="3.3" dy="-2.16">3</tspan></text>
<text x="485.6" y="191.5" font-size="4.8" font-weight="bold" text-anchor="middle" fill="#333">10<tspan font-size="3.3" dy="-2.16">4</tspan></text>
<path d="M419.10,219.90 C420.52,218.63 423.07,217.97 425.90,217.40 C428.73,216.83 433.12,216.37 436.10,216.50 C439.08,216.63 441.67,217.07 443.80,218.20 C445.93,219.33 447.62,221.58 448.90,223.30 C450.18,225.02 451.22,227.13 451.50,228.50 C451.78,229.87 451.03,230.10 450.60,231.50 C450.17,232.90 449.75,235.00 448.90,236.90 C448.05,238.80 446.63,241.05 445.50,242.90 C444.37,244.75 443.67,247.43 442.10,248.00 C440.53,248.57 438.23,246.87 436.10,246.30 C433.97,245.73 431.57,245.45 429.30,244.60 C427.03,243.75 424.33,243.05 422.50,241.20 C420.67,239.35 419.15,236.20 418.30,233.50 C417.45,230.80 417.27,227.27 417.40,225.00 C417.53,222.73 417.68,221.17 419.10,219.90Z" fill="#e2e2e2" opacity="0.9"/>
<ellipse cx="437" cy="227" rx="9" ry="7" fill="#8a8a8a" opacity="0.8" filter="url(#bl2)"/>
<ellipse cx="434" cy="224" rx="3.5" ry="3" fill="#555" opacity="0.6" filter="url(#bl2)"/>
<ellipse cx="444" cy="230" rx="3" ry="3" fill="#606060" opacity="0.6" filter="url(#bl2)"/>
<path d="M419.24,220.54 C420.77,219.35 423.84,218.53 426.53,217.91 C429.21,217.28 432.51,216.75 435.36,216.81 C438.20,216.86 441.31,217.23 443.61,218.23 C445.91,219.23 447.90,221.04 449.15,222.81 C450.41,224.58 450.82,227.31 451.14,228.85 C451.45,230.39 451.35,230.84 451.05,232.06 C450.75,233.28 450.37,234.29 449.34,236.16 C448.31,238.03 446.16,241.39 444.89,243.30 C443.61,245.21 443.05,246.99 441.68,247.61 C440.31,248.23 438.72,247.61 436.67,247.02 C434.62,246.43 431.69,245.06 429.40,244.09 C427.11,243.11 424.75,242.86 422.93,241.19 C421.12,239.51 419.44,236.74 418.51,234.04 C417.58,231.34 417.22,227.25 417.34,225.00 C417.46,222.75 417.71,221.72 419.24,220.54Z" fill="none" stroke="#a4a4a4" stroke-width="0.5"/>
<path d="M421.23,220.58 C422.47,219.33 424.18,218.04 426.76,217.49 C429.33,216.94 433.96,217.05 436.66,217.27 C439.36,217.50 441.16,217.87 442.95,218.85 C444.75,219.82 446.22,221.59 447.45,223.15 C448.68,224.70 450.04,226.93 450.31,228.18 C450.58,229.43 449.54,229.38 449.06,230.65 C448.58,231.91 448.24,234.02 447.44,235.78 C446.64,237.54 445.13,239.64 444.24,241.20 C443.36,242.76 443.41,244.69 442.14,245.16 C440.87,245.62 438.54,244.34 436.61,243.99 C434.68,243.63 432.58,243.75 430.55,243.03 C428.52,242.31 426.12,241.37 424.44,239.66 C422.76,237.96 421.34,235.26 420.49,232.81 C419.64,230.36 419.21,227.01 419.33,224.97 C419.46,222.93 419.99,221.82 421.23,220.58Z" fill="none" stroke="#9c9c9c" stroke-width="0.5"/>
<path d="M422.84,220.23 C424.10,219.32 426.22,219.34 428.55,218.97 C430.87,218.61 434.48,218.01 436.80,218.05 C439.11,218.08 440.79,218.37 442.45,219.19 C444.11,220.02 445.67,221.50 446.75,223.01 C447.83,224.52 448.63,227.01 448.93,228.27 C449.23,229.53 448.95,229.52 448.54,230.58 C448.13,231.65 447.24,233.21 446.48,234.68 C445.72,236.15 444.92,237.96 443.99,239.42 C443.07,240.88 442.30,242.98 440.94,243.44 C439.59,243.90 437.56,242.74 435.86,242.19 C434.16,241.64 432.50,240.95 430.74,240.15 C428.99,239.36 426.68,238.89 425.35,237.43 C424.01,235.98 423.46,233.59 422.73,231.42 C422.00,229.25 420.96,226.28 420.98,224.41 C421.00,222.54 421.58,221.13 422.84,220.23Z" fill="none" stroke="#949494" stroke-width="0.5"/>
<path d="M425.00,221.66 C425.98,220.66 426.94,219.56 428.95,219.11 C430.96,218.65 434.79,218.74 437.05,218.92 C439.30,219.10 441.00,219.40 442.48,220.18 C443.95,220.96 445.00,222.41 445.88,223.57 C446.76,224.74 447.63,226.21 447.75,227.17 C447.87,228.13 446.98,228.25 446.60,229.32 C446.21,230.39 446.04,232.25 445.45,233.57 C444.86,234.89 443.84,236.02 443.05,237.24 C442.26,238.45 441.76,240.50 440.72,240.87 C439.67,241.23 438.23,239.84 436.79,239.41 C435.36,238.98 433.63,238.90 432.10,238.29 C430.57,237.69 428.88,237.05 427.61,235.78 C426.34,234.50 425.25,232.42 424.49,230.64 C423.73,228.86 422.97,226.61 423.05,225.11 C423.14,223.61 424.01,222.66 425.00,221.66Z" fill="none" stroke="#8c8c8c" stroke-width="0.5"/>
<path d="M427.06,221.27 C427.87,220.46 428.75,220.39 430.41,220.20 C432.07,220.02 435.14,220.05 437.03,220.15 C438.93,220.25 440.57,220.21 441.80,220.80 C443.03,221.40 443.67,222.67 444.41,223.72 C445.14,224.78 445.99,226.31 446.21,227.12 C446.42,227.93 445.93,227.74 445.71,228.59 C445.49,229.44 445.47,231.04 444.89,232.22 C444.30,233.40 442.88,234.69 442.19,235.67 C441.49,236.66 441.68,237.73 440.71,238.13 C439.74,238.52 437.66,238.27 436.37,238.05 C435.09,237.83 434.21,237.42 432.98,236.79 C431.75,236.16 430.18,235.37 428.97,234.26 C427.76,233.15 426.29,231.67 425.72,230.13 C425.15,228.60 425.31,226.53 425.54,225.05 C425.76,223.57 426.24,222.08 427.06,221.27Z" fill="none" stroke="#848484" stroke-width="0.5"/>
<path d="M428.44,222.02 C429.14,221.35 430.31,221.28 431.76,221.09 C433.21,220.90 435.61,220.83 437.14,220.88 C438.67,220.92 439.96,220.84 440.95,221.34 C441.93,221.85 442.45,223.08 443.05,223.90 C443.66,224.73 444.37,225.57 444.58,226.30 C444.78,227.04 444.48,227.57 444.29,228.32 C444.11,229.06 443.90,229.80 443.48,230.76 C443.06,231.72 442.31,233.12 441.77,234.07 C441.23,235.02 441.07,236.28 440.24,236.48 C439.41,236.67 437.85,235.54 436.80,235.22 C435.74,234.90 435.04,234.94 433.92,234.56 C432.80,234.19 431.04,233.85 430.08,232.96 C429.13,232.07 428.62,230.52 428.20,229.21 C427.78,227.91 427.51,226.31 427.55,225.11 C427.59,223.91 427.74,222.69 428.44,222.02Z" fill="none" stroke="#7c7c7c" stroke-width="0.5"/>
<path d="M430.15,222.49 C430.72,222.01 431.57,222.10 432.73,221.91 C433.88,221.72 435.86,221.33 437.08,221.35 C438.30,221.38 439.14,221.60 440.03,222.07 C440.93,222.54 441.85,223.45 442.46,224.16 C443.06,224.87 443.60,225.75 443.68,226.33 C443.77,226.91 443.25,227.07 442.98,227.65 C442.71,228.22 442.35,229.04 442.05,229.78 C441.75,230.51 441.58,231.29 441.18,232.07 C440.78,232.85 440.34,234.22 439.65,234.44 C438.96,234.67 437.93,233.70 437.04,233.44 C436.14,233.18 435.27,233.28 434.30,232.88 C433.33,232.48 432.00,231.81 431.21,231.06 C430.42,230.32 429.87,229.45 429.55,228.41 C429.24,227.36 429.21,225.77 429.31,224.78 C429.41,223.79 429.58,222.97 430.15,222.49Z" fill="none" stroke="#747474" stroke-width="0.5"/>
<path d="M431.84,223.18 C432.33,222.76 433.29,222.56 434.16,222.39 C435.02,222.22 436.06,222.15 437.03,222.14 C437.99,222.13 439.21,222.02 439.95,222.34 C440.70,222.66 441.12,223.48 441.49,224.07 C441.86,224.66 442.06,225.40 442.17,225.87 C442.27,226.35 442.21,226.48 442.12,226.92 C442.02,227.37 441.93,227.93 441.59,228.54 C441.24,229.15 440.46,229.99 440.04,230.58 C439.63,231.17 439.53,231.94 439.10,232.09 C438.68,232.24 438.10,231.63 437.46,231.48 C436.82,231.33 435.98,231.48 435.26,231.19 C434.55,230.90 433.80,230.40 433.16,229.74 C432.52,229.08 431.75,228.05 431.43,227.24 C431.12,226.42 431.19,225.53 431.25,224.85 C431.32,224.18 431.36,223.59 431.84,223.18Z" fill="none" stroke="#6c6c6c" stroke-width="0.5"/>
<path d="M433.29,223.29 C433.63,222.99 434.28,223.08 434.94,222.96 C435.60,222.83 436.53,222.54 437.24,222.54 C437.95,222.53 438.69,222.65 439.20,222.91 C439.71,223.18 439.95,223.69 440.29,224.10 C440.64,224.51 441.19,225.02 441.26,225.36 C441.32,225.70 440.81,225.81 440.69,226.15 C440.56,226.50 440.65,226.98 440.51,227.42 C440.37,227.86 440.08,228.33 439.82,228.78 C439.57,229.23 439.39,229.96 439.01,230.13 C438.62,230.30 438.07,229.95 437.51,229.78 C436.95,229.62 436.17,229.33 435.64,229.15 C435.10,228.96 434.70,229.07 434.30,228.66 C433.89,228.24 433.45,227.30 433.21,226.64 C432.97,225.99 432.86,225.31 432.87,224.75 C432.89,224.19 432.94,223.59 433.29,223.29Z" fill="none" stroke="#646464" stroke-width="0.5"/>
<path d="M434.80,223.74 C435.00,223.55 435.40,223.58 435.87,223.48 C436.33,223.38 437.07,223.14 437.57,223.14 C438.06,223.13 438.47,223.27 438.82,223.46 C439.17,223.65 439.47,224.00 439.65,224.28 C439.84,224.55 439.90,224.93 439.92,225.14 C439.94,225.35 439.83,225.31 439.77,225.54 C439.70,225.77 439.65,226.17 439.52,226.51 C439.40,226.84 439.20,227.27 439.03,227.55 C438.86,227.83 438.76,228.10 438.53,228.17 C438.29,228.23 437.98,228.00 437.61,227.91 C437.24,227.83 436.69,227.81 436.32,227.68 C435.96,227.54 435.68,227.38 435.40,227.11 C435.12,226.84 434.76,226.47 434.63,226.06 C434.51,225.64 434.63,225.00 434.66,224.61 C434.69,224.23 434.60,223.93 434.80,223.74Z" fill="none" stroke="#5c5c5c" stroke-width="0.5"/>
<path d="M436.15,224.15 C436.28,224.03 436.53,223.89 436.78,223.82 C437.02,223.75 437.34,223.73 437.61,223.75 C437.88,223.77 438.20,223.86 438.41,223.95 C438.62,224.05 438.75,224.18 438.86,224.32 C438.97,224.46 439.07,224.67 439.07,224.79 C439.08,224.91 438.94,224.92 438.89,225.06 C438.83,225.19 438.81,225.40 438.76,225.59 C438.70,225.78 438.65,226.04 438.56,226.21 C438.47,226.39 438.36,226.61 438.20,226.66 C438.04,226.71 437.78,226.57 437.58,226.50 C437.38,226.43 437.16,226.35 436.98,226.26 C436.79,226.17 436.63,226.13 436.48,225.97 C436.34,225.81 436.17,225.55 436.09,225.31 C436.01,225.08 435.98,224.77 435.99,224.57 C436.00,224.38 436.02,224.28 436.15,224.15Z" fill="none" stroke="#5c5c5c" stroke-width="0.5"/>
<rect x="452.0" y="214.3" width="27.30000000000001" height="29.299999999999983" fill="none" stroke="#6a6ad8" stroke-width="0.8"/>
<text x="466.6" y="253.6" font-size="6.8" font-weight="bold" text-anchor="middle" fill="#111">2.4%</text>
<rect x="415.8" y="200.2" width="70.19999999999999" height="64.19999999999999" fill="none" stroke="#555" stroke-width="0.7"/>
<text x="413.6" y="266.09999999999997" font-size="4.8" font-weight="bold" text-anchor="end" fill="#333">10<tspan font-size="3.3" dy="-2.16">0</tspan></text>
<text x="413.6" y="250.7" font-size="4.8" font-weight="bold" text-anchor="end" fill="#333">10<tspan font-size="3.3" dy="-2.16">1</tspan></text>
<text x="413.6" y="235.1" font-size="4.8" font-weight="bold" text-anchor="end" fill="#333">10<tspan font-size="3.3" dy="-2.16">2</tspan></text>
<text x="413.6" y="219.29999999999998" font-size="4.8" font-weight="bold" text-anchor="end" fill="#333">10<tspan font-size="3.3" dy="-2.16">3</tspan></text>
<text x="413.6" y="203.39999999999998" font-size="4.8" font-weight="bold" text-anchor="end" fill="#333">10<tspan font-size="3.3" dy="-2.16">4</tspan></text>
<text x="417.5" y="271.09999999999997" font-size="4.8" font-weight="bold" text-anchor="middle" fill="#333">10<tspan font-size="3.3" dy="-2.16">0</tspan></text>
<text x="435.0" y="271.09999999999997" font-size="4.8" font-weight="bold" text-anchor="middle" fill="#333">10<tspan font-size="3.3" dy="-2.16">1</tspan></text>
<text x="452.8" y="271.09999999999997" font-size="4.8" font-weight="bold" text-anchor="middle" fill="#333">10<tspan font-size="3.3" dy="-2.16">2</tspan></text>
<text x="470.6" y="271.09999999999997" font-size="4.8" font-weight="bold" text-anchor="middle" fill="#333">10<tspan font-size="3.3" dy="-2.16">3</tspan></text>
<text x="485.6" y="271.09999999999997" font-size="4.8" font-weight="bold" text-anchor="middle" fill="#333">10<tspan font-size="3.3" dy="-2.16">4</tspan></text>
<path d="M462.0,228.6h.6v.6h-.6zM460.6,241.3h.6v.6h-.6zM456.4,215.6h.6v.6h-.6zM461.9,224.4h.6v.6h-.6zM460.1,227.9h.6v.6h-.6zM459.6,230.3h.6v.6h-.6zM454.4,234.7h.6v.6h-.6zM459.5,234.2h.6v.6h-.6zM460.8,235.5h.6v.6h-.6zM458.8,235.9h.6v.6h-.6zM465.2,225.7h.6v.6h-.6zM470.7,228.7h.6v.6h-.6zM463.5,226.5h.6v.6h-.6zM465.5,231.2h.6v.6h-.6zM471.1,227.1h.6v.6h-.6zM464.2,224.4h.6v.6h-.6zM469.7,238.6h.6v.6h-.6zM457.5,228.2h.6v.6h-.6zM461.3,225.8h.6v.6h-.6zM468.5,233.1h.6v.6h-.6zM465.4,222.9h.6v.6h-.6zM462.2,226.5h.6v.6h-.6zM466.6,225.5h.6v.6h-.6zM463.9,219.1h.6v.6h-.6zM464.6,215.7h.6v.6h-.6zM460.2,228.7h.6v.6h-.6zM463.0,225.7h.6v.6h-.6zM463.6,225.7h.6v.6h-.6zM459.5,232.8h.6v.6h-.6z" fill="#888"/>
<line x1="197.4" y1="137.4" x2="197.4" y2="240.6" stroke="#6a6aa4" stroke-width="1.0"/>
<path d="M197.4,133.4 L195.70000000000002,138.0 L199.1,138.0 Z" fill="#24246a"/>
<line x1="298.2" y1="146.4" x2="298.2" y2="210.6" stroke="#6a6aa4" stroke-width="1.0"/>
<path d="M298.2,142.4 L296.5,147.0 L299.9,147.0 Z" fill="#24246a"/>
<line x1="403.8" y1="168.6" x2="403.8" y2="233.6" stroke="#6a6aa4" stroke-width="1.0"/>
<path d="M403.8,164.6 L402.1,169.2 L405.5,169.2 Z" fill="#24246a"/>
<line x1="275.5" y1="152.8" x2="289.90000000000003" y2="152.8" stroke="#3cc83c" stroke-width="1.5"/>
<path d="M293.8,152.8 L289.40000000000003,150.9 L289.40000000000003,154.70000000000002 Z" fill="#3cc83c"/>
<line x1="324.8" y1="150.8" x2="396.5" y2="150.8" stroke="#3cc83c" stroke-width="1.5"/>
<path d="M400.4,150.8 L396.0,148.9 L396.0,152.70000000000002 Z" fill="#3cc83c"/>
<line x1="275.5" y1="236.1" x2="289.90000000000003" y2="236.1" stroke="#3cc83c" stroke-width="1.5"/>
<path d="M293.8,236.1 L289.40000000000003,234.2 L289.40000000000003,238.0 Z" fill="#3cc83c"/>
<line x1="324.4" y1="236.1" x2="396.5" y2="236.1" stroke="#3cc83c" stroke-width="1.5"/>
<path d="M400.4,236.1 L396.0,234.2 L396.0,238.0 Z" fill="#3cc83c"/>
<text x="217.6" y="278.6" font-size="8.8" font-weight="bold">GFP</text>
<line x1="236.7" y1="274.9" x2="266.70000000000005" y2="274.9" stroke="#5a5aa0" stroke-width="1.0"/>
<path d="M271.6,274.9 L266.20000000000005,272.79999999999995 L266.20000000000005,277.0 Z" fill="#24246a"/>
<text x="322.0" y="279.4" font-size="8.8" font-weight="bold">Lin</text>
<line x1="343.0" y1="278.5" x2="369.3" y2="278.5" stroke="#5a5aa0" stroke-width="1.0"/>
<path d="M374.2,278.5 L368.8,276.4 L368.8,280.6 Z" fill="#24246a"/>
<text x="426.0" y="279.2" font-size="8.8" font-weight="bold">Sca-1</text>
<line x1="451.0" y1="278.6" x2="478.1" y2="278.6" stroke="#5a5aa0" stroke-width="1.0"/>
<path d="M483.0,278.6 L477.6,276.5 L477.6,280.70000000000005 Z" fill="#24246a"/>
<text x="201.4" y="254.0" font-size="8.8" font-weight="bold" text-anchor="middle" transform="rotate(-90 201.4 254.0)">SSC</text>
<text x="302.0" y="239.6" font-size="8.6" font-weight="bold" text-anchor="middle" transform="rotate(-90 302.0 239.6)">Cell number</text>
<text x="406.4" y="247.0" font-size="8.6" font-weight="bold" text-anchor="middle" transform="rotate(-90 406.4 247.0)">c-Kit</text>
<text x="503.0" y="153.3" font-size="10.5" font-weight="bold" text-anchor="middle" transform="rotate(-90 503.0 153.3)">HO-1<tspan font-size="5.8" dy="-3.8">+/+</tspan></text>
<text x="502.2" y="229.2" font-size="10.5" font-weight="bold" text-anchor="middle" transform="rotate(-90 502.2 229.2)">HO-1<tspan font-size="5.8" dy="-3.8">+/-</tspan></text>
</svg>
</body></html>
